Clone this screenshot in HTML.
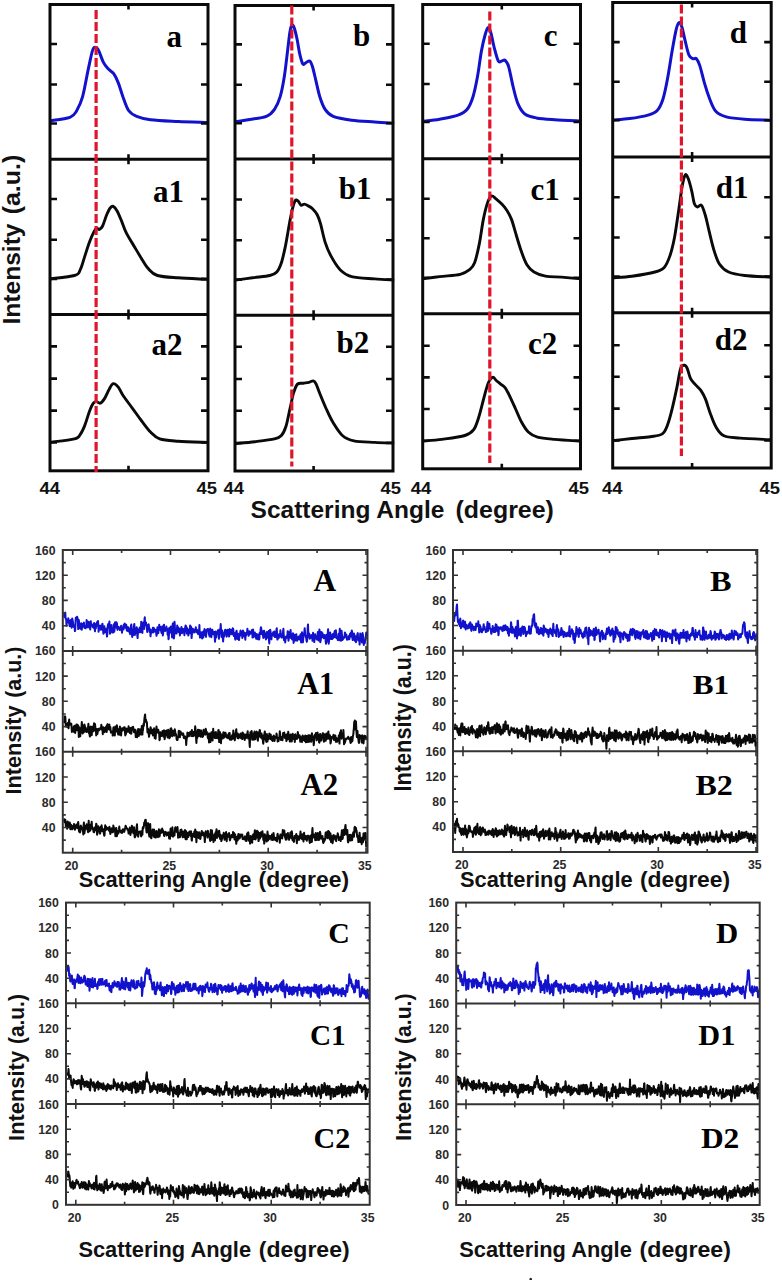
<!DOCTYPE html>
<html><head><meta charset="utf-8"><title>XRD figure</title>
<style>
html,body{margin:0;padding:0;background:#fff;}
body{width:782px;height:1280px;overflow:hidden;font-family:"Liberation Sans",sans-serif;}
svg{display:block;}
</style></head><body>
<svg width="782" height="1280" viewBox="0 0 782 1280">
<g fill="none" stroke-linecap="butt">
<path d="M49.2,120.9 C52.7,120.3 65.3,119.1 69.9,117.4 C74.5,115.7 74.7,114 76.8,110.5 C78.9,107 80.7,103.6 82.6,96.7 C84.5,89.8 86.6,76.8 88.3,69.1 C90,61.4 91.3,54.2 92.5,50.6 C93.7,47 94.2,47.2 95.2,47.2 C96.2,47.2 97.4,48.1 98.7,50.6 C100,53.1 101.8,59.2 103.3,62.2 C104.8,65.2 106.2,66.7 107.9,68.6 C109.6,70.5 112,71.3 113.7,73.7 C115.4,76.1 116.8,79.1 118.3,82.9 C119.8,86.7 121.2,92.1 122.9,96.7 C124.6,101.3 126.3,107.2 128.6,110.5 C130.9,113.8 133,114.8 136.7,116.3 C140.3,117.8 143.6,118.8 150.5,119.7 C157.4,120.6 168.5,121 178.1,121.5 C187.7,122 203,122.3 208,122.5" stroke="#1212cc" stroke-width="3.0" stroke-linejoin="round"/>
<path d="M49.2,278.9 C53.4,278.3 69.3,277 74.5,275.5 C79.7,274 78.6,273 80.3,269.7 C82,266.4 83.4,260.5 84.9,255.9 C86.4,251.3 88.1,245.9 89.5,242.1 C90.9,238.3 92.2,235.2 93.4,232.9 C94.6,230.6 95.4,228.9 96.4,228.3 C97.4,227.7 98.4,229.8 99.4,229.4 C100.4,229 101.4,228.5 102.6,226 C103.8,223.5 105.5,217.5 106.8,214.5 C108.1,211.5 109.1,209.3 110.2,208 C111.3,206.7 112.1,205.9 113.2,206.4 C114.3,206.9 115.7,208.5 117.1,211 C118.5,213.5 120.2,217.8 121.7,221.4 C123.2,225.1 124.2,228.7 126.3,232.9 C128.4,237.1 131.9,242.5 134.4,246.7 C136.9,250.9 139,254.5 141.3,258.2 C143.6,261.9 145.5,265.7 148.2,268.6 C150.9,271.5 152.4,274 157.4,275.5 C162.4,277 169.7,277.2 178.1,277.8 C186.5,278.4 203,279.1 208,279.4" stroke="#0a0a0a" stroke-width="2.9" stroke-linejoin="round"/>
<path d="M49.2,442.4 C53.4,441.8 69.3,440.2 74.5,438.9 C79.7,437.5 78.6,436.6 80.3,434.3 C82,432 83.4,428.9 84.9,425.1 C86.4,421.3 88.1,415 89.5,411.3 C90.9,407.6 92.2,404.8 93.4,403.2 C94.6,401.6 95.2,401.6 96.4,401.6 C97.6,401.6 99,403.7 100.3,403.2 C101.6,402.7 103,400.9 104.5,398.6 C106,396.3 107.6,391.9 109.1,389.4 C110.5,386.9 111.7,384.1 113.2,383.7 C114.7,383.3 116.7,385.2 118.3,387.1 C119.9,389 120.6,391.8 122.9,395.2 C125.2,398.6 129,403.6 132.1,407.8 C135.2,412 138.2,416.5 141.3,420.5 C144.4,424.5 147.4,428.9 150.5,432 C153.6,435.1 155.1,437.4 159.7,438.9 C164.3,440.4 170,440.6 178.1,441.2 C186.2,441.8 203,442.2 208,442.4" stroke="#0a0a0a" stroke-width="2.9" stroke-linejoin="round"/>
<rect x="50" y="4.5" width="158" height="466.3" stroke="#0a0a0a" stroke-width="3"/>
<path d="M50,159.2H208 M50,314.4H208" stroke="#0a0a0a" stroke-width="3"/>
<path d="M50,44h7 M208,44h-7 M50,84.5h7 M208,84.5h-7 M50,123.5h7 M208,123.5h-7 M128.5,4.5v5 M128.5,159.2v-5 M50,199h7 M208,199h-7 M50,239.8h7 M208,239.8h-7 M50,278.9h7 M208,278.9h-7 M128.5,159.2v5 M128.5,314.4v-5 M50,346.4h7 M208,346.4h-7 M50,378.6h7 M208,378.6h-7 M50,410.6h7 M208,410.6h-7 M50,442.4h7 M208,442.4h-7 M128.5,314.4v5 M128.5,470.8v-5 " stroke="#0a0a0a" stroke-width="2.6"/>
<path d="M96.1,10V472" stroke="#e0142a" stroke-width="3.2" stroke-dasharray="9 3"/>
<path d="M234.2,122 C236.5,121.6 242.6,120.7 248,119.7 C253.4,118.8 262,118 266.4,116.3 C270.8,114.6 272.2,112.6 274.5,109.3 C276.8,106 278.6,102.2 280.2,96.7 C281.8,91.2 283.2,83.7 284.4,76 C285.6,68.3 286.7,57.9 287.6,50.6 C288.5,43.3 289.2,36.4 289.9,32.2 C290.6,28 291.1,26.1 291.8,25.3 C292.5,24.5 293.3,25.5 294.1,27.6 C294.9,29.7 295.9,33.6 296.8,38 C297.8,42.4 298.8,49.8 299.8,54.1 C300.8,58.4 301.8,62.6 302.8,64 C303.8,65.4 304.9,63.1 306,62.6 C307.1,62.1 308.6,60.3 309.7,61 C310.8,61.7 311.5,63.5 312.5,66.8 C313.5,70.1 314.7,75.6 315.9,80.6 C317.1,85.6 318.3,91.9 319.8,96.7 C321.3,101.5 322.9,106 325.1,109.3 C327.3,112.6 328.8,114.5 333.2,116.3 C337.6,118.1 344.7,119.2 351.6,120.2 C358.5,121.2 367.5,121.5 374.6,122 C381.7,122.5 390.9,123 394.2,123.2" stroke="#1212cc" stroke-width="3.0" stroke-linejoin="round"/>
<path d="M235.4,280.1 C238.3,279.7 246.8,278.6 252.6,277.8 C258.3,277 265.9,276.5 269.9,275.5 C273.9,274.5 274.9,274.1 276.8,272 C278.7,269.9 280,267 281.4,262.8 C282.8,258.6 284,252.8 285.3,246.7 C286.6,240.6 287.9,232.1 289,226 C290.1,219.9 291.2,214.1 292.2,209.9 C293.2,205.7 294.2,202.1 295.2,200.6 C296.2,199.1 297.2,200.3 298.2,201.1 C299.2,201.9 300,204.7 301,205.2 C302,205.7 303.2,204 304.4,204.1 C305.5,204.2 306.5,204.9 307.9,205.7 C309.2,206.5 311,207.2 312.5,208.7 C314,210.2 315.8,212 317.1,214.5 C318.4,217 319.2,219.1 320.5,223.7 C321.8,228.3 323.4,236.7 325.1,242.1 C326.8,247.5 328.4,251.3 330.9,255.9 C333.4,260.5 336.7,266.2 340.1,269.7 C343.6,273.1 345.9,275.1 351.6,276.6 C357.4,278.1 367.5,278.3 374.6,278.9 C381.7,279.5 390.9,279.9 394.2,280.1" stroke="#0a0a0a" stroke-width="2.9" stroke-linejoin="round"/>
<path d="M235.4,443.5 C238.7,443.2 248.4,442.5 254.9,441.7 C261.4,440.9 270.1,439.9 274.5,438.9 C278.9,437.9 279.5,437.6 281.4,435.5 C283.3,433.4 284.6,430.7 286,426.3 C287.4,421.9 288.6,414.6 289.9,409 C291.2,403.4 292.3,397 293.6,392.9 C294.9,388.8 295.9,385.7 297.5,384.1 C299.1,382.5 301.4,383.5 303.3,383.2 C305.2,382.9 307.4,382.7 309,382.3 C310.6,381.9 312.1,380.7 313.2,380.9 C314.3,381.1 314.7,381.3 315.9,383.7 C317.1,386.1 318.8,391 320.5,395.2 C322.2,399.4 324.2,404.4 326.3,409 C328.4,413.6 330.5,418.4 333.2,422.8 C335.9,427.2 338.9,432.5 342.4,435.5 C345.8,438.5 348.5,439.7 353.9,440.8 C359.3,441.9 367.9,442 374.6,442.4 C381.3,442.8 390.9,442.9 394.2,443" stroke="#0a0a0a" stroke-width="2.9" stroke-linejoin="round"/>
<rect x="235" y="5.5" width="158" height="465.5" stroke="#0a0a0a" stroke-width="3"/>
<path d="M235,159H393 M235,315.2H393" stroke="#0a0a0a" stroke-width="3"/>
<path d="M235,44.4h7 M393,44.4h-7 M235,84.7h7 M393,84.7h-7 M235,123.2h7 M393,123.2h-7 M313.6,5.5v5 M313.6,159v-5 M235,199.5h7 M393,199.5h-7 M235,240.2h7 M393,240.2h-7 M235,279.6h7 M393,279.6h-7 M313.6,159v5 M313.6,315.2v-5 M235,346.8h7 M393,346.8h-7 M235,379h7 M393,379h-7 M235,410.8h7 M393,410.8h-7 M235,443h7 M393,443h-7 M313.6,315.2v5 M313.6,471v-5 " stroke="#0a0a0a" stroke-width="2.6"/>
<path d="M291.8,5.5V466.5" stroke="#e0142a" stroke-width="3.2" stroke-dasharray="9 3"/>
<path d="M422.4,121.5 C425.3,121.1 433.7,120.3 439.6,119.2 C445.5,118.1 453.4,116.8 458,115.1 C462.6,113.4 464.7,112.4 467.2,109.3 C469.7,106.2 471.3,102.2 473,96.7 C474.7,91.2 476.2,83.7 477.6,76 C479,68.3 480.2,57.5 481.5,50.6 C482.8,43.7 484.1,38.3 485.2,34.5 C486.3,30.7 487.1,28 488,27.6 C488.9,27.2 489.6,28.8 490.7,32.2 C491.8,35.7 493.1,43.5 494.4,48.3 C495.7,53.1 497.1,58.9 498.3,61 C499.5,63.1 500.7,61.1 501.8,61 C502.9,60.9 504.1,59.3 505.2,60.3 C506.3,61.3 507.4,62.3 508.7,66.8 C510,71.3 511.8,81.4 513.3,87.5 C514.8,93.6 516,99.2 517.9,103.6 C519.8,108 521.7,111.6 524.8,114 C527.9,116.4 531.3,117 536.3,117.9 C541.3,118.9 547.2,119.2 554.7,119.7 C562.2,120.2 576.8,120.7 581.2,120.9" stroke="#1212cc" stroke-width="3.0" stroke-linejoin="round"/>
<path d="M422.4,278.9 C425.3,278.5 433.3,277.4 439.6,276.6 C445.9,275.8 455.3,275.5 460.3,274.3 C465.3,273.1 467.2,271.6 469.6,269.7 C472,267.8 473,267 474.6,262.8 C476.2,258.6 477.7,251.7 479.2,244.4 C480.7,237.1 482,226 483.4,219.1 C484.8,212.2 486.2,206.8 487.5,202.9 C488.8,199.1 490,196.7 491.4,196 C492.8,195.3 494.3,197.5 496,198.8 C497.7,200.2 500,202.2 501.8,204.1 C503.6,206 505.2,207.8 506.8,210.3 C508.4,212.8 509.9,215.3 511.4,219.1 C512.9,222.9 514,227.5 515.6,232.9 C517.2,238.3 519.4,245.9 521.3,251.3 C523.2,256.7 525,261.7 527.1,265.1 C529.2,268.6 530.9,270.1 534,272 C537.1,273.9 540.9,275.3 545.5,276.2 C550.1,277.1 555.6,276.7 561.6,277.1 C567.6,277.6 577.9,278.6 581.2,278.9" stroke="#0a0a0a" stroke-width="2.9" stroke-linejoin="round"/>
<path d="M422.4,441.2 C425.6,440.9 434.8,440.3 441.9,439.4 C449,438.4 459.6,437.1 464.9,435.5 C470.2,433.9 471.4,432.8 473.7,429.7 C476,426.6 477.2,422 478.8,417 C480.4,412 481.9,405.4 483.4,399.8 C484.9,394.2 486.5,387.5 488,383.7 C489.5,379.9 491.3,377.8 492.6,377.2 C493.9,376.6 494.7,379 496,380.2 C497.3,381.4 499.1,382.8 500.6,384.1 C502.1,385.4 503.7,385.8 505.2,387.8 C506.7,389.8 508.1,392.8 509.8,396.3 C511.5,399.8 513.7,404.8 515.6,409 C517.5,413.2 519.2,417.8 521.3,421.6 C523.4,425.4 525.6,429.4 528.3,432 C531,434.6 533.1,435.9 537.5,437.1 C541.9,438.3 547.4,438.7 554.7,439.4 C562,440.1 576.8,440.9 581.2,441.2" stroke="#0a0a0a" stroke-width="2.9" stroke-linejoin="round"/>
<rect x="422.7" y="4.5" width="157.8" height="464.3" stroke="#0a0a0a" stroke-width="3"/>
<path d="M422.7,158.8H580.5 M422.7,313.7H580.5" stroke="#0a0a0a" stroke-width="3"/>
<path d="M422.7,43.7h7 M580.5,43.7h-7 M422.7,84h7 M580.5,84h-7 M422.7,122h7 M580.5,122h-7 M501.8,4.5v5 M501.8,158.8v-5 M422.7,198.8h7 M580.5,198.8h-7 M422.7,238.2h7 M580.5,238.2h-7 M422.7,277.8h7 M580.5,277.8h-7 M501.8,158.8v5 M501.8,313.7v-5 M422.7,345.7h7 M580.5,345.7h-7 M422.7,377.4h7 M580.5,377.4h-7 M422.7,409h7 M580.5,409h-7 M422.7,440.8h7 M580.5,440.8h-7 M501.8,313.7v5 M501.8,468.8v-5 " stroke="#0a0a0a" stroke-width="2.6"/>
<path d="M489.8,11.5V463" stroke="#e0142a" stroke-width="3.2" stroke-dasharray="9 3"/>
<path d="M612.4,120.2 C615.3,119.9 623.7,119.4 629.6,118.6 C635.5,117.8 643.4,116.4 648,115.1 C652.6,113.8 654.7,113.2 657.2,110.5 C659.7,107.8 661.3,104.4 663,99 C664.7,93.6 666.1,86.4 667.6,78.3 C669.1,70.2 670.8,58.7 672.2,50.6 C673.6,42.5 675,34.6 676.1,29.9 C677.2,25.2 678.1,23 679.1,22.6 C680.1,22.2 681.1,24.5 682.1,27.6 C683.1,30.7 684.1,36.8 685.3,41.4 C686.4,46 687.7,52.3 689,55.2 C690.3,58.1 691.7,58.1 692.9,58.7 C694.1,59.3 695.2,57.6 696.4,58.7 C697.5,59.9 698.5,61.6 699.8,65.6 C701.1,69.6 702.8,77.3 704.4,82.9 C706,88.5 707.8,94.2 709.7,99 C711.6,103.8 713.2,108.6 716,111.6 C718.8,114.6 721.5,115.6 726.3,116.9 C731.1,118.2 737.2,118.7 744.7,119.2 C752.2,119.8 766.8,120 771.2,120.2" stroke="#1212cc" stroke-width="3.0" stroke-linejoin="round"/>
<path d="M612.4,277.8 C615.6,277.5 624.8,277.2 631.9,276.2 C639,275.2 649.5,273.5 654.9,272 C660.3,270.5 661.7,270.1 664.2,267.4 C666.7,264.7 668.2,260.9 669.9,255.9 C671.6,250.9 673.1,244.8 674.5,237.5 C675.9,230.2 677.1,220.6 678.4,212.2 C679.7,203.8 681,193 682.1,186.8 C683.2,180.6 684.3,176.2 685.3,174.9 C686.3,173.6 687.2,176.1 688.3,178.8 C689.4,181.6 690.8,187.2 691.8,191.4 C692.8,195.6 693.5,201.5 694.5,204.1 C695.5,206.7 696.4,206.9 697.5,207.1 C698.6,207.3 700.1,204 701.4,205.2 C702.7,206.4 703.8,210.3 705.1,214.5 C706.4,218.7 707.6,224.8 709,230.6 C710.4,236.3 711.9,243.4 713.6,249 C715.3,254.6 716.9,260.2 719.4,264 C721.9,267.8 724.4,270.1 728.6,272 C732.8,273.9 737.6,274.6 744.7,275.5 C751.8,276.4 766.8,276.8 771.2,277.1" stroke="#0a0a0a" stroke-width="2.9" stroke-linejoin="round"/>
<path d="M612.4,440.8 C615.6,440.4 625.6,439.2 631.9,438.5 C638.2,437.8 645.2,437.5 650.3,436.7 C655.4,435.9 659.4,435.9 662.3,433.9 C665.2,431.9 666,428.9 667.6,424.7 C669.2,420.5 670.7,414.7 672.2,408.6 C673.7,402.5 675.4,394.6 676.8,387.9 C678.2,381.2 679.4,372.1 680.7,368.3 C682,364.5 683.3,365.3 684.4,365.3 C685.5,365.3 686.2,366.1 687.2,368.3 C688.2,370.5 689.3,376 690.6,378.7 C691.9,381.4 693.5,382.4 695.2,384.4 C696.9,386.4 699.3,388.1 701,390.6 C702.7,393.1 704.1,395.6 705.6,399.4 C707.1,403.2 708.5,408.6 710.2,413.2 C711.9,417.8 713.7,423.2 716,427 C718.3,430.8 720,433.9 724,435.8 C728,437.7 732.2,437.5 740.1,438.1 C748,438.8 766,439.4 771.2,439.7" stroke="#0a0a0a" stroke-width="2.9" stroke-linejoin="round"/>
<rect x="612.7" y="2.5" width="158.5" height="465.5" stroke="#0a0a0a" stroke-width="3"/>
<path d="M612.7,157H771.2 M612.7,312.7H771.2" stroke="#0a0a0a" stroke-width="3"/>
<path d="M612.7,42.1h7 M771.2,42.1h-7 M612.7,81.7h7 M771.2,81.7h-7 M612.7,120.2h7 M771.2,120.2h-7 M692.1,2.5v5 M692.1,157v-5 M612.7,197.2h7 M771.2,197.2h-7 M612.7,237.5h7 M771.2,237.5h-7 M612.7,276.6h7 M771.2,276.6h-7 M692.1,157v5 M692.1,312.7v-5 M612.7,345.3h7 M771.2,345.3h-7 M612.7,376.8h7 M771.2,376.8h-7 M612.7,408.6h7 M771.2,408.6h-7 M612.7,440.4h7 M771.2,440.4h-7 M692.1,312.7v5 M692.1,468v-5 " stroke="#0a0a0a" stroke-width="2.6"/>
<path d="M681.4,4.6V456" stroke="#e0142a" stroke-width="3.2" stroke-dasharray="9 3"/>
</g>
<g font-family="Liberation Serif" font-weight="bold" font-size="31" fill="#000">
<text x="166.5" y="47.2">a</text>
<text x="153.1" y="201.8">a1</text>
<text x="151.5" y="354.9">a2</text>
<text x="353.1" y="46">b</text>
<text x="338.8" y="198.8">b1</text>
<text x="336.5" y="352.6">b2</text>
<text x="543.7" y="46">c</text>
<text x="530.4" y="200.2">c1</text>
<text x="528.1" y="353.7">c2</text>
<text x="729.7" y="43.3">d</text>
<text x="715.8" y="198.3">d1</text>
<text x="714.7" y="349.9">d2</text>
</g>
<g font-family="Liberation Sans" font-weight="bold" font-size="17" fill="#111">
<text x="39.6" y="494" textLength="20.5" lengthAdjust="spacingAndGlyphs">44</text>
<text x="196.5" y="494" textLength="20.5" lengthAdjust="spacingAndGlyphs">45</text>
<text x="223.4" y="494" textLength="20.5" lengthAdjust="spacingAndGlyphs">44</text>
<text x="380.5" y="494" textLength="20.5" lengthAdjust="spacingAndGlyphs">45</text>
<text x="410.8" y="494" textLength="20.5" lengthAdjust="spacingAndGlyphs">44</text>
<text x="568.5" y="494" textLength="20.5" lengthAdjust="spacingAndGlyphs">45</text>
<text x="602" y="494" textLength="20.5" lengthAdjust="spacingAndGlyphs">44</text>
<text x="759.5" y="494" textLength="20.5" lengthAdjust="spacingAndGlyphs">45</text>
</g>
<text transform="translate(250.60,518.00) scale(1.0895,1.0238)" font-family="Liberation Sans" font-weight="bold" font-size="22.5" fill="#111">Scattering Angle</text>
<text transform="translate(455.50,518.00) scale(1.1086,1.0238)" font-family="Liberation Sans" font-weight="bold" font-size="22.5" fill="#111">(degree)</text>
<text transform="translate(19.60,324.50) rotate(-90) scale(1.0684,1.0315)" font-family="Liberation Sans" font-weight="bold" font-size="23" fill="#111">Intensity</text>
<text transform="translate(19.60,214.30) rotate(-90) scale(1.0842,1.0315)" font-family="Liberation Sans" font-weight="bold" font-size="23" fill="#111">(a.u.)</text>
<g fill="none">
<polyline points="63.8,616.9 64.1,615.1 64.4,615.9 64.7,617.1 65,613.1 65.3,612.6 65.6,618.8 65.9,618.5 66.2,619.5 66.5,625.8 66.8,622.6 67.1,619.9 67.4,620.4 67.7,619.9 68,619.7 68.3,618.3 68.6,620.3 68.9,623.1 69.2,623.4 69.5,625.3 69.8,626.1 70.1,623.7 70.4,622.1 70.7,620 71,620.4 71.3,624.8 71.6,627.7 71.9,624.4 72.2,618.5 72.5,619.6 72.8,621.3 73.1,623.4 73.4,626.6 73.7,626.4 74,627.2 74.3,625.4 74.6,625.9 74.9,631.1 75.2,630.3 75.5,622.4 75.8,617.7 76.1,618.3 76.4,617.5 76.7,617.3 77,616.7 77.3,617.3 77.6,618.3 77.9,623.9 78.2,629.1 78.5,622.8 78.8,620.1 79.1,622.6 79.4,625.7 79.7,628.2 80,628 80.3,625.4 80.6,626.5 80.9,628.9 81.2,623.2 81.5,625.2 81.8,629.7 82.1,626.4 82.4,624.1 82.7,625.2 83,626.5 83.3,626.2 83.6,623.2 83.9,622.6 84.2,626 84.5,627.9 84.8,627.8 85.1,626.2 85.4,627.9 85.7,628.2 86,626.8 86.3,626 86.6,620.1 86.9,620.8 87.2,626.2 87.5,627.1 87.8,624.6 88.1,626.9 88.4,627.2 88.7,621.8 89,624.3 89.3,626.1 89.6,623.2 89.9,627.5 90.2,629.4 90.5,622.5 90.8,621.2 91.1,624.9 91.4,624.4 91.7,625.3 92,625.6 92.3,625.6 92.6,627 92.9,625.2 93.2,624.4 93.5,627.7 93.8,626.4 94.1,622.9 94.4,625.5 94.7,629.4 95,631.3 95.3,625.8 95.6,628 95.9,628.3 96.2,623.5 96.5,625.6 96.8,624.1 97.1,621.9 97.4,625.8 97.7,625.5 98,621.1 98.3,625 98.6,631.7 98.9,629.5 99.2,625.8 99.5,625.8 99.8,625.9 100.1,625.5 100.4,626.8 100.7,627.1 101,629.8 101.3,629.4 101.6,625.8 101.9,628.1 102.2,624.1 102.5,623.9 102.8,628 103.1,630.7 103.4,633.7 103.7,632.4 104,629 104.3,626.2 104.6,629.4 104.9,632.4 105.2,631.1 105.5,631.4 105.8,632 106.1,629.7 106.4,628.6 106.7,633.3 107,636.6 107.3,634.4 107.6,628.3 107.9,625 108.2,623.9 108.5,624.1 108.8,625 109.1,623.7 109.4,621.6 109.7,627.9 110,633.8 110.3,628.8 110.6,625.8 110.9,625.4 111.2,625.9 111.5,625.1 111.8,629 112.1,632.5 112.4,631 112.7,632 113,628.9 113.3,632.5 113.6,630.4 113.9,624.2 114.2,631.7 114.5,630.4 114.8,623.7 115.1,622.2 115.4,624.3 115.7,627.6 116,623.9 116.3,622.2 116.6,623 116.9,623.1 117.2,628.4 117.5,629.9 117.8,628.3 118.1,627.8 118.4,626.7 118.7,627 119,628.6 119.3,627.8 119.6,628.4 119.9,630.1 120.2,628.8 120.5,628.4 120.8,627.6 121.1,625.8 121.4,625.8 121.7,629.9 122,632.7 122.3,629.3 122.6,629.5 122.9,627.8 123.2,627.2 123.5,629.4 123.8,624.8 124.1,624.4 124.4,624.1 124.7,623.6 125,627.3 125.3,627.8 125.6,626.3 125.9,625.9 126.2,624.6 126.5,626.9 126.8,630.6 127.1,628.4 127.4,629.7 127.7,631.1 128,627.1 128.3,627.4 128.6,628.6 128.9,628.6 129.2,631.2 129.5,632.6 129.8,631.3 130.1,634.2 130.4,632.1 130.7,628.1 131,625.6 131.3,624.4 131.6,628.5 131.9,633.3 132.2,636.9 132.5,633.2 132.8,633.1 133.1,635.2 133.4,631.4 133.7,628.7 134,625.7 134.3,623.9 134.6,629.1 134.9,635 135.2,631.9 135.5,631.6 135.8,633 136.1,630.4 136.4,628.6 136.7,627.2 137,629 137.3,635.4 137.6,638.1 137.9,632.1 138.2,629.6 138.5,630.6 138.8,630.2 139.1,632.4 139.4,630.8 139.7,627.4 140,629.7 140.3,631.8 140.6,632.1 140.9,630.3 141.2,621.7 141.5,622.6 141.8,627.9 142.1,632 142.4,632.9 142.7,623.1 143,622.5 143.3,625 143.6,625.1 143.9,628.8 144.2,628.9 144.5,619.4 144.8,617.3 145.1,624.1 145.4,625.4 145.7,624.3 146,622.5 146.3,624.4 146.6,625.4 146.9,627.3 147.2,631.9 147.5,629.3 147.8,629.4 148.1,629.4 148.4,625 148.7,624.3 149,627.5 149.3,628.2 149.6,631.8 149.9,629.8 150.2,629.3 150.5,636.3 150.8,633.3 151.1,630.7 151.4,630.5 151.7,632.8 152,631.9 152.3,629.5 152.6,631.4 152.9,627.8 153.2,627.7 153.5,632.4 153.8,630.8 154.1,628.3 154.4,630.4 154.7,631.4 155,631.1 155.3,630.8 155.6,630.2 155.9,629.8 156.2,633.2 156.5,635.8 156.8,634.1 157.1,631 157.4,627.3 157.7,628 158,632.4 158.3,633.1 158.6,630.4 158.9,628.8 159.2,624.8 159.5,628.2 159.8,628.9 160.1,626.4 160.4,629.6 160.7,630.3 161,628.4 161.3,632 161.6,632.9 161.9,628.6 162.2,626.5 162.5,628.4 162.8,635.5 163.1,633.6 163.4,629.1 163.7,625.2 164,624.7 164.3,628.1 164.6,628.6 164.9,629.3 165.2,631 165.5,630 165.8,629.6 166.1,629 166.4,626.5 166.7,630.2 167,628.9 167.3,628.6 167.6,634.8 167.9,633.5 168.2,632.8 168.5,639.3 168.8,638.1 169.1,629.8 169.4,627.7 169.7,632.8 170,632 170.3,629.1 170.6,630.3 170.9,626.5 171.2,628.5 171.5,631.9 171.8,633.1 172.1,637.4 172.4,633.6 172.7,623.9 173,623.3 173.3,628 173.6,630.7 173.9,638.5 174.2,635.8 174.5,621.7 174.8,624.7 175.1,633.5 175.4,632.4 175.7,630.5 176,629.6 176.3,630.1 176.6,633.5 176.9,630.2 177.2,625.6 177.5,627.9 177.8,629.5 178.1,627.3 178.4,631.1 178.7,632.1 179,628.2 179.3,630.1 179.6,630.9 179.9,635.4 180.2,632.6 180.5,629 180.8,632.8 181.1,630.6 181.4,627 181.7,630.9 182,633.2 182.3,628.6 182.6,630 182.9,631.3 183.2,629 183.5,630.6 183.8,630.2 184.1,632.8 184.4,635.2 184.7,630.3 185,628.4 185.3,626.9 185.6,625.5 185.9,628.2 186.2,626.2 186.5,630.9 186.8,633.4 187.1,628 187.4,629.8 187.7,629.1 188,629.4 188.3,635.5 188.6,634.5 188.9,632 189.2,633 189.5,633 189.8,630.4 190.1,625.6 190.4,633.1 190.7,632.8 191,626.6 191.3,633.3 191.6,638.1 191.9,634.8 192.2,629.4 192.5,629.6 192.8,628.6 193.1,629.5 193.4,630.7 193.7,631.9 194,632.5 194.3,631.2 194.6,631.7 194.9,629.5 195.2,630 195.5,629.1 195.8,627.3 196.1,629.9 196.4,632.3 196.7,631.1 197,629.8 197.3,630.7 197.6,632.1 197.9,633.2 198.2,634.1 198.5,632.5 198.8,632.1 199.1,630.6 199.4,625 199.7,632.7 200,637.6 200.3,633.8 200.6,636.8 200.9,633.7 201.2,632.3 201.5,633.7 201.8,634.7 202.1,638.5 202.4,637.3 202.7,632.1 203,635.1 203.3,637.5 203.6,631.1 203.9,635.5 204.2,632.1 204.5,629 204.8,632.5 205.1,631.4 205.4,632.7 205.7,632.9 206,636.8 206.3,633.4 206.6,629.8 206.9,630 207.2,629.3 207.5,630.3 207.8,628.9 208.1,628.9 208.4,630.9 208.7,632.9 209,634.7 209.3,635.1 209.6,636.5 209.9,633.9 210.2,628.5 210.5,629.4 210.8,631.9 211.1,635.9 211.4,637.2 211.7,633.5 212,630.7 212.3,629.7 212.6,632.1 212.9,633.9 213.2,634.1 213.5,633.5 213.8,631.8 214.1,632.1 214.4,633.6 214.7,637 215,641.7 215.3,637.7 215.6,631.5 215.9,636.4 216.2,637.5 216.5,634.1 216.8,633.7 217.1,633.5 217.4,633.6 217.7,631 218,630.2 218.3,631.4 218.6,634.6 218.9,638.8 219.2,635.1 219.5,629.5 219.8,629.6 220.1,633.1 220.4,629.9 220.7,624.1 221,628.7 221.3,634.2 221.6,636.9 221.9,632.7 222.2,630.5 222.5,633.9 222.8,637.6 223.1,641.5 223.4,637.8 223.7,633.2 224,634.8 224.3,636.4 224.6,633.8 224.9,630.6 225.2,629.7 225.5,631.4 225.8,632.9 226.1,630.3 226.4,632.4 226.7,636.7 227,635 227.3,632.2 227.6,629.8 227.9,633.6 228.2,633.1 228.5,630.3 228.8,634.6 229.1,636.6 229.4,635.2 229.7,629.1 230,630.4 230.3,634 230.6,630.2 230.9,630.8 231.2,632.5 231.5,630.1 231.8,630.5 232.1,634.3 232.4,630.7 232.7,628.3 233,628.5 233.3,629.6 233.6,633.7 233.9,636.1 234.2,635.9 234.5,633.1 234.8,634.5 235.1,638.9 235.4,639.6 235.7,636.6 236,634.8 236.3,631.2 236.6,630.7 236.9,633.9 237.2,634.3 237.5,639 237.8,637.5 238.1,633.8 238.4,637.3 238.7,638.4 239,640.1 239.3,637.1 239.6,636.3 239.9,635.8 240.2,632.1 240.5,630.6 240.8,631 241.1,633.4 241.4,634.7 241.7,634.2 242,634.2 242.3,637.9 242.6,634.4 242.9,630.5 243.2,631.2 243.5,636.3 243.8,633.9 244.1,632.5 244.4,636.3 244.7,633.5 245,636.4 245.3,639.7 245.6,636.4 245.9,633 246.2,635.2 246.5,633.8 246.8,633 247.1,631.8 247.4,628.8 247.7,632.5 248,632.8 248.3,631.9 248.6,635.8 248.9,633.6 249.2,631.2 249.5,634.5 249.8,633.7 250.1,633 250.4,632 250.7,632 251,633.4 251.3,631.3 251.6,632.6 251.9,629.9 252.2,630.3 252.5,637.5 252.8,633.6 253.1,629.6 253.4,634.1 253.7,637.2 254,635.2 254.3,634.7 254.6,635 254.9,632.5 255.2,636.1 255.5,634.7 255.8,635 256.1,638.6 256.4,636.3 256.7,634.1 257,634.9 257.3,639.2 257.6,637.1 257.9,636.9 258.2,636.1 258.5,634.5 258.8,636.8 259.1,639.6 259.4,638.4 259.7,632.8 260,633.5 260.3,634.1 260.6,629.3 260.9,627.3 261.2,627.9 261.5,631.4 261.8,634.1 262.1,631 262.4,632.4 262.7,634.8 263,635.2 263.3,637.9 263.6,635.3 263.9,630.8 264.2,630.8 264.5,634.2 264.8,637.3 265.1,635.4 265.4,633.6 265.7,637.5 266,639.4 266.3,638 266.6,634.8 266.9,631.9 267.2,634.7 267.5,637.1 267.8,637.5 268.1,637.9 268.4,635.1 268.7,631 269,641 269.3,643.4 269.6,632.7 269.9,630 270.2,629.8 270.5,631.2 270.8,636.3 271.1,638.1 271.4,639.4 271.7,636.5 272,635 272.3,635.5 272.6,633.3 272.9,634.9 273.2,632.3 273.5,632.7 273.8,635.8 274.1,634.7 274.4,631.4 274.7,633.7 275,637.1 275.3,635.3 275.6,633.1 275.9,636.7 276.2,637 276.5,629.1 276.8,628.3 277.1,637 277.4,639.6 277.7,636.5 278,634.5 278.3,635.5 278.6,638.3 278.9,636.4 279.2,634.9 279.5,634 279.8,636.3 280.1,636.5 280.4,630.3 280.7,633.3 281,634 281.3,634.2 281.6,637.6 281.9,635.9 282.2,636.4 282.5,637.4 282.8,636.2 283.1,631.4 283.4,628.7 283.7,634.3 284,640.1 284.3,640.3 284.6,636.6 284.9,638.2 285.2,642.4 285.5,639.3 285.8,637.5 286.1,637.4 286.4,636.6 286.7,636 287,637.7 287.3,637.6 287.6,631.3 287.9,631.3 288.2,637.2 288.5,640.7 288.8,638 289.1,634.8 289.4,632.8 289.7,632.1 290,637.7 290.3,633.1 290.6,629.9 290.9,635.3 291.2,637.9 291.5,634.1 291.8,635.5 292.1,639.5 292.4,638.3 292.7,636.5 293,633.3 293.3,636.3 293.6,642.9 293.9,641.3 294.2,636.6 294.5,634.8 294.8,636.3 295.1,640.6 295.4,636.3 295.7,635.3 296,635.9 296.3,634.2 296.6,637.5 296.9,640.6 297.2,640.7 297.5,639.6 297.8,638.1 298.1,637.5 298.4,636.8 298.7,637 299,636.4 299.3,639.4 299.6,638.5 299.9,637.3 300.2,639.6 300.5,634.3 300.8,636.6 301.1,642.4 301.4,638.4 301.7,634.4 302,632.3 302.3,633.7 302.6,640.8 302.9,642.4 303.2,639.2 303.5,636 303.8,634.9 304.1,635.1 304.4,631.6 304.7,628.2 305,631.8 305.3,635.2 305.6,635.6 305.9,637.2 306.2,638 306.5,640.6 306.8,641.9 307.1,640.4 307.4,638.3 307.7,627.5 308,624.4 308.3,632.6 308.6,636.8 308.9,634 309.2,633.5 309.5,636.5 309.8,638.7 310.1,637.6 310.4,636.7 310.7,635.6 311,636.4 311.3,636.3 311.6,635.1 311.9,638.2 312.2,637.8 312.5,640.8 312.8,635.8 313.1,632.7 313.4,640.4 313.7,638 314,637.7 314.3,642.1 314.6,637.1 314.9,634.4 315.2,634.3 315.5,638.3 315.8,638.5 316.1,638.4 316.4,637.7 316.7,636.9 317,639.6 317.3,635.9 317.6,634.4 317.9,631.9 318.2,635.3 318.5,640.5 318.8,638.2 319.1,632.9 319.4,629.6 319.7,631.1 320,638.1 320.3,642.2 320.6,641.1 320.9,638.6 321.2,634.5 321.5,632.1 321.8,635.4 322.1,636.9 322.4,632.9 322.7,634.4 323,636.1 323.3,637.2 323.6,638.2 323.9,637.1 324.2,634.9 324.5,636.6 324.8,637.8 325.1,638.1 325.4,636.3 325.7,641.9 326,643.7 326.3,634.8 326.6,639.1 326.9,641.8 327.2,637.3 327.5,636.3 327.8,633.1 328.1,629.2 328.4,636.2 328.7,643.7 329,641.6 329.3,637.3 329.6,636.1 329.9,635.9 330.2,632.4 330.5,635.5 330.8,638.4 331.1,639 331.4,638.7 331.7,635.2 332,637 332.3,639 332.6,636.8 332.9,634.1 333.2,636.8 333.5,637.8 333.8,636.7 334.1,637.1 334.4,632.4 334.7,631.1 335,632.8 335.3,637.1 335.6,636.1 335.9,630.2 336.2,635.9 336.5,638 336.8,637 337.1,638.4 337.4,638.2 337.7,639.9 338,639.6 338.3,635 338.6,633.8 338.9,637.4 339.2,640.3 339.5,634.7 339.8,628.8 340.1,631.3 340.4,637 340.7,638.3 341,640.8 341.3,636.3 341.6,630.8 341.9,634.6 342.2,636.2 342.5,639.9 342.8,639 343.1,639.1 343.4,638.6 343.7,637.9 344,638 344.3,636.6 344.6,636.3 344.9,632.4 345.2,633.1 345.5,635.9 345.8,636.9 346.1,635.9 346.4,634.7 346.7,638.6 347,639.8 347.3,639.4 347.6,638.5 347.9,638.2 348.2,639.2 348.5,637.5 348.8,636 349.1,637.2 349.4,639.2 349.7,637.1 350,633.8 350.3,634.6 350.6,634.8 350.9,632.6 351.2,636.4 351.5,635.7 351.8,630.5 352.1,631.8 352.4,638.2 352.7,640.1 353,636.2 353.3,636.2 353.6,637.6 353.9,633.5 354.2,634.2 354.5,639.3 354.8,640.8 355.1,640.7 355.4,636.3 355.7,637.5 356,642.2 356.3,639.7 356.6,638.2 356.9,637.7 357.2,635.2 357.5,633.7 357.8,633.1 358.1,639.5 358.4,640.4 358.7,638.2 359,639.3 359.3,639 359.6,644.6 359.9,640.5 360.2,633.6 360.5,639.6 360.8,636.5 361.1,634.2 361.4,640.1 361.7,640.3 362,642.5 362.3,640.1 362.6,633.1 362.9,634.8 363.2,636.7 363.5,642.4 363.8,645 364.1,639.9 364.4,643.4 364.7,643.3 365,641 365.3,640.1 365.6,638.9 365.9,635.9 366.2,632.5 366.5,636" stroke="#1212cc" stroke-width="2.0" stroke-linejoin="round"/>
<polyline points="63.8,722.9 64.1,722.5 64.4,721.5 64.7,718.9 65,716.2 65.3,717.1 65.6,722.6 65.9,725.9 66.2,726.5 66.5,725.3 66.8,724.1 67.1,723.8 67.4,726.9 67.7,726.8 68,722.8 68.3,725.9 68.6,728.3 68.9,721.3 69.2,719.6 69.5,725 69.8,723.5 70.1,723.4 70.4,724.2 70.7,724.1 71,724.2 71.3,723.7 71.6,727.7 71.9,732 72.2,729.3 72.5,730 72.8,729.1 73.1,728.9 73.4,729.5 73.7,726.6 74,732 74.3,731.8 74.6,725.8 74.9,729.9 75.2,733 75.5,728.3 75.8,728.2 76.1,727.3 76.4,724.4 76.7,729.9 77,730.2 77.3,724.8 77.6,726.3 77.9,728.3 78.2,725.5 78.5,728.3 78.8,737 79.1,731.7 79.4,727.5 79.7,730.5 80,735.5 80.3,736.3 80.6,730.1 80.9,730.2 81.2,732.4 81.5,726.6 81.8,722 82.1,724.9 82.4,730.3 82.7,733.4 83,732.3 83.3,729.4 83.6,730.5 83.9,732.3 84.2,724.8 84.5,724.6 84.8,726 85.1,727.4 85.4,728.3 85.7,727.7 86,731.8 86.3,730.6 86.6,730.2 86.9,732 87.2,730.5 87.5,729 87.8,730.4 88.1,727 88.4,723.8 88.7,729 89,733.1 89.3,730.9 89.6,735.1 89.9,736.6 90.2,728.9 90.5,726.7 90.8,726.6 91.1,726.7 91.4,730.5 91.7,735.2 92,732.1 92.3,730.1 92.6,729.6 92.9,726.4 93.2,728.8 93.5,731.2 93.8,725.5 94.1,723.2 94.4,729.9 94.7,730.3 95,724 95.3,726.8 95.6,729.8 95.9,729.7 96.2,735.4 96.5,733.7 96.8,729 97.1,730.6 97.4,734 97.7,732.2 98,729.5 98.3,728.8 98.6,728.9 98.9,730.4 99.2,730.1 99.5,729.3 99.8,729.6 100.1,728.8 100.4,727.9 100.7,728.6 101,726.9 101.3,724.8 101.6,726.1 101.9,729.7 102.2,729.8 102.5,730.1 102.8,734.2 103.1,729.5 103.4,727.3 103.7,730.9 104,729.9 104.3,731.4 104.6,732.1 104.9,729.4 105.2,727.7 105.5,729.6 105.8,730.8 106.1,726.6 106.4,727.8 106.7,732 107,728.7 107.3,724.4 107.6,724.1 107.9,726.1 108.2,728.3 108.5,729.3 108.8,726.8 109.1,725.3 109.4,724.6 109.7,728.8 110,730.1 110.3,727 110.6,729.7 110.9,732.6 111.2,732.1 111.5,732 111.8,732.4 112.1,731.9 112.4,731.4 112.7,735.6 113,734.6 113.3,728.3 113.6,727.3 113.9,728.1 114.2,728.4 114.5,731.1 114.8,735.4 115.1,731.2 115.4,726.6 115.7,731.6 116,731.7 116.3,730.9 116.6,729.9 116.9,725.3 117.2,728.1 117.5,731.4 117.8,731.4 118.1,734.4 118.4,732.4 118.7,729.2 119,731.6 119.3,734.7 119.6,731.5 119.9,726.6 120.2,728.6 120.5,730.2 120.8,732.3 121.1,735.4 121.4,731.4 121.7,728.5 122,729.6 122.3,728.3 122.6,730.5 122.9,730.2 123.2,729.7 123.5,729.3 123.8,727.6 124.1,729.9 124.4,730 124.7,727.3 125,732.3 125.3,735.4 125.6,733.9 125.9,734.2 126.2,731.1 126.5,728.7 126.8,728.5 127.1,729 127.4,731.5 127.7,731.8 128,731.7 128.3,730.5 128.6,726.3 128.9,728 129.2,728.8 129.5,729 129.8,732.9 130.1,731.7 130.4,727.9 130.7,730.2 131,733.7 131.3,733.6 131.6,729.2 131.9,727.4 132.2,729.7 132.5,727.7 132.8,727.1 133.1,726.7 133.4,729.1 133.7,731 134,732.2 134.3,731.5 134.6,729.7 134.9,731.1 135.2,729.8 135.5,733.3 135.8,737.1 136.1,734.1 136.4,732.4 136.7,732.9 137,737.3 137.3,733.9 137.6,730.1 137.9,732.3 138.2,728.9 138.5,733.1 138.8,736 139.1,729.6 139.4,730.2 139.7,731.3 140,729.2 140.3,731.7 140.6,734.5 140.9,734.5 141.2,733.8 141.5,730.9 141.8,726 142.1,731.8 142.4,734.6 142.7,730.3 143,730.1 143.3,725.3 143.6,723.7 143.9,725.7 144.2,721.4 144.5,718.2 144.8,715.9 145.1,714.4 145.4,719.7 145.7,721.2 146,719.8 146.3,722.3 146.6,722.1 146.9,722.2 147.2,728.3 147.5,732.4 147.8,731.2 148.1,728.8 148.4,730.3 148.7,733.6 149,736.8 149.3,734.9 149.6,731.1 149.9,733.6 150.2,730.6 150.5,727.3 150.8,727.9 151.1,730.8 151.4,733.3 151.7,733.4 152,730.8 152.3,729.8 152.6,733.1 152.9,735.5 153.2,733.1 153.5,733 153.8,733.1 154.1,728.3 154.4,731.6 154.7,738.1 155,736.9 155.3,738.4 155.6,738.7 155.9,734.4 156.2,730.1 156.5,726.5 156.8,729.3 157.1,730.2 157.4,730.7 157.7,732.6 158,731.9 158.3,729.8 158.6,731.6 158.9,733.3 159.2,733.8 159.5,740.2 159.8,739.5 160.1,733 160.4,732.2 160.7,733.7 161,734.7 161.3,736.1 161.6,734.1 161.9,733.9 162.2,733.5 162.5,731 162.8,733.1 163.1,734.3 163.4,736.5 163.7,735.6 164,730.3 164.3,730.7 164.6,739.2 164.9,737.9 165.2,732.9 165.5,735.8 165.8,735.3 166.1,731.2 166.4,730.5 166.7,733.2 167,731.3 167.3,733.8 167.6,737.4 167.9,733.6 168.2,729.7 168.5,732.1 168.8,735.2 169.1,736.4 169.4,738.3 169.7,736.5 170,737.3 170.3,731.1 170.6,728.4 170.9,732.4 171.2,728.3 171.5,729.7 171.8,735.4 172.1,736.3 172.4,735.3 172.7,733 173,730.7 173.3,733.1 173.6,733.7 173.9,732.4 174.2,735.7 174.5,733.6 174.8,729.3 175.1,731.1 175.4,733.2 175.7,733.8 176,734.2 176.3,736 176.6,738.9 176.9,740 177.2,737.2 177.5,740 177.8,738 178.1,736.6 178.4,737.2 178.7,731 179,730.7 179.3,733.7 179.6,736.2 179.9,737.3 180.2,734 180.5,731.6 180.8,734.8 181.1,733.5 181.4,732.6 181.7,734.6 182,733.6 182.3,733.8 182.6,734.9 182.9,734.1 183.2,733.5 183.5,735.2 183.8,738 184.1,737.8 184.4,736.6 184.7,737.1 185,736.4 185.3,738.7 185.6,737.1 185.9,739.3 186.2,744.9 186.5,740.5 186.8,738.6 187.1,737.1 187.4,732.6 187.7,733.2 188,733.6 188.3,733.3 188.6,735.6 188.9,736.3 189.2,734.3 189.5,732.8 189.8,733.3 190.1,734 190.4,731.8 190.7,732.5 191,734.2 191.3,736.1 191.6,734.3 191.9,730 192.2,736 192.5,735.7 192.8,736.2 193.1,736.2 193.4,732 193.7,733 194,733.1 194.3,733.3 194.6,735.4 194.9,730.5 195.2,726.3 195.5,729.2 195.8,731.4 196.1,738.6 196.4,743 196.7,738.8 197,736.3 197.3,738 197.6,735.1 197.9,729.7 198.2,729.9 198.5,735.1 198.8,736 199.1,734.6 199.4,730 199.7,730.2 200,733.7 200.3,733.2 200.6,736.7 200.9,733.6 201.2,730.6 201.5,734.6 201.8,735.3 202.1,735.8 202.4,737 202.7,736 203,736.4 203.3,732.9 203.6,729.8 203.9,732 204.2,731.5 204.5,730.4 204.8,733.9 205.1,734.7 205.4,732.1 205.7,728.7 206,730.1 206.3,734.1 206.6,731.6 206.9,732.2 207.2,734.7 207.5,735.2 207.8,737.5 208.1,738.4 208.4,733.6 208.7,735.3 209,742.4 209.3,737.4 209.6,733.5 209.9,735.3 210.2,738 210.5,741.9 210.8,739.3 211.1,735.3 211.4,732.3 211.7,736.3 212,738.9 212.3,737.6 212.6,740.5 212.9,733.8 213.2,728.8 213.5,735.8 213.8,737 214.1,732.2 214.4,733 214.7,737.8 215,738.1 215.3,737.8 215.6,736.5 215.9,732.1 216.2,735.8 216.5,738.1 216.8,734.6 217.1,734.1 217.4,736.8 217.7,738.3 218,734 218.3,730.3 218.6,730 218.9,737.2 219.2,742.1 219.5,735.6 219.8,731.9 220.1,733.3 220.4,733.3 220.7,737 221,743.3 221.3,736.7 221.6,734.8 221.9,738.6 222.2,735.8 222.5,738.1 222.8,738.5 223.1,734.6 223.4,732.5 223.7,732.2 224,733.3 224.3,737.4 224.6,736.7 224.9,735.8 225.2,735.7 225.5,732.8 225.8,733.9 226.1,735.5 226.4,735.5 226.7,737.6 227,736.5 227.3,736.6 227.6,736.1 227.9,735 228.2,738.3 228.5,735.5 228.8,733.3 229.1,737.5 229.4,733.1 229.7,733.1 230,739.8 230.3,737.3 230.6,739.3 230.9,739.2 231.2,738.7 231.5,739.7 231.8,736.4 232.1,735.8 232.4,734.9 232.7,738.7 233,735.8 233.3,730.6 233.6,733.8 233.9,738.3 234.2,738.9 234.5,738.5 234.8,740.3 235.1,736.7 235.4,733.6 235.7,735.7 236,730.4 236.3,729.3 236.6,736.1 236.9,734.9 237.2,736.4 237.5,738 237.8,733.4 238.1,736 238.4,738.3 238.7,734.9 239,737.4 239.3,737.5 239.6,734.8 239.9,736.6 240.2,735.4 240.5,733.5 240.8,736.9 241.1,738.2 241.4,737.3 241.7,733.5 242,737.3 242.3,739.1 242.6,732.4 242.9,733 243.2,734.5 243.5,735.9 243.8,734.1 244.1,734.7 244.4,738.5 244.7,740 245,738 245.3,736.2 245.6,736.1 245.9,734.6 246.2,737.9 246.5,737 246.8,734.9 247.1,737.5 247.4,733.3 247.7,731.2 248,736.5 248.3,738.5 248.6,735.4 248.9,735.4 249.2,735.3 249.5,743.1 249.8,747 250.1,736.2 250.4,732.2 250.7,732.9 251,735.3 251.3,737.5 251.6,731 251.9,733.3 252.2,739.8 252.5,734.9 252.8,733.6 253.1,735.8 253.4,738.7 253.7,739.8 254,738.3 254.3,732.6 254.6,731.5 254.9,736.1 255.2,739.3 255.5,735 255.8,733.4 256.1,735.6 256.4,732.9 256.7,731.6 257,734 257.3,737.6 257.6,739.8 257.9,740.8 258.2,735.3 258.5,732.4 258.8,736 259.1,736.1 259.4,732.6 259.7,729.9 260,730.7 260.3,736.6 260.6,737.5 260.9,736.6 261.2,735.6 261.5,733.4 261.8,737.1 262.1,738.7 262.4,736.5 262.7,735.4 263,742.6 263.3,743.7 263.6,740.4 263.9,740.1 264.2,736.1 264.5,733 264.8,731.4 265.1,734.4 265.4,735.8 265.7,736.7 266,740.4 266.3,741.9 266.6,738.8 266.9,734.1 267.2,736.5 267.5,741.4 267.8,738.2 268.1,739.5 268.4,738.4 268.7,735.8 269,737.7 269.3,733.6 269.6,734.3 269.9,736.7 270.2,738.9 270.5,734.9 270.8,734.6 271.1,739.2 271.4,736.8 271.7,740 272,738 272.3,738.1 272.6,740.9 272.9,736.9 273.2,736.2 273.5,738.4 273.8,735.5 274.1,736.4 274.4,741 274.7,740.3 275,737.3 275.3,737.4 275.6,737.6 275.9,736.7 276.2,737.7 276.5,733.5 276.8,734.9 277.1,738.4 277.4,738.2 277.7,741.6 278,739.5 278.3,739.5 278.6,741.1 278.9,737.6 279.2,738.4 279.5,736.5 279.8,731.3 280.1,733.5 280.4,736.5 280.7,738.6 281,740.1 281.3,736.9 281.6,737.4 281.9,739.8 282.2,739.3 282.5,740.2 282.8,737.3 283.1,733.1 283.4,734.7 283.7,735.3 284,735.3 284.3,732.5 284.6,735.1 284.9,737.9 285.2,734.7 285.5,736.3 285.8,737.6 286.1,737.6 286.4,741.1 286.7,740 287,734.4 287.3,733.9 287.6,739.4 287.9,737.6 288.2,731.7 288.5,733.7 288.8,738.2 289.1,737.2 289.4,738.3 289.7,741 290,741.7 290.3,737 290.6,734.4 290.9,741 291.2,737.4 291.5,738.4 291.8,741.5 292.1,737.1 292.4,734.9 292.7,733.8 293,738.1 293.3,738.1 293.6,735.4 293.9,739.2 294.2,736.4 294.5,735.1 294.8,741.9 295.1,737.9 295.4,734.3 295.7,736.7 296,736 296.3,739 296.6,738.6 296.9,737.7 297.2,738.8 297.5,737.3 297.8,732 298.1,733.7 298.4,737.5 298.7,736.9 299,737 299.3,735.5 299.6,735.2 299.9,736.5 300.2,741.8 300.5,740.3 300.8,737 301.1,737.2 301.4,739.5 301.7,741.7 302,741.9 302.3,737.3 302.6,735.4 302.9,740.1 303.2,737.7 303.5,738.9 303.8,740.3 304.1,736.5 304.4,736.2 304.7,740.9 305,739.6 305.3,735.4 305.6,738.8 305.9,742.3 306.2,737.1 306.5,735.9 306.8,738.4 307.1,739 307.4,742.1 307.7,740.8 308,737.1 308.3,735.2 308.6,740.4 308.9,741.9 309.2,740.1 309.5,738.5 309.8,735.3 310.1,740.6 310.4,741.5 310.7,740.1 311,740.3 311.3,741.7 311.6,739.4 311.9,733.2 312.2,735.5 312.5,737.1 312.8,737.2 313.1,736.5 313.4,738.8 313.7,745.2 314,742.9 314.3,738.7 314.6,735.6 314.9,734.7 315.2,735.6 315.5,734.8 315.8,733.1 316.1,733 316.4,738 316.7,740.3 317,738.3 317.3,733.4 317.6,732.6 317.9,738.5 318.2,737.6 318.5,734.8 318.8,739.4 319.1,742.3 319.4,742.7 319.7,740.5 320,734.1 320.3,734 320.6,736.9 320.9,736.9 321.2,740.6 321.5,739.7 321.8,737.4 322.1,737.2 322.4,735.3 322.7,733.3 323,733.4 323.3,733.5 323.6,737.5 323.9,741.7 324.2,734.3 324.5,734.6 324.8,736.9 325.1,734.9 325.4,737.5 325.7,740.8 326,738.8 326.3,733.5 326.6,733.8 326.9,735.9 327.2,736.4 327.5,738.8 327.8,737.6 328.1,732.5 328.4,731.4 328.7,736.3 329,738.7 329.3,736 329.6,736.1 329.9,735.3 330.2,737.1 330.5,743.4 330.8,742.4 331.1,739.6 331.4,739.2 331.7,736.9 332,737.3 332.3,737.4 332.6,737.8 332.9,737.8 333.2,735.6 333.5,734.9 333.8,739.5 334.1,740 334.4,735.4 334.7,736.8 335,737.5 335.3,735.4 335.6,738.4 335.9,741.8 336.2,739.8 336.5,738.1 336.8,739.5 337.1,741.7 337.4,741.1 337.7,740.4 338,740.2 338.3,738.5 338.6,737.6 338.9,735.2 339.2,739.1 339.5,743.6 339.8,734.2 340.1,732.3 340.4,737.8 340.7,732.6 341,730.2 341.3,736.2 341.6,738.7 341.9,737.1 342.2,734.2 342.5,735.1 342.8,737 343.1,734.4 343.4,730 343.7,735.1 344,744.3 344.3,742.7 344.6,742.2 344.9,742.9 345.2,741.5 345.5,740.3 345.8,738.7 346.1,738.4 346.4,739.4 346.7,738.7 347,738.6 347.3,738.5 347.6,738.1 347.9,737.8 348.2,736.8 348.5,738.3 348.8,738.8 349.1,739.2 349.4,739.2 349.7,738.3 350,739.4 350.3,741.7 350.6,743.1 350.9,739 351.2,736.9 351.5,742 351.8,741.5 352.1,738 352.4,741 352.7,737.8 353,735.7 353.3,734.6 353.6,730.6 353.9,728.1 354.2,722 354.5,722.1 354.8,720.6 355.1,725.6 355.4,729.6 355.7,723.2 356,721.6 356.3,728.9 356.6,733.9 356.9,737.1 357.2,736.4 357.5,731.1 357.8,736.7 358.1,737.7 358.4,739.3 358.7,742 359,743 359.3,740 359.6,735 359.9,736.8 360.2,736.4 360.5,737.1 360.8,737.7 361.1,735.9 361.4,737 361.7,742.4 362,739.2 362.3,735.3 362.6,735.5 362.9,736.7 363.2,742.2 363.5,743.4 363.8,740.5 364.1,738.6 364.4,737.1 364.7,735.7 365,738 365.3,736.1 365.6,736.3 365.9,737.8 366.2,737.3 366.5,740.2" stroke="#0a0a0a" stroke-width="2.0" stroke-linejoin="round"/>
<polyline points="63.8,822 64.1,821.8 64.4,819.2 64.7,821.4 65,822.4 65.3,819.7 65.6,823 65.9,826.1 66.2,824.8 66.5,822.5 66.8,825.3 67.1,828.7 67.4,823.6 67.7,821.4 68,827.7 68.3,825.7 68.6,823.7 68.9,824.3 69.2,824.3 69.5,822.6 69.8,822.6 70.1,827.7 70.4,829.3 70.7,826.6 71,824.7 71.3,826.6 71.6,827 71.9,826 72.2,829.3 72.5,829 72.8,827.1 73.1,827.8 73.4,826 73.7,825.7 74,823.9 74.3,825.5 74.6,828 74.9,829.7 75.2,829 75.5,827.1 75.8,827.7 76.1,825.7 76.4,824.4 76.7,824.9 77,826.5 77.3,828.1 77.6,827.2 77.9,823.5 78.2,822.1 78.5,825.4 78.8,830 79.1,831.7 79.4,829.6 79.7,830.2 80,832.4 80.3,831.7 80.6,826.2 80.9,825.6 81.2,827.7 81.5,827.3 81.8,827.7 82.1,827.8 82.4,829.6 82.7,828.4 83,831.6 83.3,834.4 83.6,825.3 83.9,822.5 84.2,832.4 84.5,833.2 84.8,829.3 85.1,829.9 85.4,826.7 85.7,825.7 86,828.9 86.3,827 86.6,824.2 86.9,825.8 87.2,825 87.5,825.3 87.8,831.1 88.1,832.3 88.4,825.6 88.7,820.8 89,827.3 89.3,831.3 89.6,828.5 89.9,826.9 90.2,830.6 90.5,829.6 90.8,824.4 91.1,827.2 91.4,824.5 91.7,821.7 92,826.5 92.3,827.2 92.6,829 92.9,829.4 93.2,828.6 93.5,831.9 93.8,832 94.1,832.3 94.4,829.5 94.7,827.6 95,830.1 95.3,830.3 95.6,829 95.9,826.5 96.2,823.7 96.5,824.2 96.8,830 97.1,834.7 97.4,833.4 97.7,833.1 98,828.2 98.3,826.2 98.6,828.4 98.9,827.8 99.2,828 99.5,828.5 99.8,831.6 100.1,833.7 100.4,831.4 100.7,826.8 101,829.2 101.3,829.6 101.6,825.3 101.9,827.5 102.2,831.2 102.5,829.5 102.8,828.8 103.1,830.7 103.4,829.8 103.7,832.6 104,834.5 104.3,835.8 104.6,834.8 104.9,828.2 105.2,825.3 105.5,830.2 105.8,830.1 106.1,826.5 106.4,828.9 106.7,829.1 107,827.8 107.3,827.9 107.6,829 107.9,829 108.2,828.3 108.5,828.5 108.8,830.6 109.1,828.5 109.4,826.8 109.7,828.4 110,831.5 110.3,834 110.6,832.1 110.9,831.7 111.2,829.1 111.5,828.4 111.8,831.5 112.1,832.3 112.4,830.5 112.7,832.2 113,832.1 113.3,825.6 113.6,826.7 113.9,828.8 114.2,828.1 114.5,828 114.8,829.9 115.1,832 115.4,836.2 115.7,835.8 116,830.3 116.3,828 116.6,831.6 116.9,836.2 117.2,833.8 117.5,832.2 117.8,830.9 118.1,833.4 118.4,833.4 118.7,831.3 119,829.2 119.3,826.6 119.6,830.4 119.9,831.5 120.2,831.7 120.5,831.2 120.8,831.9 121.1,832.5 121.4,830.4 121.7,831.1 122,832.9 122.3,831.8 122.6,831.2 122.9,829.3 123.2,829.9 123.5,830.4 123.8,829.6 124.1,831.9 124.4,831.3 124.7,830.1 125,828.4 125.3,827.3 125.6,825.8 125.9,826.1 126.2,827.4 126.5,827.8 126.8,828 127.1,828.6 127.4,829.6 127.7,829.6 128,829.6 128.3,831.2 128.6,833.5 128.9,831.6 129.2,829 129.5,830 129.8,827.6 130.1,830.2 130.4,835 130.7,833.3 131,832.1 131.3,832.2 131.6,829.1 131.9,825.7 132.2,828.8 132.5,828.8 132.8,827.7 133.1,831.4 133.4,833.3 133.7,830.7 134,827.2 134.3,830.4 134.6,836.7 134.9,837.4 135.2,831.8 135.5,832.1 135.8,835.7 136.1,831.3 136.4,829.3 136.7,826.2 137,824.3 137.3,831 137.6,831.5 137.9,835.2 138.2,836.7 138.5,832.3 138.8,832.3 139.1,831.8 139.4,831.6 139.7,832.4 140,832.4 140.3,831.5 140.6,833.7 140.9,835.6 141.2,836.4 141.5,834.3 141.8,831.1 142.1,834.2 142.4,834.6 142.7,828.3 143,826.9 143.3,828.5 143.6,827.5 143.9,825.8 144.2,822.5 144.5,824.7 144.8,823.7 145.1,820.1 145.4,824 145.7,819.7 146,822.9 146.3,830.4 146.6,832.4 146.9,829.7 147.2,828.6 147.5,830.1 147.8,824.4 148.1,823.1 148.4,831.5 148.7,833.5 149,834.4 149.3,836.4 149.6,832.1 149.9,828.2 150.2,824 150.5,831.7 150.8,837.6 151.1,837.9 151.4,838.3 151.7,830.9 152,832.3 152.3,835.3 152.6,829.6 152.9,829.6 153.2,830.1 153.5,831.5 153.8,836.7 154.1,829.6 154.4,831 154.7,836.8 155,837.2 155.3,837.5 155.6,835.2 155.9,837.6 156.2,835.2 156.5,830.9 156.8,832.2 157.1,833.7 157.4,833 157.7,836.5 158,837.1 158.3,833.9 158.6,831.9 158.9,829.2 159.2,830.7 159.5,836.5 159.8,835.2 160.1,832.3 160.4,832.3 160.7,831.6 161,830.8 161.3,829.5 161.6,832.7 161.9,831.5 162.2,828.6 162.5,829.9 162.8,830.2 163.1,830.8 163.4,832.6 163.7,831.6 164,835.7 164.3,835.9 164.6,832.2 164.9,834 165.2,832.3 165.5,831.8 165.8,833.8 166.1,833.4 166.4,832.6 166.7,835.6 167,835.1 167.3,833.3 167.6,834.9 167.9,832.5 168.2,832.3 168.5,833.9 168.8,832.8 169.1,838.5 169.4,835.9 169.7,833.9 170,838.7 170.3,831.6 170.6,828.6 170.9,831.8 171.2,830.5 171.5,831.1 171.8,835.8 172.1,832.8 172.4,827.3 172.7,831.9 173,836.7 173.3,833.6 173.6,832.9 173.9,833.3 174.2,833.5 174.5,835.4 174.8,831.1 175.1,828.1 175.4,827.3 175.7,828.7 176,830.6 176.3,831.4 176.6,828.8 176.9,832 177.2,832.3 177.5,827.1 177.8,831.2 178.1,837.7 178.4,835.3 178.7,833.7 179,835.5 179.3,832.8 179.6,834.2 179.9,837.3 180.2,835.4 180.5,830.1 180.8,834.9 181.1,833.1 181.4,829.5 181.7,832.4 182,832.8 182.3,835.5 182.6,837.2 182.9,833.3 183.2,831.5 183.5,834.7 183.8,836.5 184.1,837.1 184.4,836.2 184.7,833.4 185,830.1 185.3,833.2 185.6,839.2 185.9,835.8 186.2,831.2 186.5,835.7 186.8,839.3 187.1,835.3 187.4,837.1 187.7,835.9 188,832.8 188.3,836.9 188.6,832.6 188.9,833.5 189.2,833.3 189.5,831.5 189.8,834.8 190.1,831.9 190.4,833.3 190.7,836 191,831.3 191.3,832.9 191.6,840 191.9,840.6 192.2,835.8 192.5,834.2 192.8,835.2 193.1,833.9 193.4,833.9 193.7,836.5 194,834.3 194.3,831.4 194.6,834.3 194.9,837.1 195.2,829.4 195.5,830.6 195.8,836.1 196.1,836.9 196.4,842.2 196.7,836.1 197,832 197.3,836.1 197.6,833.6 197.9,832.7 198.2,836.5 198.5,837.9 198.8,834.3 199.1,832.3 199.4,834.2 199.7,835.1 200,836.1 200.3,839.1 200.6,838 200.9,833.8 201.2,833.3 201.5,832.1 201.8,831 202.1,834.2 202.4,835.1 202.7,834.9 203,832.7 203.3,832.6 203.6,834.7 203.9,835.8 204.2,836.2 204.5,837.3 204.8,842.1 205.1,838.4 205.4,833 205.7,831.3 206,832.4 206.3,834.1 206.6,834.9 206.9,833.9 207.2,834.8 207.5,837.4 207.8,830.7 208.1,831.6 208.4,835.2 208.7,834.2 209,834.8 209.3,834.2 209.6,837.4 209.9,839.6 210.2,841 210.5,835.3 210.8,830.1 211.1,836.2 211.4,839.9 211.7,832.4 212,830.5 212.3,835.5 212.6,836.8 212.9,837 213.2,837.8 213.5,842.1 213.8,840.2 214.1,836.1 214.4,834.3 214.7,834.7 215,840.3 215.3,837.5 215.6,832.3 215.9,834.4 216.2,832 216.5,829.3 216.8,834.9 217.1,837.9 217.4,836.4 217.7,836.9 218,834.1 218.3,831.2 218.6,835.8 218.9,835.7 219.2,830.8 219.5,833.2 219.8,836.5 220.1,838.9 220.4,838.6 220.7,834.9 221,838 221.3,841.1 221.6,840.3 221.9,839.5 222.2,836.5 222.5,835.2 222.8,835.9 223.1,837.5 223.4,835.6 223.7,832.8 224,834.6 224.3,837.4 224.6,839.8 224.9,837.7 225.2,835 225.5,835 225.8,832.8 226.1,832 226.4,839.3 226.7,841.2 227,837.1 227.3,835 227.6,835.5 227.9,836.7 228.2,833.9 228.5,836.8 228.8,836.2 229.1,833 229.4,835.4 229.7,839.5 230,840.4 230.3,839.1 230.6,837.9 230.9,836.1 231.2,835.9 231.5,835 231.8,836.1 232.1,835.6 232.4,837.3 232.7,836.9 233,832 233.3,832.7 233.6,833.1 233.9,832.8 234.2,835.9 234.5,839.4 234.8,834.8 235.1,834.3 235.4,838.8 235.7,837.1 236,841 236.3,843.8 236.6,838.5 236.9,836.8 237.2,840 237.5,840.7 237.8,840 238.1,836 238.4,834 238.7,836.3 239,834.2 239.3,836.5 239.6,838.6 239.9,837.4 240.2,836.6 240.5,835.6 240.8,834.4 241.1,834.5 241.4,834.5 241.7,836.5 242,835.8 242.3,834.6 242.6,839 242.9,837.9 243.2,837.3 243.5,838.3 243.8,839.2 244.1,838.5 244.4,838 244.7,838.2 245,836.2 245.3,838.3 245.6,840.7 245.9,838.4 246.2,837.4 246.5,841 246.8,839.5 247.1,833.6 247.4,836.3 247.7,835.9 248,833.3 248.3,832.4 248.6,834.9 248.9,840.8 249.2,839.1 249.5,836.3 249.8,838.6 250.1,843.7 250.4,841.6 250.7,836.1 251,837.5 251.3,838.2 251.6,837.3 251.9,841.7 252.2,842.7 252.5,837.6 252.8,835.2 253.1,834.9 253.4,834.3 253.7,836.8 254,839.1 254.3,837.1 254.6,832.7 254.9,830.2 255.2,835.6 255.5,839.5 255.8,837.6 256.1,836.5 256.4,837.8 256.7,835.4 257,830.8 257.3,833.1 257.6,834.9 257.9,831.5 258.2,835 258.5,841.1 258.8,840.1 259.1,835.3 259.4,832.9 259.7,834.6 260,838.5 260.3,836.1 260.6,833 260.9,832.3 261.2,833 261.5,836.6 261.8,836.6 262.1,833.5 262.4,831.2 262.7,834.1 263,835.3 263.3,839.8 263.6,840.2 263.9,837.3 264.2,843.6 264.5,840.3 264.8,834.3 265.1,836.5 265.4,838 265.7,836.6 266,835.8 266.3,839.8 266.6,841.5 266.9,839.3 267.2,835.8 267.5,831.6 267.8,834.6 268.1,840.5 268.4,836.6 268.7,835.4 269,839.1 269.3,838.9 269.6,838.3 269.9,836.1 270.2,836 270.5,837.1 270.8,838.1 271.1,838.1 271.4,839.8 271.7,839.5 272,834.4 272.3,835.1 272.6,837.6 272.9,840.1 273.2,837.6 273.5,832.9 273.8,834.9 274.1,838.4 274.4,839.5 274.7,838.7 275,839.8 275.3,839.4 275.6,837.7 275.9,840.3 276.2,840.5 276.5,838.8 276.8,840.6 277.1,841.4 277.4,834.5 277.7,833.8 278,838 278.3,837.6 278.6,837.4 278.9,838.7 279.2,836.6 279.5,837.2 279.8,842.7 280.1,839 280.4,834.6 280.7,837 281,836.1 281.3,834.7 281.6,837.3 281.9,838.3 282.2,838.4 282.5,833.2 282.8,830.1 283.1,834.8 283.4,833.7 283.7,835.2 284,834.6 284.3,830.4 284.6,833.6 284.9,837 285.2,837.2 285.5,838.6 285.8,839.7 286.1,834.2 286.4,834.2 286.7,839.5 287,836.9 287.3,835.5 287.6,834 287.9,832.9 288.2,837.2 288.5,836.6 288.8,836.9 289.1,839.8 289.4,836.6 289.7,836 290,836.9 290.3,832.7 290.6,832.4 290.9,834.6 291.2,837.9 291.5,836.9 291.8,831.3 292.1,833.2 292.4,839.5 292.7,840.4 293,837.5 293.3,838.3 293.6,840.2 293.9,841.9 294.2,839 294.5,836 294.8,838.4 295.1,838.1 295.4,837.8 295.7,837 296,835.3 296.3,833.9 296.6,841 296.9,843.2 297.2,836.8 297.5,836.1 297.8,837.7 298.1,838.6 298.4,837.4 298.7,838.5 299,840 299.3,836.8 299.6,835.6 299.9,838.4 300.2,834.8 300.5,831.4 300.8,834.5 301.1,836 301.4,837.6 301.7,838.3 302,839.3 302.3,836.8 302.6,834.2 302.9,836.6 303.2,837.8 303.5,841.4 303.8,836.9 304.1,832.7 304.4,837.5 304.7,837.1 305,838 305.3,839.2 305.6,835.9 305.9,837.8 306.2,837.3 306.5,836.6 306.8,840.8 307.1,838.9 307.4,835.7 307.7,837 308,837.2 308.3,836.7 308.6,835.7 308.9,837.6 309.2,839.7 309.5,841 309.8,842.9 310.1,842.2 310.4,840.8 310.7,835.8 311,835.4 311.3,839.3 311.6,842.1 311.9,841.7 312.2,831.1 312.5,828.1 312.8,836 313.1,837 313.4,837.1 313.7,837.5 314,834.6 314.3,835.6 314.6,835.8 314.9,835.8 315.2,840.2 315.5,837.7 315.8,832.9 316.1,834.5 316.4,839.9 316.7,839.2 317,838.1 317.3,839.7 317.6,837.3 317.9,832.9 318.2,837.4 318.5,840 318.8,835.9 319.1,838.2 319.4,839.7 319.7,835.9 320,831.7 320.3,833.1 320.6,835.6 320.9,836.4 321.2,837.7 321.5,838.6 321.8,837.5 322.1,835.9 322.4,835.9 322.7,838.4 323,841.7 323.3,843.1 323.6,840.8 323.9,841 324.2,841.4 324.5,838.8 324.8,839 325.1,839.9 325.4,835.2 325.7,832.5 326,833.8 326.3,834.1 326.6,837.4 326.9,837.6 327.2,831.8 327.5,833.8 327.8,838.3 328.1,834 328.4,830.9 328.7,834.7 329,834.1 329.3,832.1 329.6,836.7 329.9,839.6 330.2,836.1 330.5,833.5 330.8,837.8 331.1,842.1 331.4,838.3 331.7,836.3 332,839.4 332.3,842 332.6,843.2 332.9,841.1 333.2,835.4 333.5,835.1 333.8,837.8 334.1,838.3 334.4,835.5 334.7,835.7 335,838.8 335.3,839.6 335.6,838.9 335.9,840.4 336.2,841.1 336.5,836.3 336.8,837.3 337.1,837.5 337.4,836.4 337.7,833.3 338,834.4 338.3,835.9 338.6,838.3 338.9,840 339.2,837 339.5,837.8 339.8,837.7 340.1,837.3 340.4,839.4 340.7,841.1 341,837 341.3,836.1 341.6,833.5 341.9,830.2 342.2,833.4 342.5,838.9 342.8,838.2 343.1,832.5 343.4,831.9 343.7,829.8 344,831.6 344.3,835.1 344.6,833.4 344.9,831 345.2,827 345.5,824.9 345.8,828.6 346.1,833 346.4,834.5 346.7,832.8 347,829.9 347.3,830.1 347.6,835.2 347.9,841.8 348.2,842.4 348.5,838.8 348.8,840.6 349.1,839.6 349.4,835 349.7,836.4 350,835.4 350.3,834.9 350.6,840.6 350.9,838.8 351.2,835.2 351.5,835.4 351.8,836.8 352.1,840.2 352.4,836.8 352.7,834.2 353,834 353.3,832.2 353.6,833 353.9,836.7 354.2,833.7 354.5,827.5 354.8,826.9 355.1,827.1 355.4,829 355.7,829.4 356,827.9 356.3,832.2 356.6,830.6 356.9,833.8 357.2,836.9 357.5,835.6 357.8,836.4 358.1,838.6 358.4,842.1 358.7,837.2 359,837.2 359.3,836.2 359.6,832.7 359.9,837.1 360.2,841.9 360.5,839.1 360.8,838.2 361.1,840.5 361.4,841 361.7,844.2 362,841.4 362.3,837.4 362.6,840.1 362.9,842.3 363.2,839.6 363.5,833.5 363.8,835.2 364.1,835.9 364.4,833.2 364.7,836.1 365,839.6 365.3,836.1 365.6,832.9 365.9,840.6 366.2,846.6 366.5,841.6" stroke="#0a0a0a" stroke-width="2.0" stroke-linejoin="round"/>
<polyline points="454,621.8 454.3,619.1 454.6,616 454.9,614.8 455.2,613.3 455.5,615.4 455.8,614.7 456.1,611.7 456.4,609.9 456.7,606.1 457,604.5 457.3,611 457.6,616.7 457.9,622 458.2,622.1 458.5,620 458.8,623.9 459.1,621.5 459.4,622.2 459.7,626 460,622.1 460.3,618.5 460.6,622.3 460.9,628.3 461.2,627.2 461.5,626.1 461.8,626.1 462.1,626.7 462.4,625.6 462.7,622.2 463,620.7 463.3,620.5 463.6,622.3 463.9,623.1 464.2,627.5 464.5,627.2 464.8,624.1 465.1,621.8 465.4,625.1 465.7,629.4 466,626.9 466.3,624.7 466.6,625.1 466.9,625.3 467.2,626.6 467.5,627.9 467.8,628.5 468.1,628 468.4,625.7 468.7,625.6 469,624.4 469.3,623.6 469.6,627.8 469.9,627.1 470.2,622.2 470.5,622.9 470.8,626 471.1,629.6 471.4,630.9 471.7,628.7 472,624.5 472.3,626.4 472.6,625.9 472.9,626.3 473.2,628.4 473.5,627.1 473.8,630.2 474.1,627.5 474.4,626.9 474.7,629.2 475,627.3 475.3,628.6 475.6,630 475.9,627.7 476.2,623.4 476.5,625.9 476.8,626.4 477.1,624.4 477.4,624.6 477.7,625.9 478,625.7 478.3,621.3 478.6,625 478.9,628.5 479.2,632.5 479.5,631.4 479.8,624.9 480.1,626.4 480.4,626.4 480.7,627.8 481,631.4 481.3,631.1 481.6,630.2 481.9,632.3 482.2,630 482.5,628.9 482.8,630.5 483.1,630.2 483.4,626.1 483.7,624.2 484,628.9 484.3,629.1 484.6,626.8 484.9,629.4 485.2,629.4 485.5,629.9 485.8,632.1 486.1,630.1 486.4,631.7 486.7,631.8 487,628.2 487.3,623.7 487.6,622.1 487.9,628.7 488.2,630.7 488.5,625 488.8,627.4 489.1,627.8 489.4,623.8 489.7,626.9 490,628.5 490.3,628.6 490.6,628.8 490.9,630.2 491.2,633.7 491.5,633.7 491.8,630.2 492.1,630.8 492.4,631.2 492.7,625.9 493,628.9 493.3,630.8 493.6,630.4 493.9,632.1 494.2,630.2 494.5,627.9 494.8,627.5 495.1,631.9 495.4,629.1 495.7,624.2 496,626.7 496.3,626.6 496.6,625 496.9,628.1 497.2,631.2 497.5,631.1 497.8,627.9 498.1,627.2 498.4,635.3 498.7,633.7 499,627.5 499.3,629 499.6,628.7 499.9,628 500.2,627.6 500.5,627.2 500.8,628.8 501.1,627.8 501.4,629.5 501.7,628.1 502,627.4 502.3,630.9 502.6,629.9 502.9,630.8 503.2,627 503.5,625.7 503.8,627.9 504.1,630.2 504.4,630.1 504.7,625.8 505,625.6 505.3,625.3 505.6,625.7 505.9,627.9 506.2,628.5 506.5,630.2 506.8,629.5 507.1,627.6 507.4,626.9 507.7,628.7 508,633.4 508.3,628.2 508.6,629.9 508.9,635.7 509.2,630.6 509.5,632.5 509.8,632.1 510.1,629 510.4,631.2 510.7,628.2 511,622.3 511.3,623.9 511.6,632.2 511.9,632.8 512.2,626.8 512.5,627.1 512.8,630.4 513.1,632.7 513.4,630.9 513.7,629.3 514,630.4 514.3,630.4 514.6,633.2 514.9,636.4 515.2,631.8 515.5,629.2 515.8,627.3 516.1,626.7 516.4,627.6 516.7,629.3 517,638.5 517.3,634.2 517.6,620.7 517.9,620.8 518.2,625.7 518.5,631 518.8,635.2 519.1,632.3 519.4,629.6 519.7,630.7 520,631.3 520.3,628.7 520.6,632.5 520.9,635.8 521.2,629.7 521.5,628 521.8,630.6 522.1,629 522.4,626.5 522.7,629.2 523,631.7 523.3,634 523.6,632.9 523.9,627 524.2,626.8 524.5,627.7 524.8,627.6 525.1,629.4 525.4,631 525.7,634.2 526,636.2 526.3,633.2 526.6,632.1 526.9,634.1 527.2,633.6 527.5,631.8 527.8,633.2 528.1,631.7 528.4,631.1 528.7,631.3 529,626.3 529.3,626.8 529.6,631.7 529.9,633.7 530.2,628.5 530.5,630 530.8,633.4 531.1,628.8 531.4,627.5 531.7,625.4 532,626 532.3,625.5 532.6,619.1 532.9,620.8 533.2,618.8 533.5,615.2 533.8,615.3 534.1,614.3 534.4,619.8 534.7,624.6 535,626 535.3,626.4 535.6,627.4 535.9,623.3 536.2,624.1 536.5,627.6 536.8,631.8 537.1,632.6 537.4,631.7 537.7,628.8 538,627.3 538.3,632.2 538.6,633.4 538.9,634.3 539.2,633.5 539.5,632.6 539.8,629.4 540.1,630.4 540.4,633 540.7,628.1 541,631.7 541.3,633.5 541.6,628.4 541.9,629.1 542.2,629.9 542.5,633.1 542.8,632.6 543.1,634.9 543.4,635.6 543.7,625.6 544,626.8 544.3,631.3 544.6,632.2 544.9,630.9 545.2,628.5 545.5,629.8 545.8,630.2 546.1,631.5 546.4,630 546.7,629.3 547,632.5 547.3,633.7 547.6,632.4 547.9,630 548.2,631 548.5,636.9 548.8,634.4 549.1,630 549.4,630 549.7,632.8 550,630.6 550.3,628.6 550.6,630.5 550.9,630.3 551.2,633 551.5,634.4 551.8,632.2 552.1,629.8 552.4,632.9 552.7,636.1 553,629.2 553.3,623.7 553.6,629.5 553.9,631.6 554.2,630.8 554.5,630.6 554.8,632 555.1,633.3 555.4,631.3 555.7,629.9 556,633.7 556.3,636.2 556.6,627.2 556.9,625.1 557.2,629.3 557.5,628.2 557.8,631 558.1,629.4 558.4,629.7 558.7,636.9 559,636.5 559.3,634.7 559.6,634.6 559.9,632.5 560.2,633.6 560.5,634.9 560.8,635.2 561.1,630.4 561.4,627.9 561.7,634.6 562,633.7 562.3,630.2 562.6,632.3 562.9,631.4 563.2,631.6 563.5,637 563.8,636.4 564.1,631.9 564.4,632.7 564.7,632.4 565,634.8 565.3,635.2 565.6,635 565.9,636.2 566.2,633.6 566.5,635.2 566.8,636.3 567.1,635.1 567.4,632.7 567.7,633.7 568,633.7 568.3,632.2 568.6,635.1 568.9,635.9 569.2,629.6 569.5,626.3 569.8,631.6 570.1,636.6 570.4,634.3 570.7,632 571,632.7 571.3,633.6 571.6,632.5 571.9,629.2 572.2,632.5 572.5,633.2 572.8,630.7 573.1,635.1 573.4,639.4 573.7,636.1 574,633.4 574.3,635.7 574.6,643 574.9,641.9 575.2,634.3 575.5,635.6 575.8,636.8 576.1,631.8 576.4,627.1 576.7,630 577,630.6 577.3,629.3 577.6,632.4 577.9,633.4 578.2,634.7 578.5,635.8 578.8,636.9 579.1,631.5 579.4,628 579.7,633.3 580,632.1 580.3,629.9 580.6,630 580.9,632.2 581.2,633.7 581.5,632.4 581.8,633.5 582.1,636.5 582.4,635.6 582.7,636.4 583,637.8 583.3,634.3 583.6,633.6 583.9,634.9 584.2,631.6 584.5,633.8 584.8,636.5 585.1,630.2 585.4,627.9 585.7,631.1 586,630 586.3,627.6 586.6,631.4 586.9,632.4 587.2,634.8 587.5,638.4 587.8,635.8 588.1,639.6 588.4,644.2 588.7,633.1 589,627.8 589.3,632.7 589.6,634.5 589.9,635.7 590.2,630 590.5,630.6 590.8,632.5 591.1,630.9 591.4,634.8 591.7,633.1 592,631.8 592.3,634.5 592.6,634.7 592.9,635.7 593.2,631.4 593.5,629.7 593.8,628.8 594.1,629.6 594.4,639.9 594.7,639.7 595,632.9 595.3,634 595.6,633.1 595.9,627.5 596.2,630.6 596.5,634.9 596.8,633.1 597.1,630.6 597.4,630.6 597.7,632.5 598,633.5 598.3,629.9 598.6,629.6 598.9,633.2 599.2,633.5 599.5,633.4 599.8,638.1 600.1,641.4 600.4,636.9 600.7,634.8 601,632.6 601.3,631.9 601.6,632.6 601.9,630.7 602.2,631.4 602.5,634.4 602.8,639.2 603.1,636.6 603.4,633.2 603.7,636.3 604,635.2 604.3,635.8 604.6,637.6 604.9,636.7 605.2,639.2 605.5,639.1 605.8,635.7 606.1,633.1 606.4,632.4 606.7,630.5 607,628.5 607.3,632.5 607.6,634 607.9,631.4 608.2,632.7 608.5,632.4 608.8,627.2 609.1,630.7 609.4,631.7 609.7,629.9 610,634.2 610.3,635.7 610.6,633 610.9,632.4 611.2,634.8 611.5,630.8 611.8,632.1 612.1,629.6 612.4,628.6 612.7,632 613,630.8 613.3,635.5 613.6,641.7 613.9,637.3 614.2,631.8 614.5,639.3 614.8,637.5 615.1,635.1 615.4,637.1 615.7,627.1 616,627.7 616.3,633.4 616.6,627.5 616.9,631.2 617.2,633.6 617.5,629.4 617.8,631.5 618.1,634.6 618.4,632.9 618.7,635.2 619,636.6 619.3,634.7 619.6,633.3 619.9,632.2 620.2,639.6 620.5,642.3 620.8,636.2 621.1,633.5 621.4,635.2 621.7,633.3 622,633.5 622.3,634.7 622.6,634.5 622.9,637.3 623.2,639.4 623.5,635.3 623.8,633.9 624.1,632 624.4,632.7 624.7,635 625,633.2 625.3,633.7 625.6,633.6 625.9,637.4 626.2,635.8 626.5,635.5 626.8,638.1 627.1,634.6 627.4,636.5 627.7,641 628,638.5 628.3,635.1 628.6,638.8 628.9,638.3 629.2,636.9 629.5,640.4 629.8,633.7 630.1,631.2 630.4,634.3 630.7,629.2 631,629.9 631.3,634.6 631.6,634.4 631.9,634.3 632.2,635.3 632.5,633.5 632.8,628.7 633.1,630.1 633.4,632.5 633.7,633 634,633.4 634.3,629.8 634.6,633.5 634.9,637.2 635.2,636.8 635.5,638.9 635.8,637.5 636.1,634.9 636.4,631.1 636.7,635 637,637 637.3,632.1 637.6,631.3 637.9,636.5 638.2,638.3 638.5,632.2 638.8,632.7 639.1,634.7 639.4,633 639.7,632.4 640,637.4 640.3,639.3 640.6,636.6 640.9,636.2 641.2,633.3 641.5,632.2 641.8,632.7 642.1,632.8 642.4,633.1 642.7,633.8 643,631.6 643.3,630 643.6,635 643.9,637 644.2,637.5 644.5,635.9 644.8,633.4 645.1,637.1 645.4,632.2 645.7,631 646,638.3 646.3,637.8 646.6,635.3 646.9,631.2 647.2,632.7 647.5,639 647.8,637.6 648.1,636 648.4,634.4 648.7,634.2 649,638.8 649.3,637 649.6,635.3 649.9,635.8 650.2,636.4 650.5,634.5 650.8,632.9 651.1,634.5 651.4,635.2 651.7,633.6 652,639.1 652.3,640.8 652.6,634.5 652.9,632.7 653.2,631.1 653.5,633.5 653.8,637.4 654.1,639.1 654.4,632.3 654.7,629.1 655,631 655.3,630.8 655.6,634.8 655.9,631.7 656.2,629.7 656.5,635 656.8,635.2 657.1,634.4 657.4,633.5 657.7,632.5 658,634.1 658.3,636.1 658.6,635.4 658.9,636.6 659.2,637.6 659.5,634.3 659.8,632.1 660.1,629.7 660.4,630.5 660.7,632.2 661,633.9 661.3,631.2 661.6,634 661.9,641.2 662.2,634.1 662.5,630.3 662.8,632.6 663.1,632.1 663.4,634.8 663.7,636.4 664,636.7 664.3,633.3 664.6,631.2 664.9,634.9 665.2,635.8 665.5,632.3 665.8,637.5 666.1,641.1 666.4,634 666.7,632.4 667,633.5 667.3,632.5 667.6,633.8 667.9,636.9 668.2,634.9 668.5,634.9 668.8,635.4 669.1,634.5 669.4,633.4 669.7,634.2 670,638.6 670.3,638.4 670.6,637.5 670.9,636.7 671.2,634.3 671.5,634.2 671.8,638.4 672.1,643.1 672.4,637.1 672.7,630.4 673,630.3 673.3,632.9 673.6,633.7 673.9,631.6 674.2,633.2 674.5,635.3 674.8,635.9 675.1,631.8 675.4,629.4 675.7,636 676,640.3 676.3,639.5 676.6,636.2 676.9,633.5 677.2,633.4 677.5,633.4 677.8,637.9 678.1,634.7 678.4,635.1 678.7,640.9 679,642.5 679.3,643.7 679.6,640 679.9,638 680.2,634 680.5,632.8 680.8,634.3 681.1,636.7 681.4,637.7 681.7,633.2 682,632.9 682.3,637.7 682.6,635.7 682.9,637 683.2,635.2 683.5,630.1 683.8,635.1 684.1,638 684.4,636.2 684.7,632.9 685,634.7 685.3,636.9 685.6,633.2 685.9,632.1 686.2,639.3 686.5,641.4 686.8,637.5 687.1,633.8 687.4,631.4 687.7,633.6 688,637.9 688.3,638 688.6,635.3 688.9,634.9 689.2,637.5 689.5,639.8 689.8,636.1 690.1,636.5 690.4,635.8 690.7,634.9 691,633.4 691.3,633.8 691.6,635.5 691.9,632.4 692.2,631.8 692.5,627.9 692.8,628 693.1,632.1 693.4,633.9 693.7,635.6 694,636.8 694.3,635.1 694.6,636.2 694.9,639.7 695.2,634.4 695.5,630 695.8,634.6 696.1,636.4 696.4,633 696.7,633.3 697,637.3 697.3,634.4 697.6,633.3 697.9,633.9 698.2,632.3 698.5,632.4 698.8,634.5 699.1,631 699.4,630.6 699.7,635.2 700,634.8 700.3,636.3 700.6,639.4 700.9,638.4 701.2,635.8 701.5,637.2 701.8,639 702.1,639 702.4,639.9 702.7,637.2 703,627.6 703.3,627.6 703.6,632 703.9,630.3 704.2,634.1 704.5,639.8 704.8,636.9 705.1,636.8 705.4,638.2 705.7,633.9 706,631.6 706.3,635.9 706.6,637.6 706.9,635.9 707.2,638.8 707.5,638.8 707.8,637.4 708.1,638.5 708.4,636 708.7,634.7 709,636.8 709.3,635.9 709.6,635.3 709.9,637.8 710.2,634.3 710.5,631.1 710.8,632 711.1,634.2 711.4,638.9 711.7,639.6 712,637.8 712.3,636 712.6,636.4 712.9,637.3 713.2,638.3 713.5,635.9 713.8,634.9 714.1,637.2 714.4,634.9 714.7,631.4 715,632.1 715.3,639.8 715.6,639.4 715.9,637.9 716.2,638.8 716.5,633.8 716.8,634.3 717.1,637.6 717.4,636.3 717.7,633.9 718,636.9 718.3,636 718.6,636.3 718.9,639.5 719.2,638.4 719.5,634.3 719.8,632.4 720.1,633 720.4,630 720.7,630.2 721,631.8 721.3,632.8 721.6,638.6 721.9,637.8 722.2,636.9 722.5,637.1 722.8,634.7 723.1,635.1 723.4,635.6 723.7,637.2 724,635.5 724.3,635.7 724.6,638.9 724.9,638.5 725.2,637.3 725.5,638.6 725.8,638.8 726.1,640.1 726.4,638.6 726.7,634.9 727,636.8 727.3,639.1 727.6,638.1 727.9,635.2 728.2,636.6 728.5,638.7 728.8,639.8 729.1,637.9 729.4,633.7 729.7,633.9 730,636.1 730.3,637.8 730.6,638.6 730.9,636.5 731.2,634.9 731.5,635.3 731.8,630.5 732.1,633 732.4,637.8 732.7,636.7 733,635 733.3,636.6 733.6,639.6 733.9,637.1 734.2,633.1 734.5,630.7 734.8,634.4 735.1,634.7 735.4,633.2 735.7,633 736,631.6 736.3,633.4 736.6,635.1 736.9,634.9 737.2,634.8 737.5,633.2 737.8,634.3 738.1,639.5 738.4,637 738.7,635.4 739,637.9 739.3,637.2 739.6,637.5 739.9,636 740.2,633.9 740.5,636.7 740.8,637.2 741.1,634.5 741.4,634.3 741.7,633.8 742,633.4 742.3,633.8 742.6,630.7 742.9,626.7 743.2,624.6 743.5,624.2 743.8,624.1 744.1,622.2 744.4,623.2 744.7,623.8 745,628.6 745.3,635.7 745.6,635.7 745.9,636.7 746.2,636.6 746.5,638.1 746.8,633.9 747.1,632.3 747.4,639.1 747.7,641.7 748,643 748.3,637.2 748.6,633.8 748.9,636.4 749.2,633.7 749.5,631.1 749.8,634.1 750.1,635.3 750.4,637.8 750.7,637.4 751,637.6 751.3,639.2 751.6,637.1 751.9,637.9 752.2,637.3 752.5,638.9 752.8,637 753.1,633 753.4,633.8 753.7,632.1 754,632.6 754.3,636.8 754.6,637.9 754.9,639.1 755.2,640.4 755.5,636.9 755.8,635.8 756.1,639 756.4,633.2" stroke="#1212cc" stroke-width="2.0" stroke-linejoin="round"/>
<polyline points="454,729.6 454.3,728.3 454.6,729 454.9,728.1 455.2,724.5 455.5,727.1 455.8,728 456.1,725.8 456.4,729.5 456.7,729.5 457,726.7 457.3,730.2 457.6,732.4 457.9,728.4 458.2,729.4 458.5,732.8 458.8,734.9 459.1,734.3 459.4,728.5 459.7,728.2 460,733.9 460.3,735.4 460.6,730.3 460.9,726.8 461.2,725.1 461.5,723.5 461.8,731.8 462.1,730.3 462.4,723.6 462.7,728.5 463,732.3 463.3,731 463.6,727.8 463.9,731.1 464.2,729.7 464.5,727.1 464.8,730.9 465.1,733.9 465.4,733.9 465.7,731.4 466,729 466.3,729 466.6,733 466.9,731.9 467.2,731.3 467.5,733.4 467.8,733.4 468.1,731.6 468.4,727.5 468.7,730.4 469,734.4 469.3,735 469.6,732.8 469.9,732.1 470.2,732.5 470.5,730.6 470.8,729.1 471.1,727 471.4,730.8 471.7,728.5 472,725.9 472.3,733.1 472.6,733.6 472.9,728.8 473.2,730 473.5,731.1 473.8,730.7 474.1,731.5 474.4,730.8 474.7,730.4 475,732.8 475.3,731.6 475.6,734.9 475.9,737.3 476.2,734.1 476.5,735.3 476.8,732.3 477.1,729.1 477.4,731.6 477.7,737.7 478,736.4 478.3,730.7 478.6,729.6 478.9,731.2 479.2,727.1 479.5,725.7 479.8,733.4 480.1,736.2 480.4,730.6 480.7,729.7 481,732.2 481.3,728.5 481.6,725.3 481.9,728.9 482.2,732.4 482.5,732.6 482.8,731.5 483.1,733.5 483.4,734.8 483.7,733.6 484,729.1 484.3,727.3 484.6,728 484.9,729.3 485.2,731.2 485.5,730.2 485.8,734.2 486.1,731.3 486.4,727.8 486.7,730.9 487,725.7 487.3,726.6 487.6,728.9 487.9,725.1 488.2,722.2 488.5,724.2 488.8,730.6 489.1,730.7 489.4,732.9 489.7,733.7 490,727.9 490.3,730.2 490.6,733.6 490.9,731.2 491.2,729.2 491.5,728.1 491.8,729.9 492.1,727.1 492.4,730.8 492.7,733.1 493,727.8 493.3,729.3 493.6,728 493.9,726.6 494.2,727.6 494.5,726 494.8,725.1 495.1,726.7 495.4,732.6 495.7,733.5 496,730.6 496.3,730.1 496.6,724.9 496.9,723.2 497.2,726 497.5,729.2 497.8,732.1 498.1,729.4 498.4,730.2 498.7,728.2 499,724.5 499.3,730.5 499.6,733.3 499.9,731.8 500.2,726.6 500.5,730.2 500.8,734.7 501.1,733.2 501.4,732.8 501.7,733.2 502,733.3 502.3,729.4 502.6,732.2 502.9,733.5 503.2,728.6 503.5,724.4 503.8,725.9 504.1,727.8 504.4,727.9 504.7,731.4 505,727.4 505.3,721.7 505.6,721.4 505.9,726.8 506.2,729 506.5,726 506.8,729.2 507.1,729.3 507.4,726.1 507.7,725.2 508,725.2 508.3,728.8 508.6,732.9 508.9,731.9 509.2,734.5 509.5,735.1 509.8,732.1 510.1,732.4 510.4,731.5 510.7,729.8 511,729.7 511.3,727.6 511.6,728.1 511.9,730.4 512.2,728.5 512.5,728.4 512.8,729.1 513.1,729.9 513.4,732.2 513.7,731.4 514,728.2 514.3,728.9 514.6,733 514.9,732.7 515.2,730 515.5,730.8 515.8,732.5 516.1,730.7 516.4,732 516.7,731.7 517,728.6 517.3,731.4 517.6,735.1 517.9,737.7 518.2,737.1 518.5,732.4 518.8,731.2 519.1,730.1 519.4,730.3 519.7,733.5 520,732.1 520.3,732.7 520.6,731 520.9,730.1 521.2,736.1 521.5,734.3 521.8,728.4 522.1,731.1 522.4,732 522.7,732.2 523,734.6 523.3,737.1 523.6,733.1 523.9,732.7 524.2,736.6 524.5,736 524.8,735.9 525.1,734.4 525.4,736.3 525.7,738.9 526,735.5 526.3,727.2 526.6,725.7 526.9,731.3 527.2,733.3 527.5,732 527.8,732.5 528.1,729.9 528.4,726.4 528.7,729.3 529,731.2 529.3,732.8 529.6,738.5 529.9,741.6 530.2,735.7 530.5,730.3 530.8,731.5 531.1,733.4 531.4,729.8 531.7,726.7 532,728.5 532.3,732.9 532.6,734.6 532.9,732.4 533.2,731.9 533.5,732.1 533.8,733.8 534.1,730.8 534.4,730.3 534.7,735.8 535,734.4 535.3,730.3 535.6,730.2 535.9,735.4 536.2,736.7 536.5,735.7 536.8,733.4 537.1,729.7 537.4,731.8 537.7,733.2 538,733.7 538.3,729 538.6,730.1 538.9,732.8 539.2,732.6 539.5,734.1 539.8,735.7 540.1,734.2 540.4,730 540.7,731.1 541,730 541.3,728.9 541.6,736 541.9,740.3 542.2,734.4 542.5,732.7 542.8,732.6 543.1,730.5 543.4,733.6 543.7,736.1 544,736.4 544.3,737.3 544.6,731.6 544.9,731.3 545.2,733.1 545.5,730 545.8,732 546.1,736.5 546.4,736.9 546.7,737.7 547,737 547.3,734.5 547.6,737.2 547.9,735.2 548.2,732.3 548.5,732 548.8,730.9 549.1,732.2 549.4,732.4 549.7,729.4 550,730.6 550.3,734.1 550.6,734.2 550.9,737.3 551.2,731.9 551.5,727.2 551.8,736.2 552.1,737 552.4,735 552.7,737.8 553,736.4 553.3,736.1 553.6,735 553.9,734.2 554.2,735.7 554.5,733.7 554.8,731.4 555.1,732.6 555.4,731.2 555.7,729.3 556,732.8 556.3,731.8 556.6,730.2 556.9,732.5 557.2,734.9 557.5,734.1 557.8,732.4 558.1,732.4 558.4,732.2 558.7,733.3 559,736.9 559.3,736.6 559.6,732.8 559.9,735.2 560.2,738.2 560.5,737.3 560.8,733.2 561.1,733.1 561.4,735.8 561.7,733.1 562,735.8 562.3,742 562.6,742.6 562.9,734.4 563.2,728.5 563.5,729.4 563.8,733.4 564.1,736.3 564.4,737.8 564.7,737.8 565,737.3 565.3,737.4 565.6,733.6 565.9,733.5 566.2,738.8 566.5,740.5 566.8,736 567.1,735.2 567.4,731.1 567.7,731.5 568,739.7 568.3,738.6 568.6,737.2 568.9,734 569.2,728.7 569.5,733.4 569.8,735.1 570.1,730.7 570.4,731.3 570.7,739.2 571,737.8 571.3,730.1 571.6,732.2 571.9,735.1 572.2,735.4 572.5,734.6 572.8,735.1 573.1,739.4 573.4,739.9 573.7,738 574,741.2 574.3,741.2 574.6,732.9 574.9,730.9 575.2,737.1 575.5,734.8 575.8,731.9 576.1,735.8 576.4,734.4 576.7,734.7 577,741.1 577.3,743.1 577.6,738.7 577.9,737.1 578.2,735.7 578.5,736.7 578.8,738.6 579.1,737.3 579.4,735.5 579.7,736.6 580,739.5 580.3,738 580.6,734.3 580.9,733.1 581.2,733 581.5,732.7 581.8,738.1 582.1,741.6 582.4,738.4 582.7,734.1 583,736.4 583.3,736.2 583.6,736.3 583.9,738.3 584.2,735.3 584.5,732.7 584.8,733.3 585.1,735.5 585.4,733.5 585.7,731.7 586,734.4 586.3,737.1 586.6,736.4 586.9,734.4 587.2,734.8 587.5,733.7 587.8,732.3 588.1,728.3 588.4,731 588.7,734.7 589,731.4 589.3,732.6 589.6,733.7 589.9,734.4 590.2,736.6 590.5,737 590.8,741.5 591.1,742 591.4,743.5 591.7,744.5 592,734 592.3,730.9 592.6,727.5 592.9,730 593.2,733.7 593.5,731.2 593.8,735.9 594.1,733.8 594.4,732.8 594.7,731.7 595,733.6 595.3,735.5 595.6,732.9 595.9,733.6 596.2,733.9 596.5,737.9 596.8,735.1 597.1,733.7 597.4,736.4 597.7,738.1 598,737.8 598.3,737.5 598.6,737.5 598.9,737 599.2,734.3 599.5,735.7 599.8,735.7 600.1,734 600.4,735.7 600.7,731.8 601,732.6 601.3,733 601.6,735.3 601.9,738 602.2,739.7 602.5,736.5 602.8,736.4 603.1,741.5 603.4,738.1 603.7,741.2 604,739.7 604.3,733.1 604.6,735.3 604.9,738.6 605.2,739.4 605.5,738.1 605.8,738.4 606.1,741.8 606.4,748.7 606.7,742.4 607,735.3 607.3,735.7 607.6,735.5 607.9,737.6 608.2,740.2 608.5,740.9 608.8,735.7 609.1,728.7 609.4,727.8 609.7,734.6 610,738.3 610.3,739 610.6,736 610.9,732.5 611.2,736.5 611.5,738.2 611.8,735.7 612.1,734.7 612.4,732.5 612.7,733.7 613,738 613.3,738.2 613.6,735.9 613.9,738.3 614.2,740.2 614.5,732.1 614.8,730.3 615.1,732 615.4,736.2 615.7,741.3 616,739 616.3,734.8 616.6,730.4 616.9,732.2 617.2,734.8 617.5,734.6 617.8,735.3 618.1,737.7 618.4,738.7 618.7,734.9 619,732.7 619.3,732.4 619.6,732.3 619.9,735.6 620.2,737.7 620.5,735.6 620.8,733.5 621.1,735.1 621.4,739 621.7,740.4 622,739.5 622.3,738.8 622.6,734.8 622.9,735.4 623.2,735.6 623.5,736.6 623.8,735.5 624.1,733.9 624.4,734.1 624.7,734.9 625,737.4 625.3,735.8 625.6,734.5 625.9,731.5 626.2,735.6 626.5,740.2 626.8,737.2 627.1,734.2 627.4,733.4 627.7,735.9 628,734.8 628.3,737.7 628.6,740.3 628.9,736.7 629.2,734.9 629.5,731.8 629.8,734.6 630.1,735.3 630.4,732.8 630.7,732.6 631,732 631.3,739.5 631.6,738.2 631.9,736 632.2,739.6 632.5,738.1 632.8,741.1 633.1,744.2 633.4,741.3 633.7,738.3 634,737.2 634.3,736.2 634.6,740 634.9,738 635.2,734.1 635.5,735.7 635.8,735.8 636.1,738.1 636.4,739.5 636.7,738.9 637,738.2 637.3,735.5 637.6,733.5 637.9,733 638.2,731.8 638.5,728.8 638.8,729.3 639.1,734 639.4,738.7 639.7,739.6 640,741.6 640.3,743.1 640.6,737.7 640.9,735.5 641.2,735.9 641.5,734.3 641.8,735.6 642.1,738 642.4,739.2 642.7,739.7 643,732.9 643.3,731.7 643.6,735.9 643.9,735.1 644.2,738.4 644.5,744.4 644.8,739.2 645.1,732.1 645.4,735.5 645.7,737.5 646,737 646.3,736.5 646.6,735.2 646.9,732.4 647.2,730.8 647.5,734.2 647.8,738.8 648.1,741.8 648.4,742.1 648.7,736 649,733 649.3,734.8 649.6,738.7 649.9,736.5 650.2,729.4 650.5,731.5 650.8,732.4 651.1,734.3 651.4,734.5 651.7,735.5 652,733.8 652.3,728.4 652.6,733.8 652.9,736.4 653.2,734.6 653.5,737.2 653.8,739.1 654.1,736.1 654.4,737.4 654.7,734.6 655,732.2 655.3,736.3 655.6,736.3 655.9,735.7 656.2,732.1 656.5,727.1 656.8,734.3 657.1,739.7 657.4,737.9 657.7,738.9 658,737.5 658.3,738 658.6,736.3 658.9,736.4 659.2,737.2 659.5,735.4 659.8,735.9 660.1,735.9 660.4,732.8 660.7,732.8 661,733.4 661.3,734.2 661.6,734.5 661.9,737 662.2,738.3 662.5,732.8 662.8,730.9 663.1,734.6 663.4,736.9 663.7,736.1 664,737.7 664.3,738.8 664.6,735.2 664.9,730 665.2,738.2 665.5,740.4 665.8,732.1 666.1,733.5 666.4,735.6 666.7,738.8 667,740 667.3,739.7 667.6,736.3 667.9,733.1 668.2,733.5 668.5,736.1 668.8,734.5 669.1,733.7 669.4,739.5 669.7,736.4 670,732.7 670.3,735.4 670.6,739.1 670.9,739.4 671.2,739.9 671.5,739 671.8,733.3 672.1,732 672.4,736.1 672.7,733.4 673,733.1 673.3,739.9 673.6,738.5 673.9,734.8 674.2,736.3 674.5,736.7 674.8,734.3 675.1,736.6 675.4,739.5 675.7,738.4 676,738.3 676.3,735.8 676.6,731.2 676.9,735.5 677.2,736.8 677.5,729.4 677.8,732.7 678.1,737.7 678.4,738.2 678.7,737.8 679,737 679.3,739.2 679.6,739.6 679.9,738.4 680.2,739.4 680.5,738.6 680.8,736.2 681.1,735.7 681.4,739 681.7,742.3 682,737.4 682.3,735.8 682.6,733.7 682.9,734.4 683.2,737.3 683.5,737.1 683.8,736.4 684.1,734.9 684.4,739.3 684.7,740.6 685,738.8 685.3,738.3 685.6,736.7 685.9,735.1 686.2,736.6 686.5,739.8 686.8,737.8 687.1,734.1 687.4,735.1 687.7,736.3 688,738.9 688.3,743.1 688.6,742.9 688.9,740.4 689.2,742.7 689.5,738.8 689.8,732.8 690.1,735.5 690.4,736.1 690.7,736.8 691,742.4 691.3,740.8 691.6,737.9 691.9,738.9 692.2,737.3 692.5,740.9 692.8,740 693.1,735.8 693.4,736.9 693.7,733.1 694,731.8 694.3,735.9 694.6,735.3 694.9,733.6 695.2,733 695.5,733.5 695.8,736.3 696.1,738.9 696.4,736.9 696.7,737.9 697,741 697.3,742.5 697.6,739.8 697.9,734.1 698.2,734.7 698.5,738.7 698.8,737.7 699.1,735.9 699.4,738.7 699.7,738.5 700,735.1 700.3,736.4 700.6,737.7 700.9,734.4 701.2,735.6 701.5,736.2 701.8,737.7 702.1,740.6 702.4,739.5 702.7,735.5 703,735.8 703.3,735.5 703.6,736.1 703.9,739.8 704.2,739.3 704.5,739.5 704.8,740.2 705.1,741.9 705.4,734.7 705.7,730.4 706,738.8 706.3,738 706.6,737 706.9,735.5 707.2,732.6 707.5,742.5 707.8,742.9 708.1,737.2 708.4,735.2 708.7,733.5 709,738.3 709.3,738.9 709.6,740 709.9,741.2 710.2,738 710.5,739.1 710.8,737 711.1,737.8 711.4,742.3 711.7,740.8 712,737.6 712.3,733.7 712.6,733.9 712.9,735.3 713.2,739.4 713.5,739.9 713.8,738.9 714.1,739.6 714.4,739.5 714.7,741.9 715,739.5 715.3,738.4 715.6,738.9 715.9,737.1 716.2,735.1 716.5,736.9 716.8,738.4 717.1,740.2 717.4,742.1 717.7,736.7 718,735.8 718.3,739.6 718.6,741 718.9,744.8 719.2,740.2 719.5,736.3 719.8,740.1 720.1,739 720.4,738.6 720.7,739.4 721,736.5 721.3,736.9 721.6,742.2 721.9,742.7 722.2,740 722.5,735.9 722.8,737 723.1,742.2 723.4,740.7 723.7,740.5 724,743 724.3,739.8 724.6,738.3 724.9,739.7 725.2,743.1 725.5,742.1 725.8,735.8 726.1,736.8 726.4,740.3 726.7,741.5 727,736.2 727.3,735.7 727.6,737.4 727.9,734.9 728.2,741.4 728.5,741.4 728.8,736.7 729.1,733 729.4,734.8 729.7,741.3 730,739.4 730.3,739.3 730.6,738.5 730.9,738.6 731.2,740.6 731.5,739.2 731.8,740.4 732.1,741.9 732.4,737.8 732.7,740 733,742.9 733.3,743.4 733.6,740.8 733.9,740.3 734.2,743.5 734.5,742.6 734.8,739.8 735.1,740.2 735.4,742 735.7,737.4 736,734.7 736.3,742.3 736.6,744.9 736.9,740.8 737.2,738.7 737.5,738.7 737.8,746.7 738.1,745.7 738.4,741.9 738.7,736.2 739,736.2 739.3,739.7 739.6,735.7 739.9,737.6 740.2,740.7 740.5,745.6 740.8,746.1 741.1,742.9 741.4,741.2 741.7,739.7 742,740.8 742.3,742.1 742.6,742.4 742.9,742.8 743.2,739.3 743.5,738.3 743.8,741.6 744.1,738.1 744.4,737.4 744.7,739.2 745,735.5 745.3,737.5 745.6,743.9 745.9,738.4 746.2,736.1 746.5,738.6 746.8,737.7 747.1,740.7 747.4,740.6 747.7,736.7 748,736.4 748.3,739.3 748.6,735.9 748.9,734.5 749.2,739.7 749.5,742.8 749.8,739.5 750.1,735 750.4,739.6 750.7,742.2 751,738.8 751.3,740.8 751.6,742 751.9,741.8 752.2,742.6 752.5,739.5 752.8,734.8 753.1,737.6 753.4,740.6 753.7,741.1 754,739.5 754.3,735.9 754.6,734.9 754.9,735.9 755.2,739.7 755.5,745.8 755.8,746.3 756.1,742.1 756.4,744.5" stroke="#0a0a0a" stroke-width="2.0" stroke-linejoin="round"/>
<polyline points="454,827.3 454.3,826.2 454.6,824.1 454.9,826.9 455.2,832.9 455.5,828.1 455.8,821.3 456.1,821.9 456.4,823.8 456.7,820.6 457,818.7 457.3,823.2 457.6,825.3 457.9,823.6 458.2,824.4 458.5,824.8 458.8,827.1 459.1,827.3 459.4,827.8 459.7,831.4 460,829.2 460.3,828.3 460.6,832.1 460.9,833.3 461.2,833.5 461.5,835 461.8,829.8 462.1,828.8 462.4,832.4 462.7,830.8 463,828.6 463.3,833.3 463.6,834.8 463.9,830.4 464.2,829.8 464.5,831.6 464.8,830.6 465.1,825.4 465.4,830.4 465.7,834.6 466,830.1 466.3,829.3 466.6,834.1 466.9,837.4 467.2,835.5 467.5,833.3 467.8,830.2 468.1,831 468.4,833.2 468.7,827.7 469,825.7 469.3,827.2 469.6,826.3 469.9,827.5 470.2,829.6 470.5,831.6 470.8,831 471.1,831.6 471.4,831.4 471.7,832.3 472,832.6 472.3,831.5 472.6,832.9 472.9,836.9 473.2,834.8 473.5,831.3 473.8,832.1 474.1,829.2 474.4,827.8 474.7,830.9 475,833.4 475.3,828.2 475.6,826.7 475.9,834.8 476.2,832.9 476.5,826.3 476.8,830 477.1,827.9 477.4,823.8 477.7,830.6 478,832.7 478.3,829.9 478.6,832.5 478.9,834 479.2,832.6 479.5,831.7 479.8,827.5 480.1,827.1 480.4,833.1 480.7,835.3 481,829.7 481.3,828.6 481.6,834 481.9,831.5 482.2,829.1 482.5,829.7 482.8,827.4 483.1,828.8 483.4,831.1 483.7,831.7 484,831.4 484.3,832.3 484.6,830.6 484.9,829.5 485.2,832.5 485.5,835.1 485.8,835.1 486.1,833.9 486.4,834.7 486.7,833.3 487,833.6 487.3,831.6 487.6,832.1 487.9,834.3 488.2,834.7 488.5,834.5 488.8,831.8 489.1,830.6 489.4,833.1 489.7,832.6 490,833.1 490.3,833.6 490.6,831.3 490.9,833.1 491.2,832.7 491.5,834.9 491.8,833.8 492.1,830.7 492.4,829.8 492.7,829 493,829.9 493.3,836 493.6,837.1 493.9,831.4 494.2,830.7 494.5,831.5 494.8,834 495.1,834.5 495.4,832.2 495.7,828.3 496,828.8 496.3,831.7 496.6,834.4 496.9,836.4 497.2,835.3 497.5,830.7 497.8,831.9 498.1,834.8 498.4,835.2 498.7,834.5 499,832.3 499.3,830.2 499.6,831.1 499.9,833.9 500.2,834.2 500.5,832.7 500.8,831.6 501.1,833 501.4,831.3 501.7,829.4 502,831.2 502.3,834.5 502.6,832.9 502.9,830.8 503.2,832.1 503.5,834.4 503.8,835.9 504.1,836.5 504.4,834.9 504.7,828.9 505,825.8 505.3,830.1 505.6,829.7 505.9,830 506.2,834.9 506.5,830.7 506.8,829.5 507.1,830.6 507.4,824.6 507.7,825.2 508,828.5 508.3,828 508.6,829.4 508.9,828.7 509.2,829 509.5,832 509.8,830 510.1,826.8 510.4,827.4 510.7,834.7 511,837.3 511.3,830.9 511.6,825.7 511.9,827.6 512.2,830.3 512.5,831.4 512.8,833.6 513.1,830.5 513.4,830.2 513.7,830.7 514,826.9 514.3,828.3 514.6,833 514.9,835 515.2,834 515.5,830.1 515.8,830.2 516.1,830.5 516.4,827.4 516.7,830.4 517,831.8 517.3,833.5 517.6,835.6 517.9,832.6 518.2,833.5 518.5,835.2 518.8,834.6 519.1,832 519.4,834.7 519.7,834.1 520,827.8 520.3,834.2 520.6,840.6 520.9,834.6 521.2,832 521.5,833.5 521.8,833.9 522.1,832.3 522.4,832.2 522.7,830.1 523,831.9 523.3,837.2 523.6,835.3 523.9,835.3 524.2,834.9 524.5,831.1 524.8,827.7 525.1,830.1 525.4,833.9 525.7,836.1 526,836.5 526.3,832.6 526.6,833.2 526.9,833.4 527.2,830.3 527.5,832.2 527.8,835 528.1,836.3 528.4,839.5 528.7,839.8 529,832.9 529.3,831.8 529.6,833.4 529.9,830.7 530.2,831.1 530.5,833.5 530.8,833.1 531.1,834.3 531.4,834.9 531.7,830.9 532,829.7 532.3,829.8 532.6,833 532.9,832.9 533.2,833.3 533.5,834.2 533.8,835.1 534.1,835.2 534.4,831 534.7,829.1 535,830 535.3,834.5 535.6,834.3 535.9,829.5 536.2,825.8 536.5,829.2 536.8,834.6 537.1,835.6 537.4,836.9 537.7,835.1 538,834.7 538.3,834.6 538.6,833.7 538.9,836.4 539.2,840.8 539.5,834.1 539.8,831.9 540.1,837.6 540.4,835.6 540.7,833 541,832.7 541.3,831.4 541.6,831.2 541.9,836.3 542.2,834.8 542.5,833.2 542.8,832.1 543.1,829.3 543.4,830.9 543.7,832.6 544,838.7 544.3,837.3 544.6,832.7 544.9,836.4 545.2,835.6 545.5,832 545.8,830.8 546.1,834 546.4,836 546.7,835.6 547,834.2 547.3,834.7 547.6,833.7 547.9,831.8 548.2,830.4 548.5,832 548.8,839.4 549.1,834.5 549.4,828.5 549.7,831 550,835.5 550.3,839.5 550.6,836.6 550.9,836.4 551.2,835.4 551.5,833.6 551.8,832.3 552.1,834.2 552.4,836.3 552.7,833.8 553,834.2 553.3,833.9 553.6,833.5 553.9,833.7 554.2,837.1 554.5,838.9 554.8,837.6 555.1,833.9 555.4,827.9 555.7,830.3 556,834.1 556.3,832.1 556.6,832.3 556.9,838.2 557.2,840.8 557.5,837.5 557.8,835.1 558.1,834.6 558.4,836.6 558.7,837.5 559,837.5 559.3,834.5 559.6,832.6 559.9,835.1 560.2,831.2 560.5,829.7 560.8,836.9 561.1,836.9 561.4,837.8 561.7,839.1 562,836.2 562.3,837 562.6,833.2 562.9,831.4 563.2,834.9 563.5,834.6 563.8,834.8 564.1,838.9 564.4,836.7 564.7,833.2 565,838.7 565.3,836.6 565.6,830.1 565.9,834.6 566.2,837.6 566.5,837.1 566.8,836.7 567.1,836.3 567.4,835.4 567.7,834.5 568,836.7 568.3,833.3 568.6,833.2 568.9,838.7 569.2,838.2 569.5,837.7 569.8,838.5 570.1,835.9 570.4,833.5 570.7,833.8 571,834.8 571.3,835.7 571.6,835.7 571.9,834.6 572.2,833 572.5,834.5 572.8,832.5 573.1,830.1 573.4,831.1 573.7,829.8 574,831.8 574.3,832.9 574.6,831.4 574.9,833.9 575.2,836.6 575.5,839.1 575.8,842.5 576.1,838.9 576.4,833.6 576.7,838.3 577,839.8 577.3,838.1 577.6,835.7 577.9,830.6 578.2,833.7 578.5,837.8 578.8,835.4 579.1,834.3 579.4,836.6 579.7,833.8 580,834.6 580.3,836.8 580.6,837.1 580.9,835.7 581.2,835.1 581.5,837.1 581.8,837.2 582.1,837.8 582.4,836.7 582.7,835.9 583,836.3 583.3,835.5 583.6,837 583.9,841.3 584.2,841.5 584.5,835 584.8,833.4 585.1,837.8 585.4,840.4 585.7,839.1 586,834 586.3,833.5 586.6,838.2 586.9,841.3 587.2,835.6 587.5,834.2 587.8,837.7 588.1,833.5 588.4,833 588.7,838 589,836.4 589.3,833.1 589.6,836.6 589.9,840.5 590.2,836.4 590.5,836 590.8,841.1 591.1,842.5 591.4,839.5 591.7,836 592,837.5 592.3,836.7 592.6,835.6 592.9,837.6 593.2,837.7 593.5,838.2 593.8,837.4 594.1,833.9 594.4,832.5 594.7,834 595,835.1 595.3,829.5 595.6,827.5 595.9,836.7 596.2,842.1 596.5,839.9 596.8,836.4 597.1,835.6 597.4,840.6 597.7,839 598,840.1 598.3,844 598.6,841.8 598.9,843.1 599.2,837.3 599.5,836.3 599.8,841.2 600.1,840.4 600.4,833.8 600.7,832.6 601,837.2 601.3,832.6 601.6,832.2 601.9,834.4 602.2,836.4 602.5,839 602.8,838.2 603.1,838.8 603.4,838.4 603.7,837.4 604,834.2 604.3,835.5 604.6,839.4 604.9,836.8 605.2,836.2 605.5,836.5 605.8,836 606.1,836 606.4,836.7 606.7,831.4 607,831 607.3,839.8 607.6,837.4 607.9,838.5 608.2,839.4 608.5,834.5 608.8,836.6 609.1,834.9 609.4,833.6 609.7,837.8 610,837.1 610.3,838.6 610.6,840.2 610.9,837.3 611.2,835.3 611.5,830.9 611.8,831.2 612.1,834.8 612.4,835.9 612.7,835.6 613,835.3 613.3,838.3 613.6,837.4 613.9,835.5 614.2,839.2 614.5,834.7 614.8,832.5 615.1,833.4 615.4,833.9 615.7,840.9 616,839.5 616.3,832.3 616.6,832.6 616.9,838.2 617.2,840.4 617.5,835.9 617.8,833.7 618.1,833.8 618.4,835.4 618.7,839.3 619,840.4 619.3,841.7 619.6,841.3 619.9,841.3 620.2,840.7 620.5,837.9 620.8,835.1 621.1,833.5 621.4,834.3 621.7,837.1 622,836.9 622.3,832.9 622.6,833.4 622.9,833.8 623.2,832.8 623.5,838.8 623.8,836.2 624.1,831.8 624.4,836.5 624.7,839.5 625,836.3 625.3,830.5 625.6,832.5 625.9,833.5 626.2,835.5 626.5,838 626.8,835.9 627.1,836.9 627.4,839.1 627.7,838.8 628,835.4 628.3,834.6 628.6,834.8 628.9,837.2 629.2,837.2 629.5,836 629.8,837.4 630.1,835.3 630.4,834.7 630.7,837.7 631,836.8 631.3,836 631.6,832.8 631.9,836.6 632.2,840.5 632.5,837.2 632.8,838.7 633.1,835.3 633.4,836 633.7,838.7 634,836.9 634.3,838.9 634.6,843.3 634.9,840.2 635.2,837.2 635.5,838.1 635.8,835.7 636.1,834.6 636.4,837.5 636.7,841.6 637,840.2 637.3,835.3 637.6,832.8 637.9,834.5 638.2,835.8 638.5,835.9 638.8,837.4 639.1,835.5 639.4,838.3 639.7,840.8 640,840 640.3,838.8 640.6,836.2 640.9,835.1 641.2,836.8 641.5,840.4 641.8,837.1 642.1,835.8 642.4,842.1 642.7,836.8 643,830.7 643.3,832.8 643.6,835.4 643.9,835.5 644.2,834 644.5,836.9 644.8,837.1 645.1,838.2 645.4,840.9 645.7,841.4 646,836.1 646.3,834.5 646.6,839 646.9,834.1 647.2,834.8 647.5,838 647.8,835.5 648.1,835.2 648.4,838.6 648.7,838.1 649,836.1 649.3,837.7 649.6,839.9 649.9,843.9 650.2,840.4 650.5,836.2 650.8,837.5 651.1,836.7 651.4,837.2 651.7,837.9 652,838 652.3,842.5 652.6,842.4 652.9,836.2 653.2,836 653.5,837.7 653.8,836.3 654.1,836.5 654.4,836.1 654.7,836.2 655,834.7 655.3,835.1 655.6,838.1 655.9,837.4 656.2,837.8 656.5,839.7 656.8,837.4 657.1,836.7 657.4,837.7 657.7,835.8 658,835.7 658.3,835.6 658.6,835.7 658.9,835.1 659.2,835.3 659.5,835.8 659.8,834.6 660.1,835.9 660.4,835.1 660.7,834.6 661,837.6 661.3,836.4 661.6,834.5 661.9,836.1 662.2,837.7 662.5,837.3 662.8,840 663.1,841 663.4,837.5 663.7,839.5 664,840.6 664.3,840.3 664.6,837.8 664.9,832 665.2,833 665.5,838.2 665.8,838.8 666.1,834.8 666.4,839.6 666.7,840 667,835.8 667.3,840.4 667.6,837.8 667.9,836.7 668.2,838.5 668.5,831.9 668.8,833.3 669.1,832.1 669.4,834.9 669.7,841.1 670,838.3 670.3,837.6 670.6,839.8 670.9,843.6 671.2,838.2 671.5,836.8 671.8,842 672.1,839.6 672.4,840.4 672.7,841.9 673,840.3 673.3,837.6 673.6,835.4 673.9,835.4 674.2,835.5 674.5,838.1 674.8,841 675.1,842.7 675.4,842.1 675.7,841.7 676,840.1 676.3,837.4 676.6,837.1 676.9,840.9 677.2,842.2 677.5,843.3 677.8,841.4 678.1,836.9 678.4,837.8 678.7,843.1 679,843.1 679.3,837.8 679.6,838.2 679.9,839.1 680.2,839.7 680.5,841.7 680.8,839.8 681.1,838.1 681.4,838.8 681.7,838.9 682,837.4 682.3,835 682.6,836.5 682.9,835.5 683.2,837.2 683.5,838.4 683.8,832.7 684.1,836.2 684.4,840 684.7,839.7 685,837.4 685.3,836.7 685.6,834.9 685.9,834.8 686.2,837.9 686.5,837.4 686.8,837.4 687.1,833.5 687.4,835.7 687.7,839.6 688,842.5 688.3,841.2 688.6,834.6 688.9,834.7 689.2,835.2 689.5,836 689.8,838.6 690.1,845.1 690.4,843.4 690.7,838.7 691,838.8 691.3,838.3 691.6,837.5 691.9,834.8 692.2,838.4 692.5,839.9 692.8,837.9 693.1,837.6 693.4,839.8 693.7,835.7 694,834.2 694.3,839.7 694.6,835.3 694.9,832.4 695.2,837.9 695.5,843.3 695.8,842.5 696.1,839.2 696.4,835.7 696.7,835.3 697,841.6 697.3,844.6 697.6,841.7 697.9,842.9 698.2,839.6 698.5,831.7 698.8,831.5 699.1,832.7 699.4,833.5 699.7,835 700,834.4 700.3,836.6 700.6,840.5 700.9,838.6 701.2,837.3 701.5,842 701.8,842.5 702.1,838.2 702.4,838.9 702.7,840.6 703,839.4 703.3,836.3 703.6,834.4 703.9,837.5 704.2,837.8 704.5,837.2 704.8,841.8 705.1,840.7 705.4,839.5 705.7,840.1 706,838.6 706.3,836.9 706.6,835.6 706.9,833.3 707.2,836.7 707.5,840.7 707.8,836.2 708.1,838.8 708.4,840.3 708.7,840.1 709,838.5 709.3,837.2 709.6,836.9 709.9,832.6 710.2,833.1 710.5,836.8 710.8,836 711.1,836.6 711.4,840.3 711.7,838.9 712,839.9 712.3,841.4 712.6,837.8 712.9,836.4 713.2,836.7 713.5,838.2 713.8,841.7 714.1,841.7 714.4,837.6 714.7,837.4 715,839.3 715.3,839.4 715.6,835.9 715.9,834.9 716.2,835.3 716.5,831.6 716.8,835.2 717.1,838.5 717.4,839.2 717.7,841.4 718,842.2 718.3,841.6 718.6,839.3 718.9,837.5 719.2,840 719.5,838.3 719.8,838.7 720.1,841.3 720.4,836.9 720.7,835 721,836.3 721.3,835.8 721.6,830.6 721.9,831.2 722.2,836.9 722.5,836 722.8,833.1 723.1,837.5 723.4,838.7 723.7,837.1 724,834.7 724.3,834.5 724.6,838.3 724.9,837.3 725.2,840.9 725.5,840.6 725.8,836.1 726.1,834.6 726.4,834.1 726.7,834.6 727,834.8 727.3,835 727.6,836.8 727.9,836.4 728.2,835.6 728.5,837.3 728.8,835.3 729.1,834.1 729.4,836.1 729.7,840.5 730,842.9 730.3,840.5 730.6,839.5 730.9,836.3 731.2,834.1 731.5,832.2 731.8,832.5 732.1,840.7 732.4,841.4 732.7,839.9 733,840.8 733.3,837.7 733.6,836.9 733.9,841.1 734.2,841 734.5,838.3 734.8,838.7 735.1,839 735.4,839.6 735.7,835.9 736,833.7 736.3,839.1 736.6,842.1 736.9,840.9 737.2,839.8 737.5,838.4 737.8,835.5 738.1,836.1 738.4,840.4 738.7,833.4 739,830.9 739.3,835.7 739.6,836.6 739.9,834.7 740.2,834.1 740.5,839.1 740.8,838.4 741.1,835.6 741.4,832.2 741.7,837.9 742,838.1 742.3,832.4 742.6,832.8 742.9,835.4 743.2,837.7 743.5,834.7 743.8,834.2 744.1,832.5 744.4,834 744.7,837.5 745,835.9 745.3,835.9 745.6,835.4 745.9,834.9 746.2,831.7 746.5,831.9 746.8,835.5 747.1,833.8 747.4,838.1 747.7,836.1 748,834 748.3,836.9 748.6,833.4 748.9,834.1 749.2,841.4 749.5,840.8 749.8,839.5 750.1,839.8 750.4,836.5 750.7,836.2 751,833.5 751.3,834.5 751.6,836.6 751.9,838.2 752.2,840.2 752.5,836.3 752.8,836.1 753.1,842.1 753.4,843 753.7,837.7 754,834.1 754.3,837.4 754.6,840.2 754.9,838.8 755.2,836.2 755.5,836.3 755.8,835.2 756.1,838.4 756.4,842.6" stroke="#0a0a0a" stroke-width="2.0" stroke-linejoin="round"/>
<polyline points="67,969.8 67.3,970.6 67.6,968.4 67.9,966.6 68.2,968.8 68.5,966.5 68.8,968.8 69.1,975.8 69.4,974.9 69.7,973.7 70,978.8 70.3,981.4 70.6,977.2 70.9,977.2 71.2,978.9 71.5,976.9 71.8,975.4 72.1,978.3 72.4,982.9 72.7,984.1 73,982.8 73.3,981.1 73.6,982.3 73.9,979.5 74.2,979.5 74.5,987.9 74.8,988.1 75.1,982.9 75.4,982 75.7,982.5 76,982 76.3,980.4 76.6,979 76.9,979.7 77.2,980.1 77.5,976.1 77.8,974.6 78.1,981.3 78.4,982.9 78.7,979.4 79,976 79.3,978.2 79.6,979.3 79.9,979.2 80.2,983.3 80.5,980.3 80.8,978.4 81.1,977.4 81.4,978.4 81.7,981.3 82,982.8 82.3,981.1 82.6,981 82.9,982.1 83.2,979.8 83.5,981.6 83.8,981.3 84.1,976.4 84.4,975.7 84.7,977.9 85,977 85.3,979 85.6,984.3 85.9,984.6 86.2,981.1 86.5,984.3 86.8,983.5 87.1,981.7 87.4,985.9 87.7,978.8 88,981.5 88.3,986.2 88.6,980.8 88.9,979 89.2,983.1 89.5,990.7 89.8,987.7 90.1,980.8 90.4,979.2 90.7,982.3 91,984.1 91.3,982.8 91.6,984.9 91.9,987.1 92.2,984.2 92.5,978 92.8,983.5 93.1,987.5 93.4,981.8 93.7,981.3 94,985.4 94.3,985.9 94.6,982 94.9,978.8 95.2,982.7 95.5,986.1 95.8,985.4 96.1,984.2 96.4,984.4 96.7,984.9 97,984.9 97.3,988.9 97.6,988.3 97.9,983.4 98.2,981.5 98.5,983.4 98.8,982.5 99.1,979.3 99.4,984.4 99.7,985.2 100,980.1 100.3,979.4 100.6,979.1 100.9,980.9 101.2,979.1 101.5,982.2 101.8,984.7 102.1,979.7 102.4,979 102.7,984 103,983.8 103.3,982.2 103.6,984.5 103.9,984.3 104.2,983.8 104.5,983 104.8,983.9 105.1,980.7 105.4,981.2 105.7,986.2 106,984.1 106.3,979.9 106.6,980.1 106.9,984.8 107.2,984.9 107.5,984.1 107.8,985.9 108.1,984.6 108.4,984 108.7,984.2 109,983.5 109.3,988 109.6,990.4 109.9,989.9 110.2,988.9 110.5,986 110.8,986.7 111.1,992 111.4,992.1 111.7,986.6 112,985.6 112.3,984.7 112.6,983.1 112.9,983.4 113.2,987.4 113.5,986.7 113.8,983.6 114.1,985 114.4,981.2 114.7,982.2 115,983.2 115.3,983.2 115.6,985.8 115.9,984.6 116.2,985.2 116.5,984.4 116.8,986.2 117.1,986.9 117.4,981.9 117.7,981.9 118,986 118.3,983.9 118.6,981.9 118.9,982.5 119.2,986.7 119.5,989.6 119.8,985.2 120.1,986.5 120.4,989.7 120.7,988 121,984.1 121.3,982.6 121.6,980.8 121.9,978 122.2,984.2 122.5,988 122.8,987.6 123.1,982.4 123.4,981.6 123.7,988.7 124,987.4 124.3,985.9 124.6,986 124.9,989.1 125.2,989.4 125.5,983.1 125.8,978.3 126.1,978 126.4,981 126.7,985.1 127,985 127.3,986 127.6,987.4 127.9,984.4 128.2,982.7 128.5,985.9 128.8,989.8 129.1,988.9 129.4,987.2 129.7,982.9 130,986.3 130.3,990.5 130.6,987.2 130.9,986.2 131.2,981.7 131.5,980.3 131.8,983.2 132.1,983.2 132.4,983.5 132.7,983.7 133,986.9 133.3,984.9 133.6,980.3 133.9,981.6 134.2,984.2 134.5,988.3 134.8,988.6 135.1,987.1 135.4,986.3 135.7,988.4 136,986.9 136.3,985.2 136.6,981.3 136.9,981.3 137.2,987.5 137.5,985.4 137.8,983.7 138.1,981.5 138.4,980.8 138.7,983.5 139,984.9 139.3,984.2 139.6,984.1 139.9,985.9 140.2,984.8 140.5,985 140.8,987.1 141.1,984.3 141.4,977.6 141.7,983.7 142,995.9 142.3,993.4 142.6,989.6 142.9,987.7 143.2,985.4 143.5,982.3 143.8,982.8 144.1,986.6 144.4,984.6 144.7,982.3 145,978.5 145.3,974 145.6,972.7 145.9,971.1 146.2,971.4 146.5,970.1 146.8,968.2 147.1,972.2 147.4,973.8 147.7,971 148,971 148.3,973.7 148.6,973.6 148.9,971.4 149.2,969.8 149.5,976.3 149.8,979.3 150.1,974.4 150.4,975.6 150.7,978.9 151,979.5 151.3,982.1 151.6,983.3 151.9,982.9 152.2,987.5 152.5,989.6 152.8,989 153.1,986.8 153.4,984 153.7,983.8 154,982.3 154.3,984.8 154.6,990.2 154.9,993.7 155.2,988 155.5,987.3 155.8,994.2 156.1,988.5 156.4,988.2 156.7,990.5 157,985.1 157.3,982.5 157.6,985.6 157.9,988 158.2,986.6 158.5,988.4 158.8,988.5 159.1,986.6 159.4,985.8 159.7,988.7 160,990.3 160.3,984.8 160.6,982.4 160.9,987.4 161.2,987.9 161.5,988.1 161.8,995.3 162.1,993.1 162.4,987.3 162.7,987.1 163,988.1 163.3,987.6 163.6,993.3 163.9,996.1 164.2,990.4 164.5,988.9 164.8,986.9 165.1,987.1 165.4,990.8 165.7,993 166,993.1 166.3,993.5 166.6,991 166.9,985 167.2,985 167.5,985.9 167.8,987.5 168.1,991.2 168.4,987.7 168.7,986.1 169,987.7 169.3,985.7 169.6,986 169.9,988.5 170.2,987.9 170.5,988.4 170.8,989.2 171.1,994 171.4,993.4 171.7,983.6 172,982.1 172.3,984.6 172.6,987 172.9,988.7 173.2,988.4 173.5,983.7 173.8,984.7 174.1,989.8 174.4,989.3 174.7,987.8 175,990.2 175.3,994.8 175.6,989.1 175.9,990.8 176.2,991.1 176.5,986.3 176.8,992.5 177.1,991.5 177.4,985.8 177.7,988.4 178,992.5 178.3,990.2 178.6,985 178.9,985.6 179.2,990 179.5,991.7 179.8,988.6 180.1,983 180.4,984.2 180.7,987.6 181,987.4 181.3,986 181.6,989.2 181.9,991.3 182.2,990.2 182.5,990 182.8,988.6 183.1,985.9 183.4,984.3 183.7,986.4 184,991.1 184.3,988.4 184.6,985.1 184.9,987.6 185.2,985.7 185.5,986.1 185.8,985.5 186.1,982.1 186.4,983.6 186.7,982.9 187,983.6 187.3,988.9 187.6,985.7 187.9,982.1 188.2,988.8 188.5,991 188.8,986.7 189.1,987.1 189.4,987.6 189.7,987.2 190,983.9 190.3,984.7 190.6,991.1 190.9,990.3 191.2,988.6 191.5,990.4 191.8,990.6 192.1,989.6 192.4,989.8 192.7,990 193,987 193.3,984 193.6,983.6 193.9,983.7 194.2,986.5 194.5,989.3 194.8,987 195.1,984.1 195.4,983.7 195.7,986.4 196,988.7 196.3,988.6 196.6,990.3 196.9,989.5 197.2,988.2 197.5,989.3 197.8,989.9 198.1,988 198.4,991.4 198.7,993.4 199,987.1 199.3,988 199.6,990.5 199.9,986.2 200.2,985.7 200.5,986.3 200.8,986 201.1,989.7 201.4,989.7 201.7,988.5 202,989.5 202.3,996.2 202.6,994.3 202.9,985.9 203.2,989.6 203.5,991.5 203.8,988.4 204.1,987.3 204.4,988.4 204.7,990.3 205,992.1 205.3,987.6 205.6,984.5 205.9,987.5 206.2,985.5 206.5,985.1 206.8,986.6 207.1,984.4 207.4,982.6 207.7,986.1 208,988 208.3,988.4 208.6,990.5 208.9,991.4 209.2,991.6 209.5,988.8 209.8,987.8 210.1,989.6 210.4,988.9 210.7,987.4 211,983.8 211.3,984.3 211.6,989.6 211.9,988.1 212.2,987.8 212.5,992.3 212.8,991.3 213.1,990.5 213.4,990.9 213.7,985.1 214,984.8 214.3,991.3 214.6,992 214.9,986.5 215.2,983.7 215.5,985.2 215.8,987.3 216.1,988.3 216.4,990.9 216.7,991 217,990.6 217.3,994.3 217.6,994.5 217.9,990.8 218.2,987.1 218.5,984.9 218.8,985.2 219.1,988.6 219.4,986.7 219.7,986.1 220,987.8 220.3,985.1 220.6,987.6 220.9,990 221.2,986.2 221.5,985.6 221.8,988.6 222.1,992.8 222.4,989.3 222.7,988 223,988.6 223.3,987.6 223.6,989.7 223.9,989.9 224.2,987.1 224.5,986.2 224.8,988.3 225.1,987.5 225.4,986.1 225.7,987.5 226,991.8 226.3,989.9 226.6,986.6 226.9,988.9 227.2,991 227.5,989.3 227.8,986.6 228.1,986.4 228.4,984.5 228.7,987.6 229,991.9 229.3,987.2 229.6,986.4 229.9,991.3 230.2,990.5 230.5,989.1 230.8,990.9 231.1,985.9 231.4,986.8 231.7,991.3 232,989.3 232.3,983.8 232.6,983.4 232.9,987.5 233.2,988.5 233.5,990.3 233.8,988.3 234.1,988.1 234.4,989.5 234.7,989.6 235,989.6 235.3,990 235.6,988.9 235.9,986.7 236.2,987.9 236.5,988.7 236.8,990.2 237.1,991.2 237.4,991.3 237.7,993.8 238,991.9 238.3,990.4 238.6,993.3 238.9,990.2 239.2,986.2 239.5,988.7 239.8,992.3 240.1,991.9 240.4,987.6 240.7,983.5 241,986.1 241.3,985.8 241.6,988 241.9,991.4 242.2,988.3 242.5,986.6 242.8,986.6 243.1,985.6 243.4,985.4 243.7,991.3 244,990.4 244.3,986.2 244.6,988.1 244.9,991.5 245.2,992.2 245.5,986.6 245.8,986 246.1,990.3 246.4,991 246.7,989.2 247,988.5 247.3,991.8 247.6,993.5 247.9,994.8 248.2,991.9 248.5,991.2 248.8,992.5 249.1,986.2 249.4,984.9 249.7,988.1 250,990.4 250.3,988.4 250.6,988 250.9,989.1 251.2,986 251.5,983.5 251.8,983.8 252.1,987.3 252.4,986 252.7,987 253,988.9 253.3,989.8 253.6,991.5 253.9,990.3 254.2,984.9 254.5,985.4 254.8,994.7 255.1,997 255.4,983.5 255.7,977.8 256,986.8 256.3,991.2 256.6,990.2 256.9,993 257.2,994.9 257.5,990.4 257.8,987.2 258.1,989.3 258.4,990.1 258.7,982.9 259,981.4 259.3,985.4 259.6,989.8 259.9,988.8 260.2,985.6 260.5,982.8 260.8,984.9 261.1,990.5 261.4,991.7 261.7,989.6 262,984.9 262.3,985.2 262.6,993.7 262.9,995 263.2,989.6 263.5,987 263.8,988.4 264.1,990.8 264.4,989.3 264.7,987.6 265,987.6 265.3,989 265.6,989.1 265.9,986 266.2,982.6 266.5,984.5 266.8,990.4 267.1,992.7 267.4,991.9 267.7,987.5 268,983.1 268.3,986.7 268.6,989.7 268.9,987.5 269.2,987.9 269.5,989.4 269.8,989.1 270.1,989.4 270.4,991.2 270.7,989.6 271,986 271.3,990.2 271.6,992.2 271.9,991.7 272.2,991.6 272.5,989.2 272.8,988.7 273.1,989.2 273.4,990.6 273.7,988.4 274,988.2 274.3,988.7 274.6,987.3 274.9,986.1 275.2,989.2 275.5,987.7 275.8,986 276.1,988.4 276.4,985.1 276.7,984.8 277,986 277.3,990.8 277.6,991.4 277.9,989.6 278.2,989.5 278.5,988 278.8,987.4 279.1,985.8 279.4,985.6 279.7,984.7 280,984.7 280.3,984.8 280.6,983.5 280.9,987.3 281.2,990.2 281.5,984.4 281.8,982.1 282.1,983.6 282.4,984.3 282.7,991.3 283,988.6 283.3,980.3 283.6,984.9 283.9,988.7 284.2,990.2 284.5,992.9 284.8,996 285.1,997.4 285.4,990.6 285.7,986.5 286,988.5 286.3,987.2 286.6,984.3 286.9,985 287.2,988.3 287.5,991 287.8,990.1 288.1,989.2 288.4,988.2 288.7,989.8 289,994.2 289.3,991.5 289.6,986.7 289.9,988.1 290.2,993.8 290.5,992.6 290.8,991.7 291.1,989.9 291.4,987.7 291.7,993.7 292,994.6 292.3,994.7 292.6,992.8 292.9,987.4 293.2,986.7 293.5,992.3 293.8,993.8 294.1,991.9 294.4,991.6 294.7,989 295,987.3 295.3,988.6 295.6,991.4 295.9,989.4 296.2,988.3 296.5,987.9 296.8,987.6 297.1,991.2 297.4,995.5 297.7,992.9 298,987.3 298.3,987.8 298.6,987.2 298.9,986.6 299.2,984.5 299.5,987.3 299.8,990.1 300.1,988.1 300.4,989.8 300.7,988.4 301,988 301.3,993.6 301.6,994.7 301.9,989 302.2,991.2 302.5,995.9 302.8,991.3 303.1,988 303.4,992.4 303.7,992.9 304,987.3 304.3,987.9 304.6,989.9 304.9,990.3 305.2,988.5 305.5,987.7 305.8,988.8 306.1,988.3 306.4,992.7 306.7,992.5 307,988.4 307.3,986.9 307.6,986.6 307.9,991.3 308.2,993.4 308.5,990.5 308.8,988.4 309.1,987.5 309.4,988.6 309.7,987.7 310,989 310.3,992.7 310.6,996.9 310.9,996.4 311.2,989.1 311.5,987.6 311.8,989.1 312.1,987.4 312.4,988 312.7,989.9 313,989.6 313.3,991.2 313.6,991.5 313.9,989.3 314.2,987 314.5,984.4 314.8,986.8 315.1,990.8 315.4,992.7 315.7,991.1 316,986.9 316.3,985.1 316.6,987.7 316.9,992 317.2,993.8 317.5,995.9 317.8,996.5 318.1,993.6 318.4,988.1 318.7,986.2 319,994.1 319.3,998 319.6,992.4 319.9,988 320.2,985.7 320.5,989.6 320.8,990.2 321.1,984.7 321.4,985.4 321.7,990 322,994.6 322.3,992.5 322.6,989.8 322.9,992 323.2,991.9 323.5,990.7 323.8,989.8 324.1,988.4 324.4,988.5 324.7,993.5 325,994.1 325.3,988.4 325.6,988.7 325.9,992.3 326.2,993.4 326.5,987.5 326.8,987 327.1,993.5 327.4,992.4 327.7,992.1 328,993.6 328.3,990.3 328.6,986.4 328.9,985.3 329.2,987 329.5,985.7 329.8,986.2 330.1,990.4 330.4,989.9 330.7,988.4 331,991.6 331.3,992.2 331.6,988.5 331.9,988.6 332.2,989 332.5,991.4 332.8,994 333.1,995.8 333.4,993.6 333.7,985.2 334,985.6 334.3,988.7 334.6,991.2 334.9,993.5 335.2,989.9 335.5,992.1 335.8,993.2 336.1,988.2 336.4,989.6 336.7,988.4 337,988.8 337.3,988.4 337.6,988.5 337.9,993.8 338.2,995 338.5,994.6 338.8,991.7 339.1,990.5 339.4,990.9 339.7,990.8 340,989.4 340.3,989.6 340.6,993.3 340.9,991.5 341.2,994.3 341.5,996.2 341.8,990.5 342.1,988.2 342.4,989.9 342.7,990.8 343,988.2 343.3,992 343.6,994.1 343.9,992.7 344.2,993.8 344.5,991 344.8,991.7 345.1,994.4 345.4,996.2 345.7,993 346,990.5 346.3,990.1 346.6,985 346.9,988.1 347.2,992 347.5,990 347.8,986.8 348.1,986 348.4,985.9 348.7,985.7 349,979.5 349.3,974.3 349.6,976.4 349.9,978.9 350.2,983.1 350.5,981.1 350.8,979.2 351.1,980.6 351.4,981.6 351.7,985.7 352,987 352.3,986.3 352.6,984.3 352.9,987 353.2,989.1 353.5,986.2 353.8,988.5 354.1,992.5 354.4,986.6 354.7,986.1 355,992 355.3,987.8 355.6,985 355.9,980.4 356.2,980.1 356.5,983.9 356.8,981.1 357.1,982.3 357.4,987.8 357.7,984.8 358,982.6 358.3,983.2 358.6,980.8 358.9,986.3 359.2,987.7 359.5,988.1 359.8,995.1 360.1,996.9 360.4,994.2 360.7,996.5 361,995.6 361.3,992.8 361.6,994 361.9,989.4 362.2,986.7 362.5,990.2 362.8,992.1 363.1,992.1 363.4,992 363.7,993.6 364,993 364.3,989.3 364.6,991.9 364.9,994.4 365.2,994.1 365.5,990.8 365.8,993.9 366.1,998 366.4,992.4 366.7,991.1 367,992.9 367.3,990 367.6,989.5 367.9,994.3 368.2,997.8 368.5,998.7 368.8,994.1" stroke="#1212cc" stroke-width="2.0" stroke-linejoin="round"/>
<polyline points="67,1074.6 67.3,1073.7 67.6,1073.2 67.9,1074.8 68.2,1075 68.5,1069.1 68.8,1073.5 69.1,1078.1 69.4,1076.1 69.7,1076.7 70,1078.7 70.3,1078.3 70.6,1075.6 70.9,1079.6 71.2,1082.7 71.5,1085.2 71.8,1085.3 72.1,1082.4 72.4,1086.3 72.7,1087.9 73,1082.6 73.3,1080.3 73.6,1079.3 73.9,1079.7 74.2,1083.1 74.5,1082.5 74.8,1083.4 75.1,1082.6 75.4,1081.2 75.7,1083 76,1082.5 76.3,1081 76.6,1081.7 76.9,1084.3 77.2,1082 77.5,1084 77.8,1082.9 78.1,1080 78.4,1080.3 78.7,1081.8 79,1083.5 79.3,1081 79.6,1080.2 79.9,1080.9 80.2,1083 80.5,1085.6 80.8,1088.4 81.1,1089.6 81.4,1084.6 81.7,1075.8 82,1077.6 82.3,1084.1 82.6,1081.7 82.9,1078.9 83.2,1080.5 83.5,1081.3 83.8,1082.6 84.1,1084.8 84.4,1086.7 84.7,1086.6 85,1085.4 85.3,1081.7 85.6,1082 85.9,1085.5 86.2,1082.2 86.5,1081.5 86.8,1081.2 87.1,1081.5 87.4,1087.1 87.7,1087.1 88,1081.9 88.3,1082.6 88.6,1087.2 88.9,1084.9 89.2,1082.4 89.5,1087.8 89.8,1090 90.1,1090.4 90.4,1087.4 90.7,1079.2 91,1080.7 91.3,1082.4 91.6,1082.5 91.9,1084.4 92.2,1083.8 92.5,1082.9 92.8,1084.5 93.1,1086.8 93.4,1082.6 93.7,1082.2 94,1083.8 94.3,1084.2 94.6,1090.1 94.9,1090.9 95.2,1084.7 95.5,1084.6 95.8,1087.1 96.1,1087.9 96.4,1087.6 96.7,1083.2 97,1082.5 97.3,1084.2 97.6,1083.8 97.9,1081.4 98.2,1085.7 98.5,1089.6 98.8,1087.5 99.1,1084 99.4,1083.1 99.7,1085.4 100,1086.4 100.3,1086.2 100.6,1087.4 100.9,1083.4 101.2,1083.9 101.5,1088.1 101.8,1086.7 102.1,1087.5 102.4,1084.8 102.7,1089 103,1089.4 103.3,1083.2 103.6,1086.3 103.9,1088.3 104.2,1087.4 104.5,1085.5 104.8,1086.5 105.1,1089.3 105.4,1088.5 105.7,1087.8 106,1086.7 106.3,1091 106.6,1087.7 106.9,1085.2 107.2,1089.5 107.5,1085.6 107.8,1084 108.1,1085.2 108.4,1085.2 108.7,1085.3 109,1088 109.3,1088.5 109.6,1085.4 109.9,1086.7 110.2,1089 110.5,1088.3 110.8,1089.6 111.1,1087.6 111.4,1085.6 111.7,1086.4 112,1086 112.3,1086.7 112.6,1087.4 112.9,1087.5 113.2,1088.3 113.5,1085.3 113.8,1079.3 114.1,1083.4 114.4,1086.3 114.7,1081.9 115,1082.8 115.3,1084.4 115.6,1083.5 115.9,1084.4 116.2,1084.7 116.5,1087.9 116.8,1090 117.1,1088.1 117.4,1088.2 117.7,1084.7 118,1083.2 118.3,1085.4 118.6,1085 118.9,1086.4 119.2,1087.1 119.5,1085.2 119.8,1086.6 120.1,1087.2 120.4,1086.5 120.7,1089.8 121,1086.9 121.3,1083.5 121.6,1084.1 121.9,1082.9 122.2,1082.3 122.5,1087.3 122.8,1091.5 123.1,1089.3 123.4,1086 123.7,1087.5 124,1088.1 124.3,1088.2 124.6,1089.1 124.9,1087.9 125.2,1089.6 125.5,1087.2 125.8,1083.5 126.1,1082.6 126.4,1083.2 126.7,1084.4 127,1086.6 127.3,1088.7 127.6,1085.2 127.9,1084.1 128.2,1085.9 128.5,1086.1 128.8,1090 129.1,1088.7 129.4,1084.9 129.7,1090.3 130,1088.9 130.3,1083.6 130.6,1085.8 130.9,1087.9 131.2,1086.3 131.5,1086.9 131.8,1092.9 132.1,1088.6 132.4,1082.8 132.7,1085.5 133,1086.7 133.3,1083.9 133.6,1082.5 133.9,1085.5 134.2,1085.1 134.5,1088.2 134.8,1087.5 135.1,1081.4 135.4,1085.9 135.7,1092.5 136,1090.5 136.3,1091.3 136.6,1092.6 136.9,1085.2 137.2,1083.5 137.5,1088.3 137.8,1089.7 138.1,1090.4 138.4,1091.5 138.7,1089.1 139,1086.7 139.3,1084.6 139.6,1083.3 139.9,1081.8 140.2,1082.5 140.5,1089 140.8,1085.7 141.1,1082.6 141.4,1084.3 141.7,1087.5 142,1087.9 142.3,1089.1 142.6,1093.2 142.9,1084.7 143.2,1080.9 143.5,1086.8 143.8,1087.3 144.1,1084.6 144.4,1089.4 144.7,1087.8 145,1082.7 145.3,1081.1 145.6,1082.3 145.9,1081.4 146.2,1077.1 146.5,1073.9 146.8,1072.3 147.1,1077.3 147.4,1081.1 147.7,1079.2 148,1081.8 148.3,1082.4 148.6,1081.6 148.9,1083 149.2,1083.2 149.5,1084.3 149.8,1084.9 150.1,1090.2 150.4,1092.2 150.7,1090.7 151,1089.7 151.3,1086.4 151.6,1088.7 151.9,1091.3 152.2,1086.7 152.5,1085.9 152.8,1089.9 153.1,1089.1 153.4,1083.7 153.7,1082.7 154,1087.8 154.3,1084.9 154.6,1085.8 154.9,1088.9 155.2,1086 155.5,1087.1 155.8,1089.1 156.1,1089.8 156.4,1087 156.7,1086.5 157,1088.8 157.3,1092.9 157.6,1088.9 157.9,1084.4 158.2,1086.4 158.5,1085.4 158.8,1084.5 159.1,1087 159.4,1088.7 159.7,1090.1 160,1091.1 160.3,1087 160.6,1084.3 160.9,1086.9 161.2,1085.6 161.5,1087.7 161.8,1090.6 162.1,1084.7 162.4,1084 162.7,1091.5 163,1091.9 163.3,1089.4 163.6,1091.5 163.9,1089 164.2,1090.2 164.5,1091.8 164.8,1086.2 165.1,1084.8 165.4,1090.6 165.7,1090.9 166,1087.8 166.3,1086.1 166.6,1087.1 166.9,1088.4 167.2,1087.9 167.5,1089.3 167.8,1093.8 168.1,1093.6 168.4,1089.4 168.7,1088.4 169,1089.8 169.3,1093.5 169.6,1094.8 169.9,1088.9 170.2,1081.2 170.5,1084 170.8,1088.4 171.1,1086.3 171.4,1087.3 171.7,1090.6 172,1089.2 172.3,1090.8 172.6,1091.1 172.9,1092.1 173.2,1096.5 173.5,1091.1 173.8,1087.5 174.1,1089.1 174.4,1091.6 174.7,1092.4 175,1091.7 175.3,1093.3 175.6,1089.9 175.9,1089.2 176.2,1094.3 176.5,1090.8 176.8,1086.4 177.1,1087.7 177.4,1086.1 177.7,1089.5 178,1096.7 178.3,1095.3 178.6,1086 178.9,1085.7 179.2,1091.8 179.5,1093.9 179.8,1092.2 180.1,1089.3 180.4,1090.6 180.7,1089.6 181,1090.6 181.3,1092.6 181.6,1090.7 181.9,1087 182.2,1088.6 182.5,1090.4 182.8,1091.1 183.1,1094.5 183.4,1093.5 183.7,1091.4 184,1088.1 184.3,1080.6 184.6,1079.1 184.9,1085.7 185.2,1090.5 185.5,1089.8 185.8,1091.6 186.1,1092.6 186.4,1092.4 186.7,1095.4 187,1091.2 187.3,1091 187.6,1092 187.9,1087.8 188.2,1091.9 188.5,1096.1 188.8,1092.9 189.1,1092.3 189.4,1091.7 189.7,1091.6 190,1092.5 190.3,1091.7 190.6,1093.5 190.9,1095.5 191.2,1094.9 191.5,1094.1 191.8,1093 192.1,1092.9 192.4,1091.7 192.7,1086.8 193,1085.1 193.3,1087.4 193.6,1089.8 193.9,1086.8 194.2,1084.7 194.5,1086.8 194.8,1089.6 195.1,1090 195.4,1087.2 195.7,1088.9 196,1090.9 196.3,1094.9 196.6,1096.2 196.9,1093.1 197.2,1093.3 197.5,1094 197.8,1092.6 198.1,1092.4 198.4,1090.3 198.7,1087.9 199,1090.8 199.3,1090 199.6,1088.5 199.9,1085.9 200.2,1088.6 200.5,1088.2 200.8,1086.1 201.1,1090.8 201.4,1090.3 201.7,1088.1 202,1088 202.3,1092.8 202.6,1094.4 202.9,1092.3 203.2,1089.7 203.5,1090.1 203.8,1088.6 204.1,1090.7 204.4,1093.9 204.7,1093.1 205,1093.2 205.3,1090.1 205.6,1089.4 205.9,1087.5 206.2,1090.2 206.5,1091.8 206.8,1090.4 207.1,1090.8 207.4,1089.6 207.7,1087.8 208,1087.7 208.3,1090.2 208.6,1091.2 208.9,1089 209.2,1090 209.5,1092.1 209.8,1088.9 210.1,1089.8 210.4,1092 210.7,1091.7 211,1090.3 211.3,1089.8 211.6,1092.1 211.9,1093 212.2,1091.8 212.5,1089 212.8,1089.8 213.1,1091.8 213.4,1090.9 213.7,1094.7 214,1094.6 214.3,1094.7 214.6,1092 214.9,1090.5 215.2,1090.6 215.5,1092.5 215.8,1094.1 216.1,1093.2 216.4,1094.8 216.7,1088.8 217,1085.8 217.3,1085.8 217.6,1088.7 217.9,1091.8 218.2,1089.5 218.5,1091.4 218.8,1089.1 219.1,1086.4 219.4,1093.6 219.7,1095.8 220,1088.9 220.3,1089.9 220.6,1090.5 220.9,1088.4 221.2,1092.2 221.5,1091.5 221.8,1091.3 222.1,1093.8 222.4,1094.7 222.7,1091.8 223,1092.6 223.3,1091.8 223.6,1093.4 223.9,1094.6 224.2,1090.6 224.5,1092.7 224.8,1090.5 225.1,1086.1 225.4,1088.2 225.7,1089.8 226,1086 226.3,1082 226.6,1082.3 226.9,1087.8 227.2,1090.4 227.5,1088.4 227.8,1088.5 228.1,1088.8 228.4,1094.4 228.7,1095 229,1089.6 229.3,1088.4 229.6,1088.7 229.9,1092 230.2,1092.7 230.5,1090.7 230.8,1091.5 231.1,1093.9 231.4,1091.8 231.7,1090.1 232,1097.4 232.3,1097.4 232.6,1091 232.9,1088.8 233.2,1088.7 233.5,1088.8 233.8,1086.6 234.1,1087.4 234.4,1089.6 234.7,1089.1 235,1088.5 235.3,1089.8 235.6,1094.9 235.9,1093.5 236.2,1087.4 236.5,1087.4 236.8,1089 237.1,1092.8 237.4,1091.3 237.7,1086 238,1092.2 238.3,1096 238.6,1092 238.9,1091.5 239.2,1090.8 239.5,1091 239.8,1092.3 240.1,1094.8 240.4,1092.6 240.7,1090.1 241,1089.3 241.3,1090.1 241.6,1092.3 241.9,1090.6 242.2,1089.7 242.5,1091.3 242.8,1090.6 243.1,1091.6 243.4,1094.8 243.7,1092.2 244,1088.5 244.3,1089.4 244.6,1091.8 244.9,1091.1 245.2,1087.6 245.5,1088.6 245.8,1091.6 246.1,1090.8 246.4,1092.3 246.7,1089.4 247,1087.8 247.3,1090.6 247.6,1089.5 247.9,1092.1 248.2,1093.4 248.5,1094.7 248.8,1096.3 249.1,1092.7 249.4,1089.6 249.7,1091.6 250,1090.2 250.3,1085.9 250.6,1087.2 250.9,1089.6 251.2,1091.5 251.5,1089.6 251.8,1092.1 252.1,1090.6 252.4,1087.8 252.7,1095.3 253,1095.5 253.3,1093.1 253.6,1089.6 253.9,1092.3 254.2,1096.6 254.5,1091 254.8,1088.6 255.1,1090.6 255.4,1088.4 255.7,1089.6 256,1093.2 256.3,1093.1 256.6,1094.1 256.9,1092 257.2,1092.7 257.5,1097.1 257.8,1096.2 258.1,1090.6 258.4,1088.8 258.7,1093.5 259,1094.9 259.3,1088.6 259.6,1087.2 259.9,1089.5 260.2,1087.7 260.5,1084.8 260.8,1088.9 261.1,1093.3 261.4,1089.6 261.7,1093.1 262,1096 262.3,1096.2 262.6,1090.8 262.9,1088.6 263.2,1095.4 263.5,1095.2 263.8,1092.7 264.1,1089 264.4,1089.8 264.7,1092.8 265,1092.3 265.3,1093 265.6,1094.6 265.9,1089.2 266.2,1088.3 266.5,1092.3 266.8,1090.4 267.1,1088.9 267.4,1088.5 267.7,1090.9 268,1092.7 268.3,1092.9 268.6,1092.6 268.9,1092 269.2,1090.6 269.5,1090.4 269.8,1089.6 270.1,1089.5 270.4,1091.2 270.7,1094.2 271,1097.6 271.3,1097.4 271.6,1092.7 271.9,1088.9 272.2,1093.2 272.5,1096.4 272.8,1094.8 273.1,1090.3 273.4,1089.4 273.7,1089.2 274,1086.6 274.3,1089.7 274.6,1092.6 274.9,1096.4 275.2,1097.3 275.5,1091.8 275.8,1090.4 276.1,1090.6 276.4,1089.1 276.7,1089.6 277,1090.6 277.3,1091 277.6,1092.5 277.9,1095.1 278.2,1091.2 278.5,1089.3 278.8,1091.5 279.1,1093.9 279.4,1096.9 279.7,1095.4 280,1095.4 280.3,1092 280.6,1091.1 280.9,1091.9 281.2,1093.1 281.5,1094 281.8,1093.1 282.1,1092.3 282.4,1089.1 282.7,1091.9 283,1090.4 283.3,1093.5 283.6,1098.6 283.9,1094.9 284.2,1095.9 284.5,1092.6 284.8,1093.5 285.1,1093.1 285.4,1089.2 285.7,1086.3 286,1084 286.3,1089.3 286.6,1093.4 286.9,1092.7 287.2,1092.2 287.5,1090.1 287.8,1092.5 288.1,1095.5 288.4,1094.7 288.7,1091.6 289,1089.7 289.3,1089.8 289.6,1087.9 289.9,1089.5 290.2,1090.7 290.5,1094.5 290.8,1092.3 291.1,1090.3 291.4,1094.5 291.7,1092.2 292,1087.7 292.3,1084.1 292.6,1089.1 292.9,1094.4 293.2,1089.6 293.5,1090.6 293.8,1093.4 294.1,1092.1 294.4,1095.8 294.7,1090 295,1088 295.3,1095.5 295.6,1088.9 295.9,1087.7 296.2,1092.5 296.5,1090.4 296.8,1086.4 297.1,1091.4 297.4,1096 297.7,1092.2 298,1091.1 298.3,1089.8 298.6,1091.1 298.9,1090.7 299.2,1092.6 299.5,1094 299.8,1090.8 300.1,1093.5 300.4,1095.8 300.7,1092.4 301,1091.3 301.3,1092.1 301.6,1090.2 301.9,1089.2 302.2,1092 302.5,1091.8 302.8,1089.3 303.1,1090.1 303.4,1090.7 303.7,1089.7 304,1086.6 304.3,1088.1 304.6,1091 304.9,1093.7 305.2,1091.9 305.5,1086.7 305.8,1085.8 306.1,1083.6 306.4,1087.9 306.7,1091 307,1090.1 307.3,1091.2 307.6,1086.9 307.9,1091.4 308.2,1094.1 308.5,1089.6 308.8,1089.8 309.1,1088.8 309.4,1091.1 309.7,1093.7 310,1092.8 310.3,1088.8 310.6,1087.3 310.9,1090.2 311.2,1092.8 311.5,1095.7 311.8,1096.5 312.1,1090.5 312.4,1087.3 312.7,1090.8 313,1088.5 313.3,1086.4 313.6,1087.4 313.9,1086 314.2,1090.3 314.5,1092.7 314.8,1092 315.1,1087.2 315.4,1087.7 315.7,1094.3 316,1095.8 316.3,1095.9 316.6,1096.2 316.9,1093.1 317.2,1093.8 317.5,1094.3 317.8,1090.6 318.1,1089.1 318.4,1087.5 318.7,1086.8 319,1088.4 319.3,1090.2 319.6,1092.2 319.9,1094.6 320.2,1092.1 320.5,1092.9 320.8,1098.2 321.1,1096.5 321.4,1089.1 321.7,1084.7 322,1085 322.3,1089.1 322.6,1093.1 322.9,1092.9 323.2,1086.7 323.5,1088.3 323.8,1092 324.1,1088.5 324.4,1083 324.7,1083.5 325,1085 325.3,1087.1 325.6,1091.3 325.9,1094.1 326.2,1095.3 326.5,1092.1 326.8,1095 327.1,1092.1 327.4,1085.8 327.7,1088.5 328,1091.5 328.3,1088.8 328.6,1088.4 328.9,1094.6 329.2,1091.2 329.5,1086.1 329.8,1089.7 330.1,1092.5 330.4,1092.5 330.7,1099.1 331,1094.5 331.3,1088.7 331.6,1090.9 331.9,1091.5 332.2,1091.3 332.5,1088.7 332.8,1092.1 333.1,1093.2 333.4,1096.8 333.7,1095.5 334,1089 334.3,1089.6 334.6,1090 334.9,1091.2 335.2,1096.3 335.5,1095.3 335.8,1091.4 336.1,1089 336.4,1086.9 336.7,1089.9 337,1090.7 337.3,1093.5 337.6,1094.3 337.9,1093.5 338.2,1090.7 338.5,1086.6 338.8,1091.3 339.1,1093.7 339.4,1091 339.7,1088.7 340,1087.5 340.3,1089.9 340.6,1092.4 340.9,1089.1 341.2,1084 341.5,1087.1 341.8,1093.3 342.1,1097.3 342.4,1094.2 342.7,1086.5 343,1085.8 343.3,1088.7 343.6,1091.5 343.9,1095.1 344.2,1093 344.5,1090.4 344.8,1090.9 345.1,1085.7 345.4,1088.1 345.7,1091.5 346,1092.8 346.3,1096.4 346.6,1092.7 346.9,1090.3 347.2,1091.1 347.5,1087.7 347.8,1088.2 348.1,1090.6 348.4,1093.2 348.7,1091.8 349,1086.5 349.3,1091 349.6,1094.9 349.9,1095 350.2,1095.6 350.5,1091.5 350.8,1087.1 351.1,1089.6 351.4,1092.7 351.7,1088.7 352,1088.5 352.3,1089 352.6,1086.4 352.9,1089.2 353.2,1091.8 353.5,1089.3 353.8,1090.8 354.1,1092.7 354.4,1092.6 354.7,1091.1 355,1087.4 355.3,1089.5 355.6,1091.5 355.9,1087.7 356.2,1085.6 356.5,1090.8 356.8,1092.8 357.1,1090.1 357.4,1088.1 357.7,1081.8 358,1081.8 358.3,1084.5 358.6,1085.9 358.9,1085.3 359.2,1085.7 359.5,1087 359.8,1087.5 360.1,1087.9 360.4,1085.1 360.7,1087.6 361,1088.3 361.3,1086.2 361.6,1090.3 361.9,1092 362.2,1087.9 362.5,1091 362.8,1089.4 363.1,1088.7 363.4,1088.3 363.7,1086.8 364,1088.9 364.3,1086.5 364.6,1085.1 364.9,1086.4 365.2,1085.7 365.5,1093.5 365.8,1099.1 366.1,1091.6 366.4,1088.6 366.7,1094.8 367,1096.4 367.3,1091.4 367.6,1089.9 367.9,1090.2 368.2,1092.3 368.5,1091.2 368.8,1088.4" stroke="#0a0a0a" stroke-width="2.0" stroke-linejoin="round"/>
<polyline points="67,1174.3 67.3,1174.6 67.6,1176.3 67.9,1176.6 68.2,1171.6 68.5,1172.1 68.8,1176.7 69.1,1174.7 69.4,1175.6 69.7,1178.6 70,1182.5 70.3,1186.1 70.6,1184.9 70.9,1184.9 71.2,1187.7 71.5,1184.9 71.8,1182.5 72.1,1184.9 72.4,1185.1 72.7,1181.2 73,1185.3 73.3,1188.8 73.6,1185.3 73.9,1184.5 74.2,1182.9 74.5,1186.7 74.8,1187.8 75.1,1185.7 75.4,1185.3 75.7,1183 76,1181.9 76.3,1180.4 76.6,1179.9 76.9,1183.2 77.2,1183.2 77.5,1182.7 77.8,1182.9 78.1,1181.6 78.4,1184.2 78.7,1184.7 79,1185.3 79.3,1185.9 79.6,1187.2 79.9,1188.3 80.2,1185.7 80.5,1184.1 80.8,1183.9 81.1,1186.4 81.4,1184.5 81.7,1182 82,1186.7 82.3,1187.7 82.6,1185.2 82.9,1184.7 83.2,1187.1 83.5,1185.1 83.8,1182.2 84.1,1182.5 84.4,1182.3 84.7,1188.6 85,1187.4 85.3,1182.4 85.6,1183.2 85.9,1186 86.2,1189.4 86.5,1186 86.8,1184.6 87.1,1185.3 87.4,1186.2 87.7,1188 88,1188.7 88.3,1189.6 88.6,1184.8 88.9,1180.9 89.2,1184.1 89.5,1184 89.8,1183.1 90.1,1186.3 90.4,1185.4 90.7,1185 91,1185 91.3,1187.5 91.6,1188.5 91.9,1185.9 92.2,1186.5 92.5,1184.4 92.8,1186.4 93.1,1185.8 93.4,1186.7 93.7,1189.1 94,1182.7 94.3,1185.1 94.6,1189.4 94.9,1186.3 95.2,1184.7 95.5,1186.7 95.8,1185.5 96.1,1176.7 96.4,1175.7 96.7,1183.6 97,1188.2 97.3,1190.3 97.6,1188.2 97.9,1185.5 98.2,1188.5 98.5,1189 98.8,1185.9 99.1,1186.9 99.4,1187 99.7,1183.8 100,1185.8 100.3,1190 100.6,1187.4 100.9,1188 101.2,1190.7 101.5,1186.5 101.8,1184.3 102.1,1188.7 102.4,1186.8 102.7,1188.5 103,1190.9 103.3,1188.5 103.6,1193 103.9,1191.5 104.2,1186.5 104.5,1182.5 104.8,1181.6 105.1,1185.2 105.4,1188.5 105.7,1187.6 106,1184.5 106.3,1182.7 106.6,1179.6 106.9,1183.3 107.2,1187.4 107.5,1189.4 107.8,1190.3 108.1,1185.9 108.4,1186.7 108.7,1188.2 109,1186.3 109.3,1187.4 109.6,1187.8 109.9,1187.8 110.2,1186 110.5,1184.1 110.8,1186.9 111.1,1186.9 111.4,1184.8 111.7,1185 112,1183.4 112.3,1181.7 112.6,1186.1 112.9,1186.1 113.2,1186.1 113.5,1185.3 113.8,1188.2 114.1,1189.5 114.4,1186.1 114.7,1188.3 115,1188.7 115.3,1188.2 115.6,1184.5 115.9,1184.6 116.2,1186.1 116.5,1186.5 116.8,1183.3 117.1,1183.3 117.4,1184.7 117.7,1183.5 118,1185 118.3,1185.7 118.6,1185.1 118.9,1184.8 119.2,1187.4 119.5,1186.7 119.8,1187.6 120.1,1187 120.4,1184.4 120.7,1186.7 121,1187.3 121.3,1189.3 121.6,1189.7 121.9,1189.1 122.2,1190.1 122.5,1185.3 122.8,1183.7 123.1,1186 123.4,1184.8 123.7,1184.7 124,1187.5 124.3,1188.1 124.6,1190.7 124.9,1194.5 125.2,1189.7 125.5,1183.3 125.8,1186 126.1,1191.3 126.4,1186.8 126.7,1185.6 127,1185.8 127.3,1184 127.6,1186.1 127.9,1185.5 128.2,1189.5 128.5,1189 128.8,1185.6 129.1,1189.4 129.4,1187.5 129.7,1186 130,1186 130.3,1183.8 130.6,1183.5 130.9,1184.3 131.2,1188.5 131.5,1188.9 131.8,1185.3 132.1,1185 132.4,1184.3 132.7,1180.4 133,1182.5 133.3,1185.4 133.6,1188.7 133.9,1192.3 134.2,1188.7 134.5,1186.6 134.8,1184.4 135.1,1182 135.4,1187.4 135.7,1190.5 136,1187.6 136.3,1187.4 136.6,1189.1 136.9,1189.1 137.2,1184.7 137.5,1183 137.8,1185.5 138.1,1188 138.4,1186.4 138.7,1184.4 139,1192 139.3,1189 139.6,1185.2 139.9,1191.6 140.2,1190.7 140.5,1190.1 140.8,1187.9 141.1,1189.1 141.4,1186.1 141.7,1186.4 142,1186.2 142.3,1182.2 142.6,1188.2 142.9,1192.9 143.2,1194.2 143.5,1189.3 143.8,1182.9 144.1,1184.4 144.4,1187.3 144.7,1186 145,1186 145.3,1184.1 145.6,1183.2 145.9,1184.3 146.2,1184.2 146.5,1182.1 146.8,1180 147.1,1179.5 147.4,1177.7 147.7,1178.7 148,1183 148.3,1184.6 148.6,1181.4 148.9,1182.4 149.2,1183.4 149.5,1182.6 149.8,1187 150.1,1192.3 150.4,1193.7 150.7,1190.8 151,1187.8 151.3,1188.5 151.6,1190.2 151.9,1187.6 152.2,1186.4 152.5,1186.7 152.8,1186.3 153.1,1189 153.4,1190.1 153.7,1189 154,1188.6 154.3,1192.6 154.6,1192.8 154.9,1189.5 155.2,1189.1 155.5,1187.5 155.8,1186.4 156.1,1184.8 156.4,1187.2 156.7,1188.5 157,1187.3 157.3,1190.5 157.6,1194.8 157.9,1192.4 158.2,1190 158.5,1187.7 158.8,1189.5 159.1,1190.4 159.4,1185.5 159.7,1186.2 160,1190.1 160.3,1194 160.6,1190.6 160.9,1189.3 161.2,1192.5 161.5,1190.1 161.8,1194.3 162.1,1198.3 162.4,1191.9 162.7,1193 163,1193 163.3,1188.5 163.6,1190.9 163.9,1191.1 164.2,1189.9 164.5,1190.5 164.8,1191.9 165.1,1191.8 165.4,1190.9 165.7,1192.6 166,1190.3 166.3,1189.4 166.6,1191 166.9,1187.4 167.2,1188.4 167.5,1189.3 167.8,1190.1 168.1,1194.3 168.4,1194.1 168.7,1190.5 169,1193.4 169.3,1198.9 169.6,1194.7 169.9,1195 170.2,1196.4 170.5,1189.8 170.8,1185.3 171.1,1187.8 171.4,1189.9 171.7,1189.7 172,1187.4 172.3,1189.7 172.6,1190.9 172.9,1186.9 173.2,1190 173.5,1192 173.8,1190.8 174.1,1191.6 174.4,1193.8 174.7,1192.6 175,1193.8 175.3,1196.9 175.6,1195.7 175.9,1196.6 176.2,1193.8 176.5,1188.6 176.8,1193.1 177.1,1193.9 177.4,1192.3 177.7,1194.3 178,1196.6 178.3,1198.3 178.6,1191.1 178.9,1186.1 179.2,1187.9 179.5,1190.4 179.8,1191.7 180.1,1191.1 180.4,1194.3 180.7,1194.4 181,1193.2 181.3,1195.2 181.6,1194.2 181.9,1194.9 182.2,1195.2 182.5,1190.9 182.8,1185 183.1,1187 183.4,1195.7 183.7,1197.6 184,1194.3 184.3,1187.3 184.6,1186.5 184.9,1191.9 185.2,1192.9 185.5,1191.9 185.8,1190.3 186.1,1189.2 186.4,1188.1 186.7,1191.6 187,1193 187.3,1197.4 187.6,1199.1 187.9,1195.7 188.2,1195.1 188.5,1190.5 188.8,1186.3 189.1,1189.4 189.4,1191.8 189.7,1190 190,1193 190.3,1193.4 190.6,1188.5 190.9,1187.8 191.2,1192.7 191.5,1191.7 191.8,1187.1 192.1,1187.8 192.4,1191.5 192.7,1192.1 193,1188.9 193.3,1189.4 193.6,1192.2 193.9,1192.9 194.2,1189 194.5,1184.8 194.8,1189.1 195.1,1190.5 195.4,1185.7 195.7,1185.8 196,1190.5 196.3,1189.4 196.6,1188.5 196.9,1193.2 197.2,1192 197.5,1185.5 197.8,1187.9 198.1,1193.7 198.4,1189.9 198.7,1187.3 199,1190.2 199.3,1194.2 199.6,1192 199.9,1189.1 200.2,1192.1 200.5,1192.4 200.8,1191.9 201.1,1192 201.4,1192.1 201.7,1190.5 202,1187 202.3,1186.5 202.6,1189.7 202.9,1194 203.2,1194.9 203.5,1191.6 203.8,1192.4 204.1,1190 204.4,1183.9 204.7,1186.7 205,1190.9 205.3,1191 205.6,1195.2 205.9,1191.6 206.2,1189.6 206.5,1194.2 206.8,1191 207.1,1189.3 207.4,1190.1 207.7,1193.3 208,1189.4 208.3,1185.2 208.6,1190.6 208.9,1191.1 209.2,1188.4 209.5,1191.8 209.8,1194 210.1,1192.9 210.4,1190.8 210.7,1189.8 211,1187.7 211.3,1182.3 211.6,1185.3 211.9,1192.9 212.2,1193.8 212.5,1188.8 212.8,1188.9 213.1,1191.4 213.4,1188.1 213.7,1190.7 214,1194.5 214.3,1195.7 214.6,1192 214.9,1184.4 215.2,1185.9 215.5,1190.3 215.8,1188.2 216.1,1191.1 216.4,1194.4 216.7,1197.7 217,1201.1 217.3,1192.2 217.6,1194.1 217.9,1194.3 218.2,1190.4 218.5,1194 218.8,1188.5 219.1,1188.4 219.4,1191.2 219.7,1182.2 220,1184.7 220.3,1195 220.6,1194.7 220.9,1193.8 221.2,1192.7 221.5,1187.6 221.8,1188.7 222.1,1191.4 222.4,1187.9 222.7,1189.6 223,1192.5 223.3,1193.5 223.6,1193.1 223.9,1191.4 224.2,1185.7 224.5,1184.2 224.8,1189.5 225.1,1194 225.4,1195 225.7,1188.5 226,1187.1 226.3,1190.4 226.6,1191.6 226.9,1194.6 227.2,1192.1 227.5,1185.7 227.8,1185.3 228.1,1191.8 228.4,1193.5 228.7,1193.7 229,1192.9 229.3,1193.6 229.6,1196.1 229.9,1190.8 230.2,1190.1 230.5,1191 230.8,1191.9 231.1,1194 231.4,1192.4 231.7,1190.1 232,1187.5 232.3,1188.1 232.6,1191.5 232.9,1191 233.2,1191.1 233.5,1194 233.8,1196.1 234.1,1197.2 234.4,1195.9 234.7,1193.8 235,1192.7 235.3,1192.8 235.6,1193.8 235.9,1193.4 236.2,1191.1 236.5,1191.9 236.8,1192.6 237.1,1192.1 237.4,1191.8 237.7,1192.6 238,1193.4 238.3,1189.5 238.6,1189 238.9,1192.6 239.2,1192.9 239.5,1191.4 239.8,1188.5 240.1,1190.7 240.4,1191.4 240.7,1192 241,1191 241.3,1188.4 241.6,1193.5 241.9,1191.2 242.2,1189.3 242.5,1192.2 242.8,1193.8 243.1,1195.9 243.4,1197.3 243.7,1194.9 244,1192.9 244.3,1192.4 244.6,1193.8 244.9,1198.2 245.2,1195.6 245.5,1194.4 245.8,1193.4 246.1,1187.1 246.4,1188.2 246.7,1195.6 247,1196.4 247.3,1191.6 247.6,1195 247.9,1197.5 248.2,1194.7 248.5,1196.3 248.8,1196.9 249.1,1194.1 249.4,1195.3 249.7,1200.4 250,1199.8 250.3,1193.1 250.6,1187.2 250.9,1189.5 251.2,1189.9 251.5,1193.2 251.8,1197 252.1,1193.8 252.4,1197.5 252.7,1196.4 253,1192.8 253.3,1193.8 253.6,1192.8 253.9,1189.8 254.2,1195 254.5,1196.5 254.8,1193.2 255.1,1195.1 255.4,1195.6 255.7,1196.3 256,1198.4 256.3,1193.9 256.6,1191.5 256.9,1193.4 257.2,1193 257.5,1194.2 257.8,1193.4 258.1,1193.8 258.4,1192.7 258.7,1192.6 259,1195.4 259.3,1193.4 259.6,1196.3 259.9,1197.2 260.2,1194.9 260.5,1198.4 260.8,1194.1 261.1,1189.8 261.4,1188.9 261.7,1187 262,1190.4 262.3,1194.4 262.6,1195.1 262.9,1195.7 263.2,1194.9 263.5,1193.1 263.8,1189.5 264.1,1188 264.4,1192.8 264.7,1194.7 265,1194.4 265.3,1197.5 265.6,1198.1 265.9,1195.1 266.2,1192 266.5,1191.9 266.8,1192.5 267.1,1191.7 267.4,1193.1 267.7,1195.5 268,1192.4 268.3,1189.8 268.6,1191.2 268.9,1193.7 269.2,1196.1 269.5,1190.6 269.8,1189.7 270.1,1194.7 270.4,1194.7 270.7,1194.4 271,1193.5 271.3,1194.7 271.6,1194.5 271.9,1194.6 272.2,1195.1 272.5,1195.7 272.8,1197.4 273.1,1196.8 273.4,1192.1 273.7,1190.6 274,1195.7 274.3,1197.1 274.6,1195.3 274.9,1188.4 275.2,1189 275.5,1190.6 275.8,1187.6 276.1,1190.9 276.4,1190 276.7,1187.5 277,1191.8 277.3,1196.4 277.6,1192.4 277.9,1191.6 278.2,1190.8 278.5,1192.3 278.8,1191.9 279.1,1188.2 279.4,1193 279.7,1191.7 280,1191.2 280.3,1192.4 280.6,1191.7 280.9,1193.8 281.2,1194.1 281.5,1194.6 281.8,1194.4 282.1,1193.8 282.4,1193.1 282.7,1191.1 283,1189.5 283.3,1191 283.6,1191.7 283.9,1193.4 284.2,1195.4 284.5,1195.2 284.8,1194.7 285.1,1195.4 285.4,1196 285.7,1188.9 286,1185.5 286.3,1188.5 286.6,1187.8 286.9,1191.5 287.2,1189.8 287.5,1187.1 287.8,1191.3 288.1,1188.4 288.4,1183.8 288.7,1187.4 289,1190.3 289.3,1189 289.6,1195 289.9,1195.2 290.2,1190.4 290.5,1194.1 290.8,1197.3 291.1,1193.5 291.4,1191.8 291.7,1194.9 292,1196.2 292.3,1194.7 292.6,1193.9 292.9,1197.2 293.2,1194.6 293.5,1190.6 293.8,1191.5 294.1,1195.7 294.4,1194.2 294.7,1189.5 295,1192.8 295.3,1194.6 295.6,1193 295.9,1195.3 296.2,1193.6 296.5,1193.5 296.8,1197.7 297.1,1193.3 297.4,1185 297.7,1190.5 298,1197.4 298.3,1193 298.6,1194.6 298.9,1196 299.2,1194.7 299.5,1191.2 299.8,1189.7 300.1,1190.4 300.4,1192.4 300.7,1199.2 301,1195.6 301.3,1190.5 301.6,1190.8 301.9,1189.6 302.2,1192.2 302.5,1195.6 302.8,1199.4 303.1,1196.4 303.4,1195.2 303.7,1193.9 304,1191.3 304.3,1189.2 304.6,1187 304.9,1189.6 305.2,1189.7 305.5,1190.4 305.8,1191.4 306.1,1188.9 306.4,1192.9 306.7,1197.4 307,1193.5 307.3,1190.8 307.6,1190.5 307.9,1194.1 308.2,1195.9 308.5,1197 308.8,1193.7 309.1,1190.9 309.4,1191.9 309.7,1193.4 310,1194.1 310.3,1193.1 310.6,1191 310.9,1193.5 311.2,1200.1 311.5,1197.4 311.8,1192.4 312.1,1193 312.4,1192.8 312.7,1189.3 313,1191.6 313.3,1192.2 313.6,1191.8 313.9,1193 314.2,1195.7 314.5,1197.3 314.8,1193.4 315.1,1192.7 315.4,1192.2 315.7,1192.4 316,1194 316.3,1195.3 316.6,1195.6 316.9,1193 317.2,1191.5 317.5,1188.7 317.8,1188 318.1,1190.8 318.4,1190.6 318.7,1189.3 319,1189.7 319.3,1193.1 319.6,1191.3 319.9,1190.2 320.2,1195.8 320.5,1197 320.8,1197.4 321.1,1196 321.4,1192.5 321.7,1192.9 322,1189.9 322.3,1186.9 322.6,1192.7 322.9,1195 323.2,1195.3 323.5,1199.6 323.8,1196.7 324.1,1192.1 324.4,1192.8 324.7,1193.4 325,1195 325.3,1195.8 325.6,1192.1 325.9,1190.1 326.2,1190.4 326.5,1193.6 326.8,1194.5 327.1,1192.7 327.4,1190.5 327.7,1190.5 328,1190.8 328.3,1192.8 328.6,1194 328.9,1191.9 329.2,1191.4 329.5,1187.7 329.8,1190.5 330.1,1194.3 330.4,1193.6 330.7,1194.2 331,1193.9 331.3,1190.7 331.6,1191.9 331.9,1196.2 332.2,1194.6 332.5,1190.9 332.8,1190.7 333.1,1194.6 333.4,1196.4 333.7,1192.5 334,1191.4 334.3,1196.4 334.6,1194.9 334.9,1193 335.2,1193.3 335.5,1194.6 335.8,1194.9 336.1,1189.7 336.4,1194.4 336.7,1194.7 337,1191.1 337.3,1193.8 337.6,1196.4 337.9,1192.3 338.2,1188.2 338.5,1190.9 338.8,1193.6 339.1,1194.8 339.4,1195.5 339.7,1193.7 340,1194.2 340.3,1194.5 340.6,1184.3 340.9,1186.4 341.2,1195.9 341.5,1194.7 341.8,1190.8 342.1,1188.6 342.4,1189.5 342.7,1191.8 343,1192 343.3,1188.9 343.6,1186.5 343.9,1188.9 344.2,1191.3 344.5,1190.5 344.8,1187.9 345.1,1191.3 345.4,1190.9 345.7,1190.6 346,1195.3 346.3,1191.3 346.6,1190.2 346.9,1190.3 347.2,1190.3 347.5,1190.6 347.8,1188.3 348.1,1192.2 348.4,1196.7 348.7,1193.6 349,1190.5 349.3,1187.6 349.6,1188.5 349.9,1191.6 350.2,1190.3 350.5,1186.4 350.8,1184.9 351.1,1187.7 351.4,1187.5 351.7,1186.7 352,1187.5 352.3,1189.5 352.6,1188.2 352.9,1184.7 353.2,1182.7 353.5,1186 353.8,1191.2 354.1,1189.9 354.4,1191 354.7,1188.2 355,1183 355.3,1188.7 355.6,1189.8 355.9,1183.4 356.2,1185.9 356.5,1185.6 356.8,1184 357.1,1182.5 357.4,1180 357.7,1181.1 358,1181.2 358.3,1183.4 358.6,1180.3 358.9,1178 359.2,1179.8 359.5,1185.4 359.8,1191.6 360.1,1188.8 360.4,1186.2 360.7,1188.5 361,1190.8 361.3,1192.5 361.6,1192.8 361.9,1191.7 362.2,1189.2 362.5,1186.7 362.8,1186.7 363.1,1189.8 363.4,1191.2 363.7,1187.8 364,1188.3 364.3,1191 364.6,1186.5 364.9,1187.1 365.2,1186.1 365.5,1181.9 365.8,1185.4 366.1,1189.2 366.4,1190.9 366.7,1189.3 367,1186 367.3,1186.2 367.6,1189.3 367.9,1190.1 368.2,1191.3 368.5,1193.8 368.8,1193.5" stroke="#0a0a0a" stroke-width="2.0" stroke-linejoin="round"/>
<polyline points="457.2,970.9 457.5,967.3 457.8,966.2 458.1,971.5 458.4,972.9 458.7,969.7 459,971.8 459.3,974 459.6,971.9 459.9,973.3 460.2,979.1 460.5,981.6 460.8,975.4 461.1,974.9 461.4,980.3 461.7,978.4 462,981.6 462.3,985.1 462.6,979.9 462.9,979.8 463.2,985.3 463.5,985.3 463.8,982 464.1,977.7 464.4,973.3 464.7,971.4 465,976 465.3,980.3 465.6,980.3 465.9,981.7 466.2,989.9 466.5,988.6 466.8,979.7 467.1,980.3 467.4,979.9 467.7,981.9 468,986 468.3,989 468.6,986.2 468.9,978.9 469.2,979.5 469.5,980.6 469.8,980.3 470.1,981.6 470.4,980.4 470.7,980.7 471,981.5 471.3,980.4 471.6,982.6 471.9,987 472.2,987.6 472.5,984.6 472.8,979.7 473.1,979.1 473.4,981.7 473.7,983.7 474,986.4 474.3,985.4 474.6,984.3 474.9,982.2 475.2,979.4 475.5,982.1 475.8,982.1 476.1,980 476.4,979.1 476.7,981.2 477,987.9 477.3,983.6 477.6,980.8 477.9,981.8 478.2,982.9 478.5,983.5 478.8,984 479.1,986.3 479.4,983.3 479.7,982.8 480,983.4 480.3,983.7 480.6,984.6 480.9,986.6 481.2,987.6 481.5,985.5 481.8,981.4 482.1,983.2 482.4,983.1 482.7,978.3 483,977.9 483.3,977.6 483.6,976 483.9,972.6 484.2,973.6 484.5,976.8 484.8,974.2 485.1,973.4 485.4,982.1 485.7,984.5 486,982.6 486.3,981.3 486.6,982.7 486.9,982.9 487.2,982.8 487.5,984.7 487.8,985.1 488.1,989.6 488.4,987.3 488.7,987.5 489,991.3 489.3,985.5 489.6,977.2 489.9,978.9 490.2,985.1 490.5,985.5 490.8,982.7 491.1,982.2 491.4,985.4 491.7,986.9 492,987 492.3,986.2 492.6,989 492.9,992.6 493.2,987 493.5,984.8 493.8,986.1 494.1,985.1 494.4,981.8 494.7,981.5 495,984.1 495.3,983.5 495.6,979 495.9,978.8 496.2,985.6 496.5,988.3 496.8,983.6 497.1,982.8 497.4,986.3 497.7,985.7 498,984.9 498.3,982.7 498.6,982.9 498.9,982.8 499.2,987.2 499.5,986.1 499.8,982.9 500.1,985.8 500.4,980.3 500.7,978.1 501,983.8 501.3,988.6 501.6,987.7 501.9,982.1 502.2,981.4 502.5,985.7 502.8,987.3 503.1,984.6 503.4,983.6 503.7,983.2 504,985.5 504.3,992.4 504.6,990.6 504.9,985.2 505.2,984.6 505.5,985.3 505.8,987.2 506.1,990.1 506.4,988.1 506.7,986 507,985.3 507.3,986.9 507.6,989.7 507.9,987.9 508.2,986.4 508.5,984.4 508.8,983.4 509.1,985.7 509.4,984.5 509.7,985.4 510,985.6 510.3,982 510.6,984.1 510.9,984 511.2,983.2 511.5,985.3 511.8,990.2 512.1,990.3 512.4,987.1 512.7,988.4 513,983.5 513.3,978.4 513.6,981.1 513.9,986.3 514.2,988.3 514.5,983.6 514.8,982.2 515.1,984.3 515.4,987.9 515.7,985.2 516,980.5 516.3,980.6 516.6,981.5 516.9,982.8 517.2,983.1 517.5,984.9 517.8,987.3 518.1,984.6 518.4,987.5 518.7,993.9 519,989.3 519.3,986.8 519.6,989.6 519.9,992.1 520.2,986.2 520.5,981.8 520.8,983 521.1,983.2 521.4,983.6 521.7,983.6 522,986.1 522.3,988.2 522.6,986.2 522.9,984.3 523.2,983.3 523.5,984.5 523.8,983.6 524.1,986.2 524.4,990.6 524.7,986.8 525,982.9 525.3,981.9 525.6,981.1 525.9,983.9 526.2,986.2 526.5,984 526.8,984.6 527.1,987.5 527.4,987.7 527.7,987.8 528,987.4 528.3,987.4 528.6,989.1 528.9,987.9 529.2,985.7 529.5,982.7 529.8,981.7 530.1,984.5 530.4,985.9 530.7,984.7 531,985.7 531.3,988.9 531.6,991.4 531.9,990.2 532.2,986.4 532.5,983.7 532.8,982.2 533.1,982.7 533.4,982 533.7,984.1 534,987.8 534.3,984.4 534.6,984 534.9,984.4 535.2,984.6 535.5,979.7 535.8,968.3 536.1,968.7 536.4,965.9 536.7,964 537,966.5 537.3,962.5 537.6,964.3 537.9,972.3 538.2,973.2 538.5,977.1 538.8,981.2 539.1,977.3 539.4,981.2 539.7,985.1 540,981.8 540.3,988 540.6,992.3 540.9,981.3 541.2,983.1 541.5,989.9 541.8,986.7 542.1,985.9 542.4,988.2 542.7,989.9 543,988.4 543.3,985.4 543.6,984.8 543.9,983.9 544.2,987.3 544.5,993 544.8,989.6 545.1,981.5 545.4,979.9 545.7,983.8 546,984 546.3,981.1 546.6,984.1 546.9,987.3 547.2,991.4 547.5,989.7 547.8,977.5 548.1,975.2 548.4,983.9 548.7,985 549,983.9 549.3,986.6 549.6,988.9 549.9,993.7 550.2,991.5 550.5,987.2 550.8,991.1 551.1,992 551.4,985 551.7,984.2 552,987.5 552.3,985.3 552.6,985.6 552.9,992.5 553.2,995.3 553.5,992.5 553.8,986.4 554.1,983.1 554.4,985.5 554.7,984.2 555,982.2 555.3,985.9 555.6,986.8 555.9,981.1 556.2,980.7 556.5,982.9 556.8,984.4 557.1,986.3 557.4,984.1 557.7,983.9 558,986.1 558.3,989.4 558.6,990.7 558.9,989.1 559.2,984.6 559.5,984.7 559.8,987 560.1,989.4 560.4,993.5 560.7,987.2 561,984.3 561.3,988.7 561.6,987.2 561.9,986 562.2,987.5 562.5,987.2 562.8,988.2 563.1,987.8 563.4,987.4 563.7,988.5 564,992.6 564.3,992.1 564.6,985.6 564.9,983.2 565.2,984.3 565.5,986.4 565.8,987.6 566.1,987.3 566.4,987.2 566.7,988.7 567,986.4 567.3,985.4 567.6,988 567.9,990.3 568.2,991.1 568.5,988.1 568.8,988.3 569.1,989 569.4,985.4 569.7,989.3 570,991.9 570.3,988.5 570.6,987.6 570.9,988.7 571.2,991.2 571.5,990.1 571.8,989.7 572.1,985 572.4,984.9 572.7,988.6 573,986.2 573.3,991.3 573.6,989 573.9,984.3 574.2,988.4 574.5,988.4 574.8,987.8 575.1,987 575.4,985.4 575.7,989.1 576,992.1 576.3,988.7 576.6,986.3 576.9,988.9 577.2,990.1 577.5,988.8 577.8,989.8 578.1,989.5 578.4,991.3 578.7,990.3 579,987.4 579.3,989.5 579.6,990.3 579.9,990.8 580.2,990.6 580.5,988.3 580.8,987 581.1,991.9 581.4,989.7 581.7,984.8 582,988 582.3,987.1 582.6,991.9 582.9,992.4 583.2,986.7 583.5,988.1 583.8,985.9 584.1,984.1 584.4,984.9 584.7,984.6 585,987.9 585.3,991.5 585.6,988.8 585.9,987.1 586.2,991.2 586.5,990.8 586.8,990.6 587.1,993 587.4,991.2 587.7,988.3 588,986.9 588.3,987.1 588.6,984.3 588.9,985.8 589.2,986.8 589.5,985.3 589.8,986.3 590.1,990.7 590.4,986.2 590.7,982.2 591,986.4 591.3,986.7 591.6,992.1 591.9,994.2 592.2,985.6 592.5,987.1 592.8,992.7 593.1,989.6 593.4,989.5 593.7,988.2 594,987.2 594.3,986.3 594.6,987.6 594.9,988.8 595.2,985.7 595.5,985.4 595.8,980.7 596.1,986.7 596.4,997.1 596.7,990.1 597,988.3 597.3,986.2 597.6,982.3 597.9,987 598.2,990.8 598.5,991.1 598.8,989.3 599.1,989.5 599.4,990.8 599.7,986.2 600,985 600.3,989.1 600.6,986.2 600.9,985.9 601.2,989.5 601.5,988.6 601.8,986.1 602.1,985.2 602.4,988.4 602.7,989.8 603,988.1 603.3,988.1 603.6,993.2 603.9,992.5 604.2,986.6 604.5,984.6 604.8,984 605.1,986.7 605.4,992.3 605.7,992.5 606,991.6 606.3,991.1 606.6,991.2 606.9,992.6 607.2,988.4 607.5,986.3 607.8,986.4 608.1,989.3 608.4,990.9 608.7,986.3 609,982.2 609.3,988 609.6,990.7 609.9,985.2 610.2,988 610.5,987.4 610.8,989.1 611.1,987.7 611.4,983.6 611.7,987.9 612,988.2 612.3,989.9 612.6,992.2 612.9,987.8 613.2,987.6 613.5,990.6 613.8,987.6 614.1,993.3 614.4,996 614.7,989.8 615,991.6 615.3,993.5 615.6,993.3 615.9,992.7 616.2,988.9 616.5,988.2 616.8,990 617.1,992 617.4,990.9 617.7,986.9 618,984.9 618.3,982.9 618.6,983.8 618.9,985.8 619.2,986.1 619.5,985.9 619.8,986.7 620.1,988.7 620.4,989.2 620.7,990.2 621,990.9 621.3,994.3 621.6,991.2 621.9,986 622.2,990.5 622.5,994.3 622.8,993.9 623.1,990.6 623.4,987.5 623.7,983.9 624,985.6 624.3,988.3 624.6,988.3 624.9,991 625.2,991.9 625.5,990.3 625.8,989.6 626.1,990.3 626.4,989 626.7,988.8 627,992.1 627.3,991.5 627.6,993 627.9,991.1 628.2,984.1 628.5,984.6 628.8,988.2 629.1,990.5 629.4,991.3 629.7,991.3 630,991.1 630.3,991.2 630.6,990.2 630.9,989.1 631.2,989.1 631.5,985.9 631.8,982 632.1,986.4 632.4,990.9 632.7,993 633,989 633.3,988.8 633.6,995.7 633.9,998.3 634.2,999 634.5,996.4 634.8,994.4 635.1,991.8 635.4,988.3 635.7,988.4 636,993.7 636.3,991.4 636.6,992.1 636.9,994.3 637.2,985.9 637.5,985.7 637.8,990.8 638.1,990.3 638.4,992.2 638.7,995.6 639,996.3 639.3,997.4 639.6,993.9 639.9,991.6 640.2,991.9 640.5,989.8 640.8,987.1 641.1,985.3 641.4,984.8 641.7,989.7 642,996.1 642.3,996.9 642.6,994 642.9,992.1 643.2,993.1 643.5,991.7 643.8,993.8 644.1,992.9 644.4,990.1 644.7,991.7 645,988.9 645.3,988.7 645.6,991.6 645.9,985.9 646.2,988.6 646.5,993.7 646.8,990.3 647.1,989.4 647.4,989.7 647.7,987.6 648,989.2 648.3,992.5 648.6,989.7 648.9,987.8 649.2,988.1 649.5,989.8 649.8,988.1 650.1,986.3 650.4,992.5 650.7,993.2 651,987.7 651.3,982.5 651.6,985.2 651.9,989.8 652.2,987.4 652.5,990.7 652.8,992.5 653.1,992.4 653.4,991.4 653.7,988 654,990.2 654.3,992.1 654.6,991.1 654.9,989.2 655.2,990 655.5,990.1 655.8,987.1 656.1,990.5 656.4,989.3 656.7,990 657,994.1 657.3,989.2 657.6,988.9 657.9,993 658.2,991.8 658.5,990.3 658.8,991.2 659.1,989.4 659.4,988 659.7,991.6 660,991.5 660.3,988.6 660.6,989.6 660.9,983.7 661.2,989 661.5,992.3 661.8,986.9 662.1,988.4 662.4,993.1 662.7,992.9 663,989.2 663.3,991.7 663.6,990.9 663.9,989.6 664.2,985.7 664.5,986.3 664.8,988.6 665.1,989.2 665.4,988.6 665.7,985.7 666,986.4 666.3,992 666.6,997.8 666.9,991.2 667.2,989.3 667.5,992 667.8,988.9 668.1,987 668.4,983.2 668.7,986.7 669,990.6 669.3,988.4 669.6,988.2 669.9,986.3 670.2,987.4 670.5,992.4 670.8,995.3 671.1,992.7 671.4,990.2 671.7,991.6 672,988.7 672.3,991.3 672.6,994.3 672.9,991.8 673.2,989.4 673.5,988.4 673.8,990.1 674.1,991.6 674.4,991.3 674.7,990 675,991.9 675.3,992.5 675.6,990.2 675.9,990.4 676.2,990.9 676.5,989.4 676.8,990.2 677.1,992.8 677.4,989.4 677.7,991.5 678,989.8 678.3,985.5 678.6,990.2 678.9,990.9 679.2,992.4 679.5,992.6 679.8,991.6 680.1,990.2 680.4,989.4 680.7,991.8 681,990 681.3,990.3 681.6,993 681.9,988.2 682.2,987.8 682.5,989.3 682.8,993.9 683.1,999.1 683.4,995.5 683.7,992.2 684,993.5 684.3,993.5 684.6,987.9 684.9,989.3 685.2,989.5 685.5,985.3 685.8,985.9 686.1,988.5 686.4,992.2 686.7,990.4 687,988.8 687.3,990.6 687.6,989.7 687.9,990 688.2,987 688.5,986.1 688.8,991.4 689.1,994.2 689.4,993.1 689.7,994 690,989.9 690.3,985.8 690.6,990.1 690.9,993.9 691.2,994.9 691.5,992 691.8,987.7 692.1,989.5 692.4,993.5 692.7,993.2 693,993.1 693.3,994.8 693.6,992.1 693.9,987.8 694.2,991 694.5,989.8 694.8,989.6 695.1,993.7 695.4,994.4 695.7,991.9 696,989.6 696.3,992.1 696.6,994.3 696.9,991 697.2,984.6 697.5,984.7 697.8,990.4 698.1,994.7 698.4,991.9 698.7,991.4 699,994 699.3,989.4 699.6,985.1 699.9,987.1 700.2,988.4 700.5,992.1 700.8,998.8 701.1,992.1 701.4,989.9 701.7,993.5 702,990.5 702.3,993.8 702.6,995.9 702.9,995.1 703.2,991.7 703.5,990.7 703.8,990.7 704.1,988.6 704.4,989.1 704.7,988.8 705,994.5 705.3,996.2 705.6,994.4 705.9,995 706.2,987.9 706.5,987.1 706.8,993.7 707.1,991 707.4,989.6 707.7,994.3 708,995.8 708.3,993.3 708.6,993.8 708.9,996.7 709.2,991.8 709.5,992.2 709.8,992.2 710.1,990.3 710.4,990.9 710.7,987.4 711,988.1 711.3,993.8 711.6,993.9 711.9,988.4 712.2,984.7 712.5,990.4 712.8,996 713.1,989.6 713.4,991.6 713.7,995.9 714,995.9 714.3,994.5 714.6,990.2 714.9,990.6 715.2,989 715.5,990.9 715.8,993.8 716.1,992.9 716.4,994.4 716.7,991.5 717,989 717.3,990.8 717.6,994.3 717.9,993.9 718.2,991.9 718.5,991.9 718.8,988 719.1,986.2 719.4,983.8 719.7,987 720,993.9 720.3,992.3 720.6,992.7 720.9,992.9 721.2,990.5 721.5,990.4 721.8,993.4 722.1,991.8 722.4,988.8 722.7,990.5 723,992.9 723.3,988.7 723.6,986.4 723.9,989.4 724.2,987.6 724.5,989.3 724.8,994.4 725.1,992.9 725.4,992 725.7,994.6 726,995.5 726.3,996.7 726.6,994.6 726.9,993.1 727.2,993.2 727.5,993.1 727.8,990.8 728.1,990.5 728.4,994.1 728.7,992.1 729,987.8 729.3,992.9 729.6,995.1 729.9,991.5 730.2,991.3 730.5,991.7 730.8,989.6 731.1,988.4 731.4,990.9 731.7,989.5 732,984.5 732.3,983.5 732.6,988.1 732.9,991.8 733.2,991.3 733.5,991.5 733.8,986.5 734.1,986.4 734.4,990.4 734.7,988.7 735,990.7 735.3,990.3 735.6,990 735.9,990.7 736.2,987.6 736.5,988 736.8,990.3 737.1,988.2 737.4,986.8 737.7,986.1 738,986.8 738.3,988 738.6,988.5 738.9,988 739.2,987.8 739.5,990.5 739.8,992.3 740.1,991.9 740.4,993 740.7,992.6 741,987.8 741.3,988.7 741.6,994.1 741.9,994 742.2,991.2 742.5,992.3 742.8,991.3 743.1,986.4 743.4,988.3 743.7,992 744,992.5 744.3,992.9 744.6,996.3 744.9,998.2 745.2,992.7 745.5,992.3 745.8,990.3 746.1,986.1 746.4,985.7 746.7,984.8 747,981.2 747.3,980.3 747.6,975.6 747.9,970.5 748.2,978.4 748.5,976.1 748.8,970.2 749.1,975 749.4,978.7 749.7,986.1 750,990.7 750.3,988.8 750.6,988.7 750.9,989.9 751.2,992.5 751.5,992.4 751.8,988.5 752.1,986.2 752.4,991.8 752.7,995.4 753,990.5 753.3,990.1 753.6,989.8 753.9,991.8 754.2,991.6 754.5,986.6 754.8,987.3 755.1,987.5 755.4,990 755.7,989.2 756,988.7 756.3,991.1 756.6,987.5 756.9,987.1 757.2,987.9 757.5,988.9 757.8,993.5 758.1,997.2 758.4,993.2 758.7,989.7" stroke="#1212cc" stroke-width="2.0" stroke-linejoin="round"/>
<polyline points="457.2,1081.2 457.5,1076.6 457.8,1077.1 458.1,1078 458.4,1076.9 458.7,1084.3 459,1082.1 459.3,1080.2 459.6,1083.1 459.9,1078 460.2,1078.9 460.5,1082.9 460.8,1082 461.1,1083.5 461.4,1086.8 461.7,1087.1 462,1088.8 462.3,1085.7 462.6,1083.5 462.9,1086.5 463.2,1085 463.5,1084.8 463.8,1085.6 464.1,1079.9 464.4,1077.5 464.7,1079.3 465,1082 465.3,1085.3 465.6,1085.1 465.9,1084.8 466.2,1086.9 466.5,1089.7 466.8,1084.3 467.1,1080.5 467.4,1079.2 467.7,1079.6 468,1081.3 468.3,1083.2 468.6,1082.7 468.9,1082.5 469.2,1085.4 469.5,1084.5 469.8,1083.9 470.1,1084.7 470.4,1085.4 470.7,1086.7 471,1087.4 471.3,1086 471.6,1083.1 471.9,1081.6 472.2,1086 472.5,1090 472.8,1090.1 473.1,1086.5 473.4,1081.3 473.7,1080.9 474,1083 474.3,1085.9 474.6,1086.3 474.9,1088.3 475.2,1088.1 475.5,1088.6 475.8,1086.1 476.1,1083.8 476.4,1088.9 476.7,1087.9 477,1086.4 477.3,1087.2 477.6,1085.1 477.9,1084.7 478.2,1084.6 478.5,1084 478.8,1081.1 479.1,1080.2 479.4,1088.2 479.7,1088.5 480,1085.1 480.3,1083.6 480.6,1084.2 480.9,1086.4 481.2,1084.7 481.5,1084.2 481.8,1086.2 482.1,1085.2 482.4,1084.8 482.7,1087.7 483,1088.6 483.3,1087.4 483.6,1082.5 483.9,1083.4 484.2,1083.3 484.5,1084.2 484.8,1086.2 485.1,1083 485.4,1087.4 485.7,1090.5 486,1092.2 486.3,1090.2 486.6,1083 486.9,1084.2 487.2,1088.5 487.5,1087.5 487.8,1087.9 488.1,1087.6 488.4,1086.1 488.7,1089.9 489,1088.9 489.3,1087.4 489.6,1088.9 489.9,1088 490.2,1089.1 490.5,1087.6 490.8,1088.3 491.1,1089.7 491.4,1083 491.7,1082.4 492,1085.9 492.3,1088.8 492.6,1089.9 492.9,1088.6 493.2,1085.3 493.5,1085.8 493.8,1093.4 494.1,1092.7 494.4,1087.1 494.7,1084.9 495,1084.5 495.3,1084.8 495.6,1083.5 495.9,1086.9 496.2,1090 496.5,1088.3 496.8,1087.6 497.1,1085.3 497.4,1087.1 497.7,1086.8 498,1083.7 498.3,1087.3 498.6,1088.3 498.9,1087.6 499.2,1087.3 499.5,1087.3 499.8,1089.4 500.1,1087.4 500.4,1085.4 500.7,1085.4 501,1088.8 501.3,1092.1 501.6,1091.9 501.9,1091.8 502.2,1090.6 502.5,1086.9 502.8,1085.3 503.1,1085.3 503.4,1085.3 503.7,1084.1 504,1089.8 504.3,1095.8 504.6,1091.4 504.9,1087.6 505.2,1085.6 505.5,1086 505.8,1087 506.1,1088.6 506.4,1091.9 506.7,1091.5 507,1086.2 507.3,1085.8 507.6,1091 507.9,1091.9 508.2,1091.9 508.5,1090.2 508.8,1086.5 509.1,1081.7 509.4,1083.8 509.7,1088.4 510,1086.2 510.3,1086.7 510.6,1087.5 510.9,1083.7 511.2,1086.3 511.5,1088.5 511.8,1086.5 512.1,1092.3 512.4,1091 512.7,1084.7 513,1086 513.3,1087.9 513.6,1090 513.9,1090.7 514.2,1087.7 514.5,1088.2 514.8,1086 515.1,1084.9 515.4,1092 515.7,1092.5 516,1086.5 516.3,1086.5 516.6,1090.6 516.9,1091 517.2,1091.7 517.5,1096.7 517.8,1097.4 518.1,1094.5 518.4,1090.2 518.7,1089.5 519,1092.4 519.3,1093.6 519.6,1089 519.9,1084.7 520.2,1086.4 520.5,1088.7 520.8,1092.2 521.1,1091.3 521.4,1086.9 521.7,1084.6 522,1086.2 522.3,1089.8 522.6,1091.4 522.9,1092.6 523.2,1087.3 523.5,1084.4 523.8,1089.5 524.1,1090.8 524.4,1089.6 524.7,1086 525,1087.2 525.3,1090.1 525.6,1087.1 525.9,1086.8 526.2,1085.8 526.5,1088.2 526.8,1090 527.1,1085.6 527.4,1088.7 527.7,1088.6 528,1088.2 528.3,1085 528.6,1085.9 528.9,1092.7 529.2,1092.2 529.5,1091.9 529.8,1088.6 530.1,1089.3 530.4,1091 530.7,1086.8 531,1087.7 531.3,1090.8 531.6,1088 531.9,1086.9 532.2,1087.6 532.5,1090.9 532.8,1094 533.1,1087.8 533.4,1089.4 533.7,1088.7 534,1085.2 534.3,1085.3 534.6,1081.9 534.9,1084.8 535.2,1087.3 535.5,1083.7 535.8,1084 536.1,1084 536.4,1080.6 536.7,1078.1 537,1076.1 537.3,1081 537.6,1083.2 537.9,1079.7 538.2,1083.9 538.5,1087.4 538.8,1083.8 539.1,1085.7 539.4,1087.2 539.7,1088.2 540,1089.8 540.3,1088.4 540.6,1085.9 540.9,1088.7 541.2,1089.8 541.5,1086.1 541.8,1081.6 542.1,1082.4 542.4,1087.2 542.7,1088.4 543,1085.5 543.3,1083.8 543.6,1086.9 543.9,1090.4 544.2,1088.7 544.5,1084.9 544.8,1088.8 545.1,1090.1 545.4,1089 545.7,1087.4 546,1085.2 546.3,1093.3 546.6,1096.9 546.9,1088.6 547.2,1091.2 547.5,1092 547.8,1086.6 548.1,1088.1 548.4,1090.9 548.7,1090.9 549,1090.6 549.3,1092.7 549.6,1092.1 549.9,1089.7 550.2,1090 550.5,1094.7 550.8,1092.2 551.1,1087.4 551.4,1089.1 551.7,1090 552,1089.5 552.3,1093.2 552.6,1092 552.9,1091 553.2,1092.9 553.5,1090.2 553.8,1090.9 554.1,1091.8 554.4,1089.6 554.7,1087 555,1090.4 555.3,1095 555.6,1095.7 555.9,1093.1 556.2,1088.1 556.5,1083.2 556.8,1088 557.1,1091.7 557.4,1086.9 557.7,1086.3 558,1084.9 558.3,1084 558.6,1087.9 558.9,1088.2 559.2,1088.3 559.5,1091.5 559.8,1091 560.1,1090.3 560.4,1088.6 560.7,1089.5 561,1091.5 561.3,1090.4 561.6,1092.4 561.9,1090.6 562.2,1091 562.5,1092 562.8,1087.3 563.1,1088.9 563.4,1090.4 563.7,1088.1 564,1086.8 564.3,1086.5 564.6,1086 564.9,1090.5 565.2,1088.2 565.5,1081.3 565.8,1083.9 566.1,1090.4 566.4,1090.2 566.7,1086.5 567,1089.6 567.3,1092.6 567.6,1091.5 567.9,1089.7 568.2,1092.1 568.5,1089.3 568.8,1085.4 569.1,1088.2 569.4,1089.1 569.7,1086.9 570,1089 570.3,1094.2 570.6,1095.3 570.9,1092.7 571.2,1087.4 571.5,1086.7 571.8,1090.5 572.1,1094 572.4,1093.1 572.7,1089.5 573,1090.2 573.3,1092.6 573.6,1091.3 573.9,1088.8 574.2,1087.8 574.5,1088.1 574.8,1090 575.1,1090.6 575.4,1090.4 575.7,1089.7 576,1089.3 576.3,1088.8 576.6,1090.6 576.9,1091.6 577.2,1092.7 577.5,1092.8 577.8,1091.2 578.1,1093.9 578.4,1092.7 578.7,1085.3 579,1086.4 579.3,1094.1 579.6,1094.3 579.9,1088.6 580.2,1088.1 580.5,1091.6 580.8,1088.6 581.1,1085.2 581.4,1088.7 581.7,1088.7 582,1090.6 582.3,1091.4 582.6,1086.2 582.9,1086.3 583.2,1084.7 583.5,1086.4 583.8,1089.1 584.1,1089.7 584.4,1091.7 584.7,1088.2 585,1084.9 585.3,1089.9 585.6,1094.2 585.9,1090.1 586.2,1086.6 586.5,1085.1 586.8,1086.3 587.1,1086.6 587.4,1090.1 587.7,1094.3 588,1093.4 588.3,1092.7 588.6,1090.9 588.9,1091.9 589.2,1091.5 589.5,1088.6 589.8,1089.6 590.1,1092.7 590.4,1089.7 590.7,1084.4 591,1082.4 591.3,1085.8 591.6,1091 591.9,1091.4 592.2,1088.2 592.5,1089.6 592.8,1089.1 593.1,1087.7 593.4,1090 593.7,1090.4 594,1094.6 594.3,1096.4 594.6,1092.1 594.9,1093.1 595.2,1091.3 595.5,1089.8 595.8,1094.2 596.1,1091.8 596.4,1090.2 596.7,1090.3 597,1089.3 597.3,1091.1 597.6,1093.7 597.9,1092.5 598.2,1092.7 598.5,1090.3 598.8,1086.3 599.1,1089.3 599.4,1091.8 599.7,1091.6 600,1094.9 600.3,1095.1 600.6,1090.2 600.9,1083.7 601.2,1084.6 601.5,1095.6 601.8,1089.4 602.1,1084.7 602.4,1091.8 602.7,1092.9 603,1091.7 603.3,1090.9 603.6,1096.2 603.9,1096.9 604.2,1092.1 604.5,1087.6 604.8,1088.4 605.1,1092.3 605.4,1089.3 605.7,1088.8 606,1088.3 606.3,1087.1 606.6,1094.9 606.9,1100.8 607.2,1097.2 607.5,1092.9 607.8,1096.3 608.1,1096 608.4,1092 608.7,1095.3 609,1095.3 609.3,1093.9 609.6,1098 609.9,1096.5 610.2,1095.7 610.5,1095 610.8,1092.5 611.1,1095.7 611.4,1093.6 611.7,1088.3 612,1091.2 612.3,1096.2 612.6,1092 612.9,1084.2 613.2,1086 613.5,1090.4 613.8,1087.5 614.1,1091.9 614.4,1091.9 614.7,1088.2 615,1089.4 615.3,1086.5 615.6,1087.1 615.9,1096 616.2,1098 616.5,1089.8 616.8,1089.9 617.1,1090.4 617.4,1090.9 617.7,1091.4 618,1093.4 618.3,1096.5 618.6,1088.9 618.9,1089.7 619.2,1093.2 619.5,1087.4 619.8,1083.5 620.1,1086.4 620.4,1091.7 620.7,1093 621,1091.3 621.3,1090.1 621.6,1089.8 621.9,1091.5 622.2,1088.6 622.5,1087.4 622.8,1093.1 623.1,1091.6 623.4,1087.4 623.7,1087.9 624,1092.1 624.3,1093.1 624.6,1089.6 624.9,1090 625.2,1090 625.5,1089 625.8,1088.2 626.1,1088.7 626.4,1089.8 626.7,1090.3 627,1089.2 627.3,1092.2 627.6,1093.3 627.9,1088.7 628.2,1094.2 628.5,1094.9 628.8,1094.5 629.1,1093.6 629.4,1093.3 629.7,1087.9 630,1079.5 630.3,1089.1 630.6,1094.5 630.9,1091.8 631.2,1091 631.5,1087.8 631.8,1091.4 632.1,1092.1 632.4,1087.1 632.7,1090.7 633,1088.7 633.3,1085.4 633.6,1088.5 633.9,1092.9 634.2,1092.3 634.5,1086 634.8,1085.3 635.1,1086.6 635.4,1086.9 635.7,1089.9 636,1092.1 636.3,1091.9 636.6,1093.5 636.9,1096.4 637.2,1094.5 637.5,1089.2 637.8,1089.2 638.1,1092.7 638.4,1092.3 638.7,1088.3 639,1093.7 639.3,1096.6 639.6,1092.3 639.9,1091.6 640.2,1088.4 640.5,1088.2 640.8,1091.3 641.1,1091.2 641.4,1091.5 641.7,1089.1 642,1088.9 642.3,1091.8 642.6,1088.9 642.9,1090.8 643.2,1094.6 643.5,1093.4 643.8,1088.8 644.1,1083.5 644.4,1083.3 644.7,1091.2 645,1091.9 645.3,1090.8 645.6,1094.3 645.9,1094 646.2,1090.4 646.5,1090.4 646.8,1097.9 647.1,1091.8 647.4,1084.9 647.7,1091.7 648,1091.8 648.3,1085.8 648.6,1087.4 648.9,1089.4 649.2,1089.5 649.5,1086.1 649.8,1086.4 650.1,1092.3 650.4,1094.5 650.7,1094.6 651,1089.2 651.3,1088 651.6,1090.2 651.9,1091.8 652.2,1093 652.5,1090.3 652.8,1090.1 653.1,1090.5 653.4,1088.3 653.7,1086 654,1087.1 654.3,1091.7 654.6,1092.8 654.9,1093.2 655.2,1092.2 655.5,1089.2 655.8,1090 656.1,1091.6 656.4,1091.7 656.7,1090.5 657,1090.5 657.3,1095.1 657.6,1094.5 657.9,1087.8 658.2,1088.3 658.5,1086.3 658.8,1084.8 659.1,1090 659.4,1089.8 659.7,1091.8 660,1091.2 660.3,1090.2 660.6,1096.3 660.9,1089.5 661.2,1081.7 661.5,1087 661.8,1088 662.1,1085.4 662.4,1091.4 662.7,1096.5 663,1094.7 663.3,1093.8 663.6,1091.5 663.9,1092.5 664.2,1097.2 664.5,1098.7 664.8,1095.8 665.1,1092 665.4,1090.1 665.7,1083.6 666,1086.1 666.3,1092.3 666.6,1089.8 666.9,1091 667.2,1094 667.5,1089.6 667.8,1085 668.1,1088.8 668.4,1090.3 668.7,1092.1 669,1089.9 669.3,1092.3 669.6,1097 669.9,1090 670.2,1089.5 670.5,1092.2 670.8,1088.3 671.1,1089.7 671.4,1094.8 671.7,1092.6 672,1092.5 672.3,1092.2 672.6,1091 672.9,1091.5 673.2,1093.3 673.5,1092.6 673.8,1087.1 674.1,1084.8 674.4,1087.7 674.7,1091.3 675,1089.4 675.3,1091.1 675.6,1095.4 675.9,1092.5 676.2,1091.9 676.5,1092.5 676.8,1091.6 677.1,1089.8 677.4,1092.5 677.7,1093.8 678,1091.6 678.3,1094 678.6,1091.5 678.9,1092.6 679.2,1095 679.5,1087.7 679.8,1092.9 680.1,1102.4 680.4,1094.8 680.7,1090.2 681,1088.4 681.3,1089.2 681.6,1093.4 681.9,1093.2 682.2,1093.2 682.5,1091.4 682.8,1093.9 683.1,1096 683.4,1093.4 683.7,1093.3 684,1095.2 684.3,1090.3 684.6,1090.3 684.9,1093.5 685.2,1092 685.5,1094 685.8,1095.7 686.1,1093.6 686.4,1094.8 686.7,1096.5 687,1092.8 687.3,1092.4 687.6,1090.8 687.9,1091.8 688.2,1092.8 688.5,1095.2 688.8,1093.7 689.1,1089.9 689.4,1090.5 689.7,1088.4 690,1087.1 690.3,1088.6 690.6,1093.3 690.9,1096.5 691.2,1092.1 691.5,1091.5 691.8,1095.6 692.1,1093.7 692.4,1095.9 692.7,1095.2 693,1090.4 693.3,1090.3 693.6,1092.9 693.9,1090 694.2,1088 694.5,1091.6 694.8,1091.9 695.1,1094 695.4,1091.6 695.7,1090.6 696,1091.6 696.3,1089.9 696.6,1093.4 696.9,1094.3 697.2,1093.4 697.5,1092.8 697.8,1091.8 698.1,1090.5 698.4,1090.5 698.7,1094.3 699,1089.8 699.3,1087.6 699.6,1091.7 699.9,1095.8 700.2,1096.7 700.5,1089.8 700.8,1087.1 701.1,1090.8 701.4,1095 701.7,1096.3 702,1093.7 702.3,1092.1 702.6,1092.4 702.9,1090.4 703.2,1088.5 703.5,1088.6 703.8,1089.6 704.1,1092.2 704.4,1090.3 704.7,1090.3 705,1092.9 705.3,1090.6 705.6,1086.3 705.9,1086.5 706.2,1086.4 706.5,1087.5 706.8,1093.2 707.1,1092.6 707.4,1091.1 707.7,1093 708,1097.6 708.3,1097.8 708.6,1094.6 708.9,1091.1 709.2,1090.8 709.5,1094.5 709.8,1093.9 710.1,1090.6 710.4,1089.3 710.7,1086.5 711,1086.6 711.3,1090.5 711.6,1090.5 711.9,1089.2 712.2,1089.4 712.5,1091.9 712.8,1094.1 713.1,1092.6 713.4,1088.5 713.7,1091.1 714,1095.7 714.3,1091.7 714.6,1091.7 714.9,1091.1 715.2,1088.9 715.5,1089.3 715.8,1088.9 716.1,1088.4 716.4,1088.8 716.7,1092 717,1093.5 717.3,1093.6 717.6,1093.4 717.9,1093 718.2,1093.7 718.5,1095.8 718.8,1094.8 719.1,1092.7 719.4,1093.4 719.7,1091.3 720,1089.7 720.3,1093.3 720.6,1093.1 720.9,1093 721.2,1092.2 721.5,1093.5 721.8,1098.4 722.1,1095 722.4,1093.2 722.7,1090 723,1089.1 723.3,1092.2 723.6,1096.2 723.9,1097.3 724.2,1094.8 724.5,1096.5 724.8,1094.1 725.1,1093.2 725.4,1095.6 725.7,1096.1 726,1091.2 726.3,1089.9 726.6,1092.2 726.9,1091.6 727.2,1093.6 727.5,1094.7 727.8,1092.2 728.1,1090.2 728.4,1090.7 728.7,1090.9 729,1090.5 729.3,1092.6 729.6,1094.9 729.9,1095.2 730.2,1094 730.5,1090 730.8,1092.9 731.1,1100.3 731.4,1101.4 731.7,1098.4 732,1096.4 732.3,1094.1 732.6,1090.1 732.9,1089.4 733.2,1086.6 733.5,1087.7 733.8,1090 734.1,1092.6 734.4,1093 734.7,1096.3 735,1098 735.3,1094.3 735.6,1095.6 735.9,1093.2 736.2,1088.2 736.5,1086.2 736.8,1092.1 737.1,1095.8 737.4,1089.9 737.7,1085.8 738,1089.9 738.3,1089.3 738.6,1089.3 738.9,1095.7 739.2,1094.9 739.5,1091.5 739.8,1093.3 740.1,1088.2 740.4,1087 740.7,1091.6 741,1091.1 741.3,1091.5 741.6,1091.2 741.9,1088.9 742.2,1089.9 742.5,1090.8 742.8,1088.8 743.1,1088.8 743.4,1088.2 743.7,1089.8 744,1092.5 744.3,1093.1 744.6,1090.3 744.9,1086.8 745.2,1085.4 745.5,1086.5 745.8,1088.4 746.1,1085.5 746.4,1085.4 746.7,1088.9 747,1089.5 747.3,1091.3 747.6,1091.2 747.9,1087.6 748.2,1091.1 748.5,1090.8 748.8,1086.2 749.1,1086.9 749.4,1087.8 749.7,1089 750,1088.8 750.3,1084.6 750.6,1086.8 750.9,1089.6 751.2,1089.7 751.5,1092.6 751.8,1090.5 752.1,1086 752.4,1085.5 752.7,1083 753,1088.1 753.3,1092.7 753.6,1088.8 753.9,1092 754.2,1093.5 754.5,1091.8 754.8,1090.3 755.1,1089.6 755.4,1088.5 755.7,1089 756,1092.5 756.3,1093.2 756.6,1089.1 756.9,1087.2 757.2,1090.7 757.5,1096.2 757.8,1098.5 758.1,1089.2 758.4,1084.1 758.7,1086.3" stroke="#0a0a0a" stroke-width="2.0" stroke-linejoin="round"/>
<polyline points="457.2,1178.7 457.5,1180.4 457.8,1184.8 458.1,1186.8 458.4,1183.9 458.7,1181.4 459,1184.1 459.3,1182 459.6,1185.5 459.9,1190.1 460.2,1187 460.5,1184.9 460.8,1183.3 461.1,1182.1 461.4,1182.2 461.7,1182.1 462,1182.5 462.3,1183.4 462.6,1183.2 462.9,1178.2 463.2,1177.1 463.5,1185 463.8,1182.7 464.1,1177.9 464.4,1186.3 464.7,1188.3 465,1184.9 465.3,1186.2 465.6,1184.7 465.9,1182.1 466.2,1181.5 466.5,1180.3 466.8,1179.4 467.1,1184.4 467.4,1188.2 467.7,1183.9 468,1184 468.3,1185.1 468.6,1187.9 468.9,1188.7 469.2,1182.6 469.5,1179.5 469.8,1182.8 470.1,1188.5 470.4,1185.4 470.7,1184.3 471,1186.9 471.3,1182.8 471.6,1182.2 471.9,1190.5 472.2,1190.7 472.5,1187.2 472.8,1188.1 473.1,1181.7 473.4,1182.2 473.7,1184.2 474,1180.7 474.3,1184.5 474.6,1186.4 474.9,1186.2 475.2,1192.6 475.5,1188.3 475.8,1181.6 476.1,1183.9 476.4,1181.6 476.7,1182.4 477,1186.5 477.3,1184.3 477.6,1186.4 477.9,1192.2 478.2,1193.3 478.5,1190 478.8,1186.7 479.1,1185.8 479.4,1185.6 479.7,1186 480,1188.2 480.3,1192.3 480.6,1189.6 480.9,1184.7 481.2,1188.3 481.5,1188.2 481.8,1185.2 482.1,1184.3 482.4,1183.7 482.7,1186.5 483,1189.5 483.3,1188.1 483.6,1184 483.9,1182.5 484.2,1181 484.5,1184.9 484.8,1189.6 485.1,1186.8 485.4,1183.9 485.7,1189 486,1188.3 486.3,1186.7 486.6,1187.5 486.9,1183.8 487.2,1188 487.5,1190.4 487.8,1187.1 488.1,1186.9 488.4,1188 488.7,1185 489,1185.1 489.3,1189.8 489.6,1186.9 489.9,1187.8 490.2,1191 490.5,1186.1 490.8,1182.5 491.1,1183.6 491.4,1186.6 491.7,1184.1 492,1184.3 492.3,1189.3 492.6,1185.8 492.9,1181.7 493.2,1184.3 493.5,1185.4 493.8,1184.7 494.1,1183.7 494.4,1189.3 494.7,1191 495,1186.4 495.3,1187.4 495.6,1190.3 495.9,1187.5 496.2,1184.4 496.5,1186 496.8,1186.5 497.1,1187.6 497.4,1185 497.7,1186.8 498,1189.5 498.3,1185.7 498.6,1185.2 498.9,1183.4 499.2,1181.3 499.5,1186.9 499.8,1192 500.1,1188.5 500.4,1187.4 500.7,1190.8 501,1190 501.3,1188.5 501.6,1188.9 501.9,1190.1 502.2,1186.2 502.5,1185 502.8,1186.8 503.1,1186.5 503.4,1185.1 503.7,1186.5 504,1186.4 504.3,1183.8 504.6,1182.3 504.9,1182 505.2,1184.8 505.5,1181 505.8,1185.5 506.1,1188.9 506.4,1181.2 506.7,1184.1 507,1185.1 507.3,1189.2 507.6,1192.4 507.9,1188.7 508.2,1189.7 508.5,1186.7 508.8,1182.3 509.1,1183.7 509.4,1187.5 509.7,1182.7 510,1183.4 510.3,1184.6 510.6,1185.9 510.9,1191.1 511.2,1191.4 511.5,1190.1 511.8,1189.7 512.1,1190.9 512.4,1188.8 512.7,1187.3 513,1188.3 513.3,1190.5 513.6,1190 513.9,1190 514.2,1187.5 514.5,1186.4 514.8,1187.2 515.1,1187 515.4,1189.1 515.7,1189.3 516,1189.8 516.3,1191.7 516.6,1191.2 516.9,1187.3 517.2,1186.7 517.5,1186.7 517.8,1186 518.1,1187.1 518.4,1188 518.7,1187 519,1190.9 519.3,1190.8 519.6,1186.2 519.9,1186.8 520.2,1185.1 520.5,1181.1 520.8,1183.9 521.1,1191.1 521.4,1189.2 521.7,1187.7 522,1191.4 522.3,1189.1 522.6,1186.2 522.9,1187.7 523.2,1189.1 523.5,1187.8 523.8,1188.6 524.1,1190.5 524.4,1188.7 524.7,1185.5 525,1188.3 525.3,1192.6 525.6,1187.9 525.9,1182.6 526.2,1185.3 526.5,1189.2 526.8,1188.8 527.1,1190 527.4,1189.2 527.7,1184.6 528,1184.5 528.3,1191.6 528.6,1192.8 528.9,1193.6 529.2,1196.5 529.5,1192 529.8,1186.9 530.1,1188.3 530.4,1192.2 530.7,1189.9 531,1185.9 531.3,1184.3 531.6,1187.1 531.9,1193.6 532.2,1191 532.5,1184.8 532.8,1183.4 533.1,1185.1 533.4,1187.1 533.7,1185.9 534,1186.6 534.3,1190.7 534.6,1192.5 534.9,1189.2 535.2,1187.4 535.5,1190.5 535.8,1190 536.1,1189.7 536.4,1190.8 536.7,1189.8 537,1190 537.3,1191.3 537.6,1190.3 537.9,1185.6 538.2,1181.5 538.5,1181.3 538.8,1186 539.1,1188.4 539.4,1184.2 539.7,1182.7 540,1182.8 540.3,1179.5 540.6,1181.2 540.9,1182.1 541.2,1183.5 541.5,1186.4 541.8,1186.9 542.1,1188.1 542.4,1185.9 542.7,1183.7 543,1187.6 543.3,1194.4 543.6,1192.5 543.9,1189.3 544.2,1192.2 544.5,1191.6 544.8,1190.5 545.1,1189.4 545.4,1185.9 545.7,1187.2 546,1187.6 546.3,1185.7 546.6,1190.8 546.9,1190.7 547.2,1189.9 547.5,1190.1 547.8,1186.6 548.1,1188 548.4,1190.1 548.7,1188.3 549,1187.4 549.3,1189 549.6,1187.7 549.9,1190.8 550.2,1198.3 550.5,1195.6 550.8,1192.9 551.1,1192.6 551.4,1186.4 551.7,1188 552,1189.5 552.3,1188.4 552.6,1190.5 552.9,1187.5 553.2,1190.7 553.5,1194.1 553.8,1190.3 554.1,1188.2 554.4,1185.6 554.7,1187.3 555,1191.8 555.3,1190.4 555.6,1189.2 555.9,1191.3 556.2,1189.6 556.5,1187.1 556.8,1189.3 557.1,1187.8 557.4,1188.4 557.7,1195.5 558,1196.2 558.3,1192.8 558.6,1190.2 558.9,1189.6 559.2,1187.5 559.5,1189.3 559.8,1194 560.1,1193.4 560.4,1190.4 560.7,1187.7 561,1191.3 561.3,1191.4 561.6,1185.7 561.9,1187.5 562.2,1190.9 562.5,1191.6 562.8,1192 563.1,1194.9 563.4,1194.1 563.7,1189.9 564,1189.1 564.3,1190.8 564.6,1191.5 564.9,1192 565.2,1189.7 565.5,1189.8 565.8,1194.7 566.1,1194.5 566.4,1192 566.7,1190.7 567,1190.4 567.3,1189 567.6,1191.4 567.9,1196.3 568.2,1192.1 568.5,1189.6 568.8,1192.8 569.1,1192.5 569.4,1193.6 569.7,1195.6 570,1194.5 570.3,1193.6 570.6,1192.8 570.9,1191.8 571.2,1193.1 571.5,1192.9 571.8,1189.7 572.1,1187.9 572.4,1187.8 572.7,1188.7 573,1187.5 573.3,1190.3 573.6,1194.3 573.9,1191.7 574.2,1188.5 574.5,1191.4 574.8,1197.1 575.1,1195.6 575.4,1192.9 575.7,1190.3 576,1190.8 576.3,1194.2 576.6,1192.9 576.9,1187.8 577.2,1188.5 577.5,1188.7 577.8,1190.9 578.1,1193.2 578.4,1191.3 578.7,1196.3 579,1199.1 579.3,1195.6 579.6,1193.5 579.9,1191.2 580.2,1190.1 580.5,1192.6 580.8,1196.3 581.1,1195.6 581.4,1194.7 581.7,1194.6 582,1192.7 582.3,1192.6 582.6,1195.3 582.9,1197.6 583.2,1191.5 583.5,1189 583.8,1192.1 584.1,1195.3 584.4,1194.4 584.7,1193.4 585,1191.1 585.3,1188.2 585.6,1191.3 585.9,1194.3 586.2,1190.2 586.5,1188 586.8,1190.5 587.1,1189.4 587.4,1188.3 587.7,1187.8 588,1186.1 588.3,1188.4 588.6,1194.4 588.9,1193 589.2,1191.8 589.5,1197.6 589.8,1198.1 590.1,1194.3 590.4,1193.2 590.7,1195.3 591,1197.6 591.3,1192.9 591.6,1187.1 591.9,1190 592.2,1193.6 592.5,1196.7 592.8,1194.2 593.1,1191 593.4,1196.7 593.7,1195 594,1190.6 594.3,1192.1 594.6,1191.9 594.9,1187.7 595.2,1186.3 595.5,1186.2 595.8,1186.9 596.1,1190.4 596.4,1190.4 596.7,1191.2 597,1192.6 597.3,1192.3 597.6,1192.9 597.9,1189.9 598.2,1186.5 598.5,1187.9 598.8,1189.1 599.1,1190.8 599.4,1193.8 599.7,1196.5 600,1193.7 600.3,1187.1 600.6,1189.7 600.9,1192 601.2,1190.2 601.5,1193.8 601.8,1195.7 602.1,1192.2 602.4,1191 602.7,1188.2 603,1190.1 603.3,1193.9 603.6,1195.7 603.9,1194.8 604.2,1190 604.5,1189.2 604.8,1189.5 605.1,1194.5 605.4,1194 605.7,1191.9 606,1189.3 606.3,1189.7 606.6,1196.2 606.9,1194.6 607.2,1192.5 607.5,1194 607.8,1192.3 608.1,1190.3 608.4,1195.9 608.7,1195.3 609,1193.5 609.3,1197.3 609.6,1195.4 609.9,1192.9 610.2,1192.4 610.5,1191.2 610.8,1191.2 611.1,1192.6 611.4,1191 611.7,1189.4 612,1188.3 612.3,1187.4 612.6,1189.1 612.9,1193.7 613.2,1192.6 613.5,1190.4 613.8,1193 614.1,1192.6 614.4,1191 614.7,1194.3 615,1194.9 615.3,1193.5 615.6,1192.1 615.9,1190.6 616.2,1194.7 616.5,1193.5 616.8,1203.2 617.1,1201.2 617.4,1190.8 617.7,1193.1 618,1190.2 618.3,1188.5 618.6,1192.4 618.9,1195.4 619.2,1194.2 619.5,1193 619.8,1190.4 620.1,1190.3 620.4,1189.8 620.7,1189.9 621,1192.5 621.3,1196 621.6,1198.5 621.9,1192.2 622.2,1188 622.5,1195.8 622.8,1193.5 623.1,1193.1 623.4,1197.2 623.7,1194.2 624,1196.1 624.3,1196.6 624.6,1195.6 624.9,1194.5 625.2,1193.6 625.5,1196.7 625.8,1195.2 626.1,1192.7 626.4,1192.3 626.7,1192.7 627,1190.5 627.3,1188.8 627.6,1191.6 627.9,1191.1 628.2,1188.5 628.5,1189.4 628.8,1193.1 629.1,1194.9 629.4,1193.3 629.7,1191.4 630,1191.6 630.3,1192.4 630.6,1191.4 630.9,1193.1 631.2,1194 631.5,1194.3 631.8,1198.6 632.1,1193.3 632.4,1189.1 632.7,1193.3 633,1195.1 633.3,1193 633.6,1191.5 633.9,1192.6 634.2,1190.3 634.5,1191.9 634.8,1193.5 635.1,1192.9 635.4,1197.6 635.7,1197.7 636,1192.6 636.3,1189.7 636.6,1194.1 636.9,1197.9 637.2,1197.2 637.5,1198.4 637.8,1195.9 638.1,1193.4 638.4,1191.7 638.7,1190.4 639,1193.6 639.3,1191.7 639.6,1188.6 639.9,1191.2 640.2,1192.3 640.5,1191.5 640.8,1190.2 641.1,1190.7 641.4,1184.4 641.7,1187.1 642,1194.7 642.3,1192.7 642.6,1193 642.9,1194.6 643.2,1197.1 643.5,1194.6 643.8,1193.3 644.1,1193.2 644.4,1192.7 644.7,1193.9 645,1196.8 645.3,1198.2 645.6,1194.8 645.9,1193.3 646.2,1189.3 646.5,1188.4 646.8,1195.6 647.1,1194.3 647.4,1192 647.7,1195.2 648,1192 648.3,1194.7 648.6,1193.4 648.9,1185.7 649.2,1193.5 649.5,1198.7 649.8,1195.7 650.1,1194.3 650.4,1193.3 650.7,1192 651,1192.8 651.3,1191 651.6,1191.8 651.9,1197.9 652.2,1197.5 652.5,1194.4 652.8,1195.3 653.1,1194.6 653.4,1192.8 653.7,1196.1 654,1192.6 654.3,1188.5 654.6,1191.2 654.9,1191 655.2,1191.5 655.5,1191.2 655.8,1187.8 656.1,1189.9 656.4,1192.7 656.7,1194.1 657,1194.2 657.3,1191.2 657.6,1193.1 657.9,1195.1 658.2,1188.8 658.5,1190.1 658.8,1193.7 659.1,1192 659.4,1192.1 659.7,1191.8 660,1193.3 660.3,1186.7 660.6,1186.6 660.9,1193 661.2,1192.5 661.5,1192.6 661.8,1189.3 662.1,1190.6 662.4,1194.8 662.7,1194.9 663,1193 663.3,1193.3 663.6,1192.8 663.9,1190.5 664.2,1189.7 664.5,1190.3 664.8,1189.2 665.1,1188.2 665.4,1193.4 665.7,1195 666,1194.6 666.3,1191.7 666.6,1192.4 666.9,1192.1 667.2,1188.4 667.5,1189.8 667.8,1192.8 668.1,1194.2 668.4,1191.8 668.7,1191.4 669,1189.5 669.3,1188.7 669.6,1189.5 669.9,1188.5 670.2,1192.2 670.5,1192.2 670.8,1190 671.1,1193.8 671.4,1194.6 671.7,1193.5 672,1192 672.3,1194.3 672.6,1194.9 672.9,1187.1 673.2,1187.5 673.5,1191.3 673.8,1187.2 674.1,1185.3 674.4,1189.5 674.7,1192 675,1190.5 675.3,1190.5 675.6,1193.3 675.9,1194.5 676.2,1189.2 676.5,1188.1 676.8,1188.1 677.1,1186.6 677.4,1190.9 677.7,1192.7 678,1191.1 678.3,1187.6 678.6,1187.4 678.9,1190.9 679.2,1190.1 679.5,1192.9 679.8,1193.7 680.1,1188.2 680.4,1192.1 680.7,1193.1 681,1188.6 681.3,1191.3 681.6,1193.4 681.9,1192.7 682.2,1191.8 682.5,1192.8 682.8,1196.1 683.1,1199.4 683.4,1199.3 683.7,1195.2 684,1193.4 684.3,1193.1 684.6,1194.7 684.9,1198.4 685.2,1197.5 685.5,1194.8 685.8,1192.3 686.1,1193.7 686.4,1193.2 686.7,1188.5 687,1187.2 687.3,1188.2 687.6,1188.8 687.9,1189.8 688.2,1193.9 688.5,1194.3 688.8,1192.4 689.1,1194.4 689.4,1195.1 689.7,1193.9 690,1194 690.3,1188.4 690.6,1189.7 690.9,1195.7 691.2,1193.9 691.5,1194.1 691.8,1193.7 692.1,1190.4 692.4,1192.1 692.7,1197.1 693,1194.2 693.3,1187.5 693.6,1190.2 693.9,1190.5 694.2,1184.9 694.5,1186.4 694.8,1189.4 695.1,1193.6 695.4,1191.8 695.7,1188.4 696,1192.5 696.3,1193.4 696.6,1192.3 696.9,1191.2 697.2,1192.1 697.5,1191.3 697.8,1187.9 698.1,1186.8 698.4,1187 698.7,1188.8 699,1191.3 699.3,1192.2 699.6,1189.9 699.9,1189.8 700.2,1194.6 700.5,1194.9 700.8,1189.9 701.1,1190.7 701.4,1189.5 701.7,1186.4 702,1191.3 702.3,1195.1 702.6,1199.1 702.9,1197.4 703.2,1190.8 703.5,1195.2 703.8,1197.5 704.1,1193.1 704.4,1191.6 704.7,1193.6 705,1193 705.3,1188.9 705.6,1189.3 705.9,1194.3 706.2,1196 706.5,1194.2 706.8,1192.1 707.1,1192.1 707.4,1189.3 707.7,1189.6 708,1196.2 708.3,1195.9 708.6,1192.7 708.9,1194.1 709.2,1195.7 709.5,1192 709.8,1193.7 710.1,1195.6 710.4,1188.6 710.7,1187.1 711,1191 711.3,1191.4 711.6,1191.7 711.9,1194.9 712.2,1194.7 712.5,1193 712.8,1193.9 713.1,1191.5 713.4,1193.6 713.7,1191.4 714,1191.2 714.3,1192.3 714.6,1189.4 714.9,1195 715.2,1197.4 715.5,1194.4 715.8,1192 716.1,1193.3 716.4,1191.5 716.7,1188.5 717,1192.3 717.3,1193.9 717.6,1191.4 717.9,1194.6 718.2,1195.7 718.5,1193 718.8,1191.4 719.1,1190.5 719.4,1193.3 719.7,1197.4 720,1194.9 720.3,1193.5 720.6,1196.2 720.9,1192.7 721.2,1188.9 721.5,1189.7 721.8,1196 722.1,1199.1 722.4,1196.4 722.7,1194.7 723,1188.1 723.3,1186.3 723.6,1194.7 723.9,1194.5 724.2,1192.5 724.5,1193.7 724.8,1192.4 725.1,1190.2 725.4,1189.3 725.7,1186.9 726,1188.5 726.3,1193.9 726.6,1195.3 726.9,1195.7 727.2,1199.6 727.5,1201 727.8,1198.3 728.1,1197 728.4,1192.9 728.7,1192.7 729,1195 729.3,1193.5 729.6,1190.7 729.9,1192.5 730.2,1195.4 730.5,1197.9 730.8,1195.4 731.1,1191 731.4,1193.4 731.7,1194.2 732,1192.2 732.3,1194 732.6,1197.4 732.9,1196.3 733.2,1189.8 733.5,1191.2 733.8,1195.3 734.1,1195.1 734.4,1191.5 734.7,1187.5 735,1193.9 735.3,1196 735.6,1193.6 735.9,1195.8 736.2,1192.8 736.5,1190.7 736.8,1190.3 737.1,1191.6 737.4,1189.6 737.7,1185.4 738,1190.2 738.3,1192.2 738.6,1192.3 738.9,1192.5 739.2,1189.2 739.5,1188.4 739.8,1192 740.1,1194.5 740.4,1196.4 740.7,1194.7 741,1191.5 741.3,1194.1 741.6,1197 741.9,1193 742.2,1189.2 742.5,1195 742.8,1195.2 743.1,1188.2 743.4,1187 743.7,1190.1 744,1195.3 744.3,1192.9 744.6,1187.9 744.9,1193.4 745.2,1196.5 745.5,1194.7 745.8,1191.7 746.1,1188.6 746.4,1188.1 746.7,1189.1 747,1194.8 747.3,1191.5 747.6,1186.9 747.9,1192.4 748.2,1194 748.5,1190 748.8,1188.6 749.1,1192 749.4,1190.8 749.7,1189.4 750,1187.8 750.3,1185.1 750.6,1187.4 750.9,1188.4 751.2,1191.8 751.5,1196.3 751.8,1193.3 752.1,1190.9 752.4,1186.4 752.7,1182.9 753,1188.4 753.3,1191.5 753.6,1188.3 753.9,1189.7 754.2,1191.7 754.5,1191.8 754.8,1194.9 755.1,1195 755.4,1191.8 755.7,1190.7 756,1188.8 756.3,1189.5 756.6,1189.4 756.9,1189.6 757.2,1192.1 757.5,1188.2 757.8,1189.1 758.1,1192.7 758.4,1191.1 758.7,1189.3" stroke="#0a0a0a" stroke-width="2.0" stroke-linejoin="round"/>
</g>
<g fill="none" stroke="#333">
<rect x="62.8" y="550" width="304.7" height="302.7" stroke-width="2"/>
<path d="M62.8,650.9H367.5 M62.8,751.8H367.5" stroke-width="2"/>
<path d="M62.8,638.3h3 M367.5,638.3h-3 M62.8,625.7h5 M367.5,625.7h-5 M62.8,613.1h3 M367.5,613.1h-3 M62.8,600.4h5 M367.5,600.4h-5 M62.8,587.8h3 M367.5,587.8h-3 M62.8,575.2h5 M367.5,575.2h-5 M62.8,562.6h3 M367.5,562.6h-3 M72.7,550v5 M72.7,650.9v-5 M121.6,550v3 M121.6,650.9v-3 M170.5,550v5 M170.5,650.9v-5 M219.4,550v3 M219.4,650.9v-3 M268.2,550v5 M268.2,650.9v-5 M317.1,550v3 M317.1,650.9v-3 M366,550v5 M366,650.9v-5 M62.8,739.2h3 M367.5,739.2h-3 M62.8,726.6h5 M367.5,726.6h-5 M62.8,714h3 M367.5,714h-3 M62.8,701.3h5 M367.5,701.3h-5 M62.8,688.7h3 M367.5,688.7h-3 M62.8,676.1h5 M367.5,676.1h-5 M62.8,663.5h3 M367.5,663.5h-3 M72.7,650.9v5 M72.7,751.8v-5 M121.6,650.9v3 M121.6,751.8v-3 M170.5,650.9v5 M170.5,751.8v-5 M219.4,650.9v3 M219.4,751.8v-3 M268.2,650.9v5 M268.2,751.8v-5 M317.1,650.9v3 M317.1,751.8v-3 M366,650.9v5 M366,751.8v-5 M62.8,840.1h3 M367.5,840.1h-3 M62.8,827.5h5 M367.5,827.5h-5 M62.8,814.9h3 M367.5,814.9h-3 M62.8,802.2h5 M367.5,802.2h-5 M62.8,789.6h3 M367.5,789.6h-3 M62.8,777h5 M367.5,777h-5 M62.8,764.4h3 M367.5,764.4h-3 M72.7,751.8v5 M72.7,852.7v-5 M121.6,751.8v3 M121.6,852.7v-3 M170.5,751.8v5 M170.5,852.7v-5 M219.4,751.8v3 M219.4,852.7v-3 M268.2,751.8v5 M268.2,852.7v-5 M317.1,751.8v3 M317.1,852.7v-3 M366,751.8v5 M366,852.7v-5 " stroke-width="1.6"/>
<rect x="453" y="550" width="304.3" height="302" stroke-width="2"/>
<path d="M453,650.7H757.3 M453,751.3H757.3" stroke-width="2"/>
<path d="M453,638.1h3 M757.3,638.1h-3 M453,625.5h5 M757.3,625.5h-5 M453,612.9h3 M757.3,612.9h-3 M453,600.3h5 M757.3,600.3h-5 M453,587.8h3 M757.3,587.8h-3 M453,575.2h5 M757.3,575.2h-5 M453,562.6h3 M757.3,562.6h-3 M463,550v5 M463,650.7v-5 M511.8,550v3 M511.8,650.7v-3 M560.7,550v5 M560.7,650.7v-5 M609.5,550v3 M609.5,650.7v-3 M658.3,550v5 M658.3,650.7v-5 M707.2,550v3 M707.2,650.7v-3 M756,550v5 M756,650.7v-5 M453,738.7h3 M757.3,738.7h-3 M453,726.2h5 M757.3,726.2h-5 M453,713.6h3 M757.3,713.6h-3 M453,701h5 M757.3,701h-5 M453,688.4h3 M757.3,688.4h-3 M453,675.8h5 M757.3,675.8h-5 M453,663.2h3 M757.3,663.2h-3 M463,650.7v5 M463,751.3v-5 M511.8,650.7v3 M511.8,751.3v-3 M560.7,650.7v5 M560.7,751.3v-5 M609.5,650.7v3 M609.5,751.3v-3 M658.3,650.7v5 M658.3,751.3v-5 M707.2,650.7v3 M707.2,751.3v-3 M756,650.7v5 M756,751.3v-5 M453,839.4h3 M757.3,839.4h-3 M453,826.8h5 M757.3,826.8h-5 M453,814.2h3 M757.3,814.2h-3 M453,801.7h5 M757.3,801.7h-5 M453,789.1h3 M757.3,789.1h-3 M453,776.5h5 M757.3,776.5h-5 M453,763.9h3 M757.3,763.9h-3 M463,751.3v5 M463,852v-5 M511.8,751.3v3 M511.8,852v-3 M560.7,751.3v5 M560.7,852v-5 M609.5,751.3v3 M609.5,852v-3 M658.3,751.3v5 M658.3,852v-5 M707.2,751.3v3 M707.2,852v-3 M756,751.3v5 M756,852v-5 " stroke-width="1.6"/>
<rect x="66" y="902.6" width="303.7" height="302.2" stroke-width="2"/>
<path d="M66,1003.3H369.7 M66,1104.1H369.7" stroke-width="2"/>
<path d="M66,990.7h3 M369.7,990.7h-3 M66,978.2h5 M369.7,978.2h-5 M66,965.6h3 M369.7,965.6h-3 M66,953h5 M369.7,953h-5 M66,940.4h3 M369.7,940.4h-3 M66,927.8h5 M369.7,927.8h-5 M66,915.2h3 M369.7,915.2h-3 M75.8,902.6v5 M75.8,1003.3v-5 M124.6,902.6v3 M124.6,1003.3v-3 M173.5,902.6v5 M173.5,1003.3v-5 M222.3,902.6v3 M222.3,1003.3v-3 M271.2,902.6v5 M271.2,1003.3v-5 M320.1,902.6v3 M320.1,1003.3v-3 M66,1091.5h3 M369.7,1091.5h-3 M66,1078.9h5 M369.7,1078.9h-5 M66,1066.3h3 M369.7,1066.3h-3 M66,1053.7h5 M369.7,1053.7h-5 M66,1041.1h3 M369.7,1041.1h-3 M66,1028.5h5 M369.7,1028.5h-5 M66,1015.9h3 M369.7,1015.9h-3 M75.8,1003.3v5 M75.8,1104.1v-5 M124.6,1003.3v3 M124.6,1104.1v-3 M173.5,1003.3v5 M173.5,1104.1v-5 M222.3,1003.3v3 M222.3,1104.1v-3 M271.2,1003.3v5 M271.2,1104.1v-5 M320.1,1003.3v3 M320.1,1104.1v-3 M66,1192.2h3 M369.7,1192.2h-3 M66,1179.6h5 M369.7,1179.6h-5 M66,1167h3 M369.7,1167h-3 M66,1154.4h5 M369.7,1154.4h-5 M66,1141.8h3 M369.7,1141.8h-3 M66,1129.2h5 M369.7,1129.2h-5 M66,1116.7h3 M369.7,1116.7h-3 M75.8,1104.1v5 M75.8,1204.8v-5 M124.6,1104.1v3 M124.6,1204.8v-3 M173.5,1104.1v5 M173.5,1204.8v-5 M222.3,1104.1v3 M222.3,1204.8v-3 M271.2,1104.1v5 M271.2,1204.8v-5 M320.1,1104.1v3 M320.1,1204.8v-3 " stroke-width="1.6"/>
<rect x="456.2" y="902.6" width="303.5" height="302.4" stroke-width="2"/>
<path d="M456.2,1003.4H759.7 M456.2,1104.2H759.7" stroke-width="2"/>
<path d="M456.2,990.8h3 M759.7,990.8h-3 M456.2,978.2h5 M759.7,978.2h-5 M456.2,965.6h3 M759.7,965.6h-3 M456.2,953h5 M759.7,953h-5 M456.2,940.4h3 M759.7,940.4h-3 M456.2,927.8h5 M759.7,927.8h-5 M456.2,915.2h3 M759.7,915.2h-3 M466,902.6v5 M466,1003.4v-5 M514.8,902.6v3 M514.8,1003.4v-3 M563.7,902.6v5 M563.7,1003.4v-5 M612.5,902.6v3 M612.5,1003.4v-3 M661.3,902.6v5 M661.3,1003.4v-5 M710.2,902.6v3 M710.2,1003.4v-3 M456.2,1091.6h3 M759.7,1091.6h-3 M456.2,1079h5 M759.7,1079h-5 M456.2,1066.4h3 M759.7,1066.4h-3 M456.2,1053.8h5 M759.7,1053.8h-5 M456.2,1041.2h3 M759.7,1041.2h-3 M456.2,1028.6h5 M759.7,1028.6h-5 M456.2,1016h3 M759.7,1016h-3 M466,1003.4v5 M466,1104.2v-5 M514.8,1003.4v3 M514.8,1104.2v-3 M563.7,1003.4v5 M563.7,1104.2v-5 M612.5,1003.4v3 M612.5,1104.2v-3 M661.3,1003.4v5 M661.3,1104.2v-5 M710.2,1003.4v3 M710.2,1104.2v-3 M456.2,1192.4h3 M759.7,1192.4h-3 M456.2,1179.8h5 M759.7,1179.8h-5 M456.2,1167.2h3 M759.7,1167.2h-3 M456.2,1154.6h5 M759.7,1154.6h-5 M456.2,1142h3 M759.7,1142h-3 M456.2,1129.4h5 M759.7,1129.4h-5 M456.2,1116.8h3 M759.7,1116.8h-3 M466,1104.2v5 M466,1205v-5 M514.8,1104.2v3 M514.8,1205v-3 M563.7,1104.2v5 M563.7,1205v-5 M612.5,1104.2v3 M612.5,1205v-3 M661.3,1104.2v5 M661.3,1205v-5 M710.2,1104.2v3 M710.2,1205v-3 " stroke-width="1.6"/>
</g>
<g font-family="Liberation Sans" font-weight="bold" fill="#2a2a2a" font-size="12.3">
<text x="55.5" y="554.5" text-anchor="end">160</text>
<text x="55.5" y="579.7" text-anchor="end">120</text>
<text x="55.5" y="604.9" text-anchor="end">80</text>
<text x="55.5" y="630.2" text-anchor="end">40</text>
<text x="55.5" y="655.4" text-anchor="end">160</text>
<text x="55.5" y="680.6" text-anchor="end">120</text>
<text x="55.5" y="705.8" text-anchor="end">80</text>
<text x="55.5" y="731.1" text-anchor="end">40</text>
<text x="55.5" y="756.3" text-anchor="end">160</text>
<text x="55.5" y="781.5" text-anchor="end">120</text>
<text x="55.5" y="806.8" text-anchor="end">80</text>
<text x="55.5" y="832" text-anchor="end">40</text>
<text x="71.5" y="869.9" text-anchor="middle">20</text>
<text x="169.3" y="869.9" text-anchor="middle">25</text>
<text x="267" y="869.9" text-anchor="middle">30</text>
<text x="364.8" y="869.9" text-anchor="middle">35</text>
<text x="446" y="554.5" text-anchor="end">160</text>
<text x="446" y="579.7" text-anchor="end">120</text>
<text x="446" y="604.8" text-anchor="end">80</text>
<text x="446" y="630" text-anchor="end">40</text>
<text x="446" y="655.2" text-anchor="end">160</text>
<text x="446" y="680.3" text-anchor="end">120</text>
<text x="446" y="705.5" text-anchor="end">80</text>
<text x="446" y="730.7" text-anchor="end">40</text>
<text x="446" y="755.8" text-anchor="end">160</text>
<text x="446" y="781" text-anchor="end">120</text>
<text x="446" y="806.2" text-anchor="end">80</text>
<text x="446" y="831.3" text-anchor="end">40</text>
<text x="461.8" y="869.2" text-anchor="middle">20</text>
<text x="559.5" y="869.2" text-anchor="middle">25</text>
<text x="657.1" y="869.2" text-anchor="middle">30</text>
<text x="754.8" y="869.2" text-anchor="middle">35</text>
<text x="58.8" y="907.1" text-anchor="end">160</text>
<text x="58.8" y="932.3" text-anchor="end">120</text>
<text x="58.8" y="957.5" text-anchor="end">80</text>
<text x="58.8" y="982.7" text-anchor="end">40</text>
<text x="58.8" y="1007.8" text-anchor="end">160</text>
<text x="58.8" y="1033" text-anchor="end">120</text>
<text x="58.8" y="1058.2" text-anchor="end">80</text>
<text x="58.8" y="1083.4" text-anchor="end">40</text>
<text x="58.8" y="1108.6" text-anchor="end">160</text>
<text x="58.8" y="1133.8" text-anchor="end">120</text>
<text x="58.8" y="1158.9" text-anchor="end">80</text>
<text x="58.8" y="1184.1" text-anchor="end">40</text>
<text x="58.8" y="1209.3" text-anchor="end">0</text>
<text x="74.6" y="1222" text-anchor="middle">20</text>
<text x="172.3" y="1222" text-anchor="middle">25</text>
<text x="270" y="1222" text-anchor="middle">30</text>
<text x="367.7" y="1222" text-anchor="middle">35</text>
<text x="449" y="907.1" text-anchor="end">160</text>
<text x="449" y="932.3" text-anchor="end">120</text>
<text x="449" y="957.5" text-anchor="end">80</text>
<text x="449" y="982.7" text-anchor="end">40</text>
<text x="449" y="1007.9" text-anchor="end">160</text>
<text x="449" y="1033.1" text-anchor="end">120</text>
<text x="449" y="1058.3" text-anchor="end">80</text>
<text x="449" y="1083.5" text-anchor="end">40</text>
<text x="449" y="1108.7" text-anchor="end">160</text>
<text x="449" y="1133.9" text-anchor="end">120</text>
<text x="449" y="1159.1" text-anchor="end">80</text>
<text x="449" y="1184.3" text-anchor="end">40</text>
<text x="449" y="1209.5" text-anchor="end">0</text>
<text x="464.8" y="1222.2" text-anchor="middle">20</text>
<text x="562.5" y="1222.2" text-anchor="middle">25</text>
<text x="660.1" y="1222.2" text-anchor="middle">30</text>
<text x="757.8" y="1222.2" text-anchor="middle">35</text>
</g>
<text transform="translate(313.60,590.80) scale(1.0463,1.0404)" font-family="Liberation Serif" font-weight="bold" font-size="30" fill="#000">A</text>
<text transform="translate(297.20,694.30) scale(1.0082,1.0404)" font-family="Liberation Serif" font-weight="bold" font-size="30" fill="#000">A1</text>
<text transform="translate(300.40,795.10) scale(1.0301,1.0202)" font-family="Liberation Serif" font-weight="bold" font-size="30" fill="#000">A2</text>
<text transform="translate(710.10,590.70) scale(1.0777,0.9771)" font-family="Liberation Serif" font-weight="bold" font-size="30" fill="#000">B</text>
<text transform="translate(692.80,694.20) scale(1.0386,0.9192)" font-family="Liberation Serif" font-weight="bold" font-size="30" fill="#000">B1</text>
<text transform="translate(695.40,794.90) scale(1.0701,0.9596)" font-family="Liberation Serif" font-weight="bold" font-size="30" fill="#000">B2</text>
<text transform="translate(328.20,943.30) scale(0.9954,1.0000)" font-family="Liberation Serif" font-weight="bold" font-size="30" fill="#000">C</text>
<text transform="translate(309.90,1045.40) scale(0.9754,0.9798)" font-family="Liberation Serif" font-weight="bold" font-size="30" fill="#000">C1</text>
<text transform="translate(313.60,1147.80) scale(1.0027,0.9697)" font-family="Liberation Serif" font-weight="bold" font-size="30" fill="#000">C2</text>
<text transform="translate(716.10,943.30) scale(1.0278,1.0076)" font-family="Liberation Serif" font-weight="bold" font-size="30" fill="#000">D</text>
<text transform="translate(698.30,1045.40) scale(1.0082,0.9798)" font-family="Liberation Serif" font-weight="bold" font-size="30" fill="#000">D1</text>
<text transform="translate(700.90,1147.80) scale(1.0492,0.9697)" font-family="Liberation Serif" font-weight="bold" font-size="30" fill="#000">D2</text>
<text transform="translate(78.70,887.00) scale(1.0403,1.0509)" font-family="Liberation Sans" font-weight="bold" font-size="21" fill="#111">Scattering Angle</text>
<text transform="translate(258.60,887.00) scale(1.0936,1.0509)" font-family="Liberation Sans" font-weight="bold" font-size="21" fill="#111">(degree)</text>
<text transform="translate(20.60,794.60) rotate(-90) scale(1.0094,1.0457)" font-family="Liberation Sans" font-weight="bold" font-size="21.5" fill="#111">Intensity</text>
<text transform="translate(20.60,697.80) rotate(-90) scale(0.9964,1.0457)" font-family="Liberation Sans" font-weight="bold" font-size="21.5" fill="#111">(a.u.)</text>
<text transform="translate(460.00,887.30) scale(1.0403,1.0509)" font-family="Liberation Sans" font-weight="bold" font-size="21" fill="#111">Scattering Angle</text>
<text transform="translate(639.90,887.30) scale(1.0888,1.0509)" font-family="Liberation Sans" font-weight="bold" font-size="21" fill="#111">(degree)</text>
<text transform="translate(411.30,791.50) rotate(-90) scale(1.0106,1.0906)" font-family="Liberation Sans" font-weight="bold" font-size="21.5" fill="#111">Intensity</text>
<text transform="translate(411.30,695.30) rotate(-90) scale(0.9964,1.0906)" font-family="Liberation Sans" font-weight="bold" font-size="21.5" fill="#111">(a.u.)</text>
<text transform="translate(78.40,1256.50) scale(1.0403,1.0509)" font-family="Liberation Sans" font-weight="bold" font-size="21" fill="#111">Scattering Angle</text>
<text transform="translate(258.80,1256.50) scale(1.0972,1.0509)" font-family="Liberation Sans" font-weight="bold" font-size="21" fill="#111">(degree)</text>
<text transform="translate(23.80,1140.90) rotate(-90) scale(1.0174,1.0521)" font-family="Liberation Sans" font-weight="bold" font-size="21.5" fill="#111">Intensity</text>
<text transform="translate(23.80,1044.00) rotate(-90) scale(0.9711,1.0521)" font-family="Liberation Sans" font-weight="bold" font-size="21.5" fill="#111">(a.u.)</text>
<text transform="translate(459.20,1257.00) scale(1.0403,1.0509)" font-family="Liberation Sans" font-weight="bold" font-size="21" fill="#111">Scattering Angle</text>
<text transform="translate(639.60,1257.00) scale(1.1021,1.0509)" font-family="Liberation Sans" font-weight="bold" font-size="21" fill="#111">(degree)</text>
<text transform="translate(411.30,1140.90) rotate(-90) scale(1.0242,1.0521)" font-family="Liberation Sans" font-weight="bold" font-size="21.5" fill="#111">Intensity</text>
<text transform="translate(411.30,1044.00) rotate(-90) scale(0.9828,1.0521)" font-family="Liberation Sans" font-weight="bold" font-size="21.5" fill="#111">(a.u.)</text>
<ellipse cx="530.7" cy="1279.3" rx="1.3" ry="1.6" fill="#222"/>
</svg>
</body></html>
